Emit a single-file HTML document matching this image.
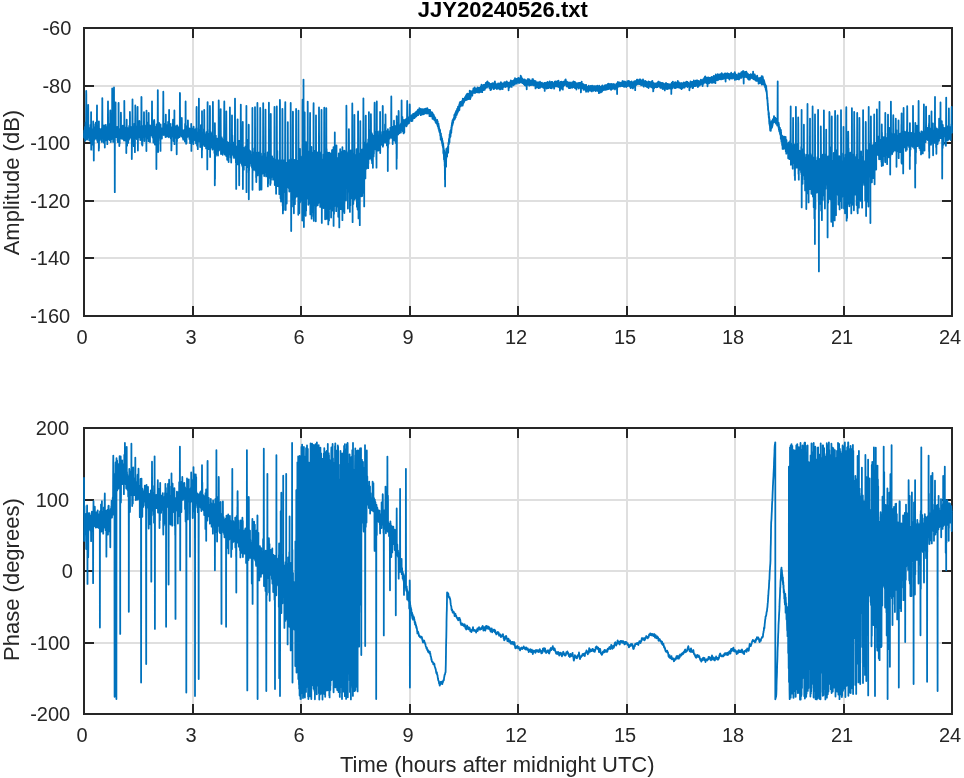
<!DOCTYPE html>
<html lang="en">
<head>
<meta charset="utf-8">
<title>JJY20240526.txt</title>
<style>
html,body{margin:0;padding:0;background:#fff;}
body{width:964px;height:778px;overflow:hidden;font-family:"Liberation Sans",sans-serif;}
svg{display:block;will-change:transform;}
text{-webkit-font-smoothing:antialiased;}
</style>
</head>
<body>
<svg width="964" height="778" viewBox="0 0 964 778">
<rect width="964" height="778" fill="#fff"/>
<g font-family="&quot;Liberation Sans&quot;, sans-serif">
<path d="M84.00 28.0V316.0M193.00 28.0V316.0M301.00 28.0V316.0M410.00 28.0V316.0M518.00 28.0V316.0M627.00 28.0V316.0M735.00 28.0V316.0M844.00 28.0V316.0M952.00 28.0V316.0M84.0 28.00H952.0M84.0 86.00H952.0M84.0 143.00H952.0M84.0 201.00H952.0M84.0 258.00H952.0M84.0 316.00H952.0" stroke="#dfdfdf" stroke-width="2.0" fill="none"/>
<path d="M84.0 28.0H952.0V316.0H84.0ZM193.00 316.0v-10M193.00 28.0v10M301.00 316.0v-10M301.00 28.0v10M410.00 316.0v-10M410.00 28.0v10M518.00 316.0v-10M518.00 28.0v10M627.00 316.0v-10M627.00 28.0v10M735.00 316.0v-10M735.00 28.0v10M844.00 316.0v-10M844.00 28.0v10M84.0 86.00h10M952.0 86.00h-10M84.0 143.00h10M952.0 143.00h-10M84.0 201.00h10M952.0 201.00h-10M84.0 258.00h10M952.0 258.00h-10" stroke="#262626" stroke-width="2.0" fill="none" stroke-linejoin="miter"/>
<clipPath id="c1"><rect x="83.0" y="27.0" width="870.0" height="290.0"/></clipPath>
<path clip-path="url(#c1)" d="M84.0 133.6L84.1 137.5L84.2 130.7L84.3 133.1L84.3 130.3L84.5 134.1L84.5 138.1L84.6 132.8L84.7 137.1L84.8 138.3L85.0 127.0L85.0 127.9L85.2 140.8L85.2 132.4L85.3 130.3L85.4 140.1L85.5 130.9L85.5 135.0L85.6 122.5L85.7 135.2L85.7 132.7L85.8 133.2L85.8 131.3L86.0 136.7L86.0 133.0L86.2 90.9L86.3 94.3L86.4 131.4L86.5 130.8L86.5 137.6L86.7 128.1L86.8 133.7L86.9 137.1L87.0 126.9L87.0 132.7L87.2 139.6L87.3 131.5L87.3 131.1L87.4 137.0L87.5 133.6L87.5 135.5L87.6 128.6L87.7 136.7L87.8 131.4L88.0 137.0L88.0 133.5L88.2 104.8L88.3 116.3L88.4 136.7L88.5 128.9L88.5 137.6L88.7 130.1L88.8 133.9L88.9 134.2L89.0 129.8L89.0 133.2L89.1 127.8L89.2 140.3L89.3 135.5L89.3 132.4L89.5 136.2L89.5 133.6L89.6 129.6L89.7 135.7L89.8 130.0L89.8 137.6L90.0 135.0L90.0 135.7L90.2 129.9L90.3 135.7L90.4 141.2L90.5 124.9L90.5 134.0L90.6 134.2L90.7 129.4L90.7 130.8L90.8 127.4L90.9 138.8L91.0 136.4L91.0 139.8L91.1 112.1L91.2 149.7L91.3 131.1L91.4 135.5L91.4 129.7L91.5 134.4L91.5 135.8L91.6 138.1L91.7 129.7L91.7 131.0L91.8 134.4L91.9 137.8L92.0 132.1L92.0 130.9L92.1 135.5L92.2 132.4L92.3 132.1L92.3 136.5L92.5 129.4L92.5 138.7L92.6 129.9L92.7 144.5L92.7 134.2L92.8 133.3L92.9 128.9L93.0 130.7L93.0 131.8L93.1 136.2L93.2 121.5L93.3 141.3L93.3 129.4L93.5 150.8L93.5 146.4L93.7 128.4L93.7 134.8L93.8 160.5L93.9 129.5L94.0 131.3L94.0 132.7L94.2 128.6L94.2 134.1L94.3 131.4L94.4 139.8L94.4 130.5L94.5 135.6L94.5 131.2L94.6 128.7L94.7 135.9L94.8 136.0L94.9 127.2L95.0 130.3L95.0 131.7L95.1 133.9L95.1 126.7L95.2 129.5L95.3 124.2L95.4 135.3L95.5 134.9L95.5 129.5L95.7 138.5L95.7 132.3L95.8 122.7L95.8 137.6L96.0 131.9L96.0 127.7L96.2 134.4L96.3 128.1L96.4 131.6L96.5 127.0L96.5 129.8L96.6 125.7L96.6 131.8L96.7 129.1L96.8 130.1L97.0 105.4L97.0 115.8L97.2 140.2L97.3 137.4L97.4 129.0L97.5 132.0L97.5 130.0L97.6 142.1L97.7 134.0L97.8 135.0L97.8 132.1L98.0 137.3L98.0 135.3L98.2 129.8L98.2 133.7L98.3 135.2L98.4 127.3L98.4 135.5L98.5 134.6L98.5 135.0L98.6 135.6L98.6 132.4L98.7 133.1L98.8 135.2L98.8 150.5L98.9 121.5L99.0 135.4L99.0 148.3L99.1 134.1L99.2 135.8L99.3 133.7L99.4 139.7L99.5 133.8L99.5 133.2L99.6 129.6L99.7 135.9L99.8 133.6L99.8 139.9L99.9 128.8L100.0 134.5L100.0 129.1L100.2 138.7L100.2 130.0L100.3 131.1L100.4 130.3L100.4 135.7L100.5 131.1L100.5 133.5L100.6 131.3L100.7 136.2L100.7 131.4L100.8 131.4L100.9 137.2L101.0 133.1L101.0 134.8L101.2 132.8L101.3 134.1L101.3 136.8L101.5 131.3L101.5 132.8L101.6 132.7L101.7 141.9L101.8 135.4L101.8 128.3L101.9 136.8L102.0 132.0L102.0 137.4L102.2 119.6L102.3 103.0L102.3 98.1L102.5 136.0L102.5 135.9L102.6 125.8L102.7 133.4L102.8 134.4L102.8 128.3L102.9 136.1L103.0 129.5L103.0 132.0L103.1 129.2L103.2 133.8L103.2 132.5L103.3 133.1L103.5 137.5L103.5 131.5L103.6 142.6L103.7 130.1L103.7 132.7L103.8 135.6L103.8 135.7L104.0 125.3L104.0 129.4L104.1 133.4L104.2 130.2L104.3 134.0L104.4 126.1L104.5 136.0L104.5 131.1L104.6 127.1L104.7 143.5L104.8 134.3L104.8 147.5L104.9 129.9L105.0 134.1L105.0 129.8L105.1 137.7L105.2 134.3L105.3 135.2L105.4 125.2L105.5 140.6L105.5 133.6L105.6 134.0L105.7 130.6L105.7 132.1L105.8 124.8L105.9 136.2L106.0 132.2L106.0 132.3L106.1 135.5L106.2 131.4L106.2 134.3L106.3 133.7L106.4 127.0L106.5 139.8L106.5 131.1L106.6 140.4L106.7 128.5L106.7 134.2L106.8 131.0L107.0 137.3L107.0 131.8L107.1 137.4L107.2 129.2L107.2 132.9L107.3 133.3L107.3 144.2L107.4 131.7L107.5 131.9L107.5 134.3L107.6 127.6L107.7 139.7L107.8 130.1L107.8 139.0L108.0 101.4L108.0 105.0L108.2 135.7L108.3 133.6L108.4 137.1L108.5 133.8L108.5 135.6L108.6 138.7L108.7 124.0L108.7 133.7L108.8 130.9L108.9 137.8L109.0 135.9L109.0 131.8L109.2 134.8L109.2 132.8L109.3 139.2L109.3 132.4L109.5 133.0L109.5 131.4L109.6 140.1L109.7 129.2L109.8 134.8L109.8 130.1L109.9 136.4L110.0 131.2L110.0 134.0L110.1 136.2L110.2 112.5L110.3 110.3L110.5 135.3L110.6 132.0L110.7 134.9L110.8 135.2L110.8 142.1L110.9 132.3L111.0 133.2L111.0 129.7L111.1 129.5L111.2 132.5L111.2 131.3L111.3 134.2L111.4 134.5L111.5 127.5L111.5 131.3L111.6 129.6L111.6 139.0L111.7 133.0L111.8 134.6L111.8 135.1L111.9 125.9L112.0 129.3L112.0 132.7L112.1 133.9L112.2 88.5L112.3 96.6L112.5 137.9L112.5 132.0L112.6 135.8L112.7 128.0L112.8 132.2L112.9 138.0L113.0 131.8L113.0 134.5L113.1 130.6L113.2 141.9L113.2 137.1L113.3 112.8L113.4 138.1L113.5 133.3L113.5 132.0L113.7 122.7L113.7 128.8L113.8 132.1L113.8 133.6L114.0 101.9L114.0 87.3L114.1 131.7L114.2 124.9L114.3 130.1L114.4 139.3L114.5 133.4L114.5 129.4L114.6 137.4L114.7 128.7L114.7 133.1L114.8 192.2L114.9 128.2L115.0 132.4L115.0 131.7L115.2 129.0L115.2 132.3L115.3 131.8L115.3 134.8L115.5 126.1L115.5 105.3L115.6 102.3L115.7 130.3L115.8 131.6L115.8 129.2L116.0 137.1L116.0 130.6L116.1 129.5L116.2 134.9L116.3 131.3L116.5 127.8L116.5 127.6L116.6 134.9L116.7 132.1L116.8 131.1L116.9 134.4L117.0 127.3L117.0 132.6L117.1 126.8L117.2 135.4L117.3 132.2L117.5 137.7L117.5 138.0L117.6 140.6L117.7 130.8L117.8 136.2L117.9 142.2L118.0 132.9L118.0 130.3L118.1 134.3L118.2 129.8L118.2 132.8L118.3 135.5L118.5 126.5L118.5 103.4L118.6 102.8L118.7 134.0L118.8 136.0L118.8 131.5L119.0 132.6L119.0 134.9L119.1 141.8L119.2 133.7L119.2 137.4L119.3 134.6L119.3 146.0L119.5 131.9L119.5 134.8L119.6 129.4L119.7 143.4L119.7 136.2L119.9 135.3L120.0 133.1L120.0 135.0L120.1 136.8L120.2 131.7L120.3 132.7L120.3 137.6L120.4 132.3L120.5 133.7L120.5 135.0L120.6 135.4L120.6 131.4L120.7 131.6L120.8 136.8L120.9 112.6L121.0 116.1L121.0 125.6L121.2 138.4L121.3 133.4L121.4 136.3L121.5 131.9L121.5 133.2L121.6 137.4L121.7 132.5L121.8 138.7L121.9 129.2L121.9 134.6L122.0 131.8L122.2 135.2L122.2 127.4L122.3 138.6L122.3 128.8L122.5 131.6L122.5 134.6L122.6 137.1L122.7 133.4L122.8 125.6L122.9 137.8L123.0 131.4L123.0 132.8L123.1 129.5L123.1 137.5L123.2 130.3L123.3 136.0L123.3 139.3L123.5 129.5L123.5 133.6L123.7 138.0L123.7 133.3L123.9 133.5L124.0 130.7L124.0 140.5L124.1 132.2L124.2 132.8L124.3 116.3L124.3 100.8L124.5 127.9L124.5 127.3L124.7 137.4L124.7 134.8L124.8 135.2L124.9 128.1L125.0 138.4L125.0 134.3L125.1 137.3L125.1 134.2L125.2 134.9L125.3 133.8L125.4 140.6L125.5 132.3L125.5 132.9L125.6 132.5L125.7 136.5L125.8 133.9L125.8 127.4L125.9 139.0L126.0 128.8L126.0 132.1L126.2 138.6L126.2 134.8L126.3 153.1L126.4 137.5L126.5 140.1L126.5 133.6L126.6 137.1L126.7 119.7L126.7 120.8L126.8 135.5L127.0 130.2L127.0 135.4L127.1 145.7L127.2 131.9L127.2 139.8L127.3 132.9L127.3 135.9L127.5 130.8L127.5 133.7L127.6 132.5L127.7 137.9L127.7 135.7L127.8 132.0L127.9 139.2L127.9 128.2L128.0 132.2L128.0 133.8L128.2 131.1L128.2 142.9L128.3 133.5L128.4 129.6L128.5 132.1L128.5 128.5L128.6 135.6L128.7 130.3L128.8 136.7L128.9 139.7L129.0 133.3L129.0 129.5L129.2 138.7L129.2 125.9L129.3 132.4L129.3 135.5L129.5 130.6L129.5 132.1L129.6 136.1L129.7 130.6L129.8 138.1L129.9 111.9L130.0 117.6L130.0 135.3L130.1 131.0L130.2 136.4L130.2 132.9L130.3 136.8L130.3 128.5L130.5 132.2L130.5 136.3L130.7 129.9L130.7 132.6L130.8 133.2L130.9 135.2L130.9 130.1L131.0 134.4L131.0 135.4L131.1 132.2L131.2 135.5L131.3 127.1L131.3 134.7L131.5 131.2L131.5 136.2L131.6 129.6L131.7 139.7L131.8 133.9L131.8 159.1L132.0 130.3L132.0 139.9L132.2 128.8L132.3 130.0L132.3 136.9L132.5 99.4L132.5 101.7L132.7 137.7L132.8 131.2L132.9 128.9L133.0 133.0L133.0 134.3L133.1 139.3L133.2 138.2L133.3 134.4L133.4 133.2L133.4 137.4L133.5 133.9L133.5 142.9L133.6 130.9L133.7 137.6L133.8 146.2L134.0 132.6L134.0 141.3L134.2 132.9L134.3 133.1L134.3 133.8L134.5 123.6L134.5 134.0L134.7 143.5L134.7 134.1L134.8 134.6L134.8 130.2L134.9 152.2L135.0 136.1L135.0 132.5L135.1 132.8L135.2 122.5L135.3 114.2L135.3 105.4L135.5 130.5L135.5 132.2L135.7 137.1L135.8 138.0L135.9 138.0L136.0 130.3L136.0 131.9L136.2 126.5L136.2 136.6L136.3 138.0L136.4 130.5L136.5 131.6L136.5 131.5L136.6 133.6L136.7 129.1L136.7 132.2L136.8 132.6L136.8 131.4L136.9 139.2L137.0 133.8L137.0 129.0L137.2 134.6L137.3 131.8L137.3 136.3L137.5 109.1L137.5 107.8L137.6 106.8L137.7 134.1L137.8 132.2L137.9 150.6L138.0 131.3L138.0 131.5L138.1 137.3L138.2 132.1L138.3 136.2L138.5 129.2L138.5 134.5L138.6 127.0L138.6 137.3L138.7 135.5L138.8 133.5L138.9 124.3L139.0 132.6L139.0 133.1L139.2 137.4L139.2 132.0L139.3 128.3L139.4 120.9L139.5 135.3L139.5 131.4L139.6 126.2L139.6 134.3L139.7 130.0L139.8 133.9L139.9 131.5L140.0 136.4L140.0 134.8L140.1 137.8L140.2 137.6L140.3 131.1L140.3 140.1L140.5 138.6L140.5 138.0L140.6 132.7L140.7 138.0L140.7 135.7L140.8 129.9L140.9 128.5L140.9 133.6L141.0 132.6L141.0 128.9L141.2 138.4L141.3 131.3L141.3 131.9L141.4 96.9L141.5 97.1L141.5 102.1L141.7 138.0L141.8 132.9L141.9 129.4L142.0 144.4L142.0 130.7L142.1 130.0L142.1 138.7L142.2 133.3L142.3 133.0L142.3 129.9L142.4 145.5L142.5 140.1L142.5 130.2L142.6 134.3L142.7 128.8L142.8 132.3L142.9 137.4L143.0 133.1L143.0 136.0L143.2 125.8L143.2 133.4L143.3 132.2L143.4 135.2L143.5 132.6L143.6 135.1L143.7 132.0L143.8 132.8L143.8 136.4L144.0 112.5L144.0 112.2L144.2 134.6L144.2 134.3L144.3 130.5L144.4 130.1L144.4 141.0L144.5 132.8L144.5 132.0L144.6 129.6L144.7 133.6L144.7 129.9L144.8 136.3L144.9 129.7L145.0 132.7L145.0 136.7L145.2 130.2L145.3 131.5L145.4 133.5L145.4 129.8L145.5 130.1L145.5 125.9L145.6 134.2L145.7 129.5L145.8 128.2L145.9 126.9L146.0 136.1L146.0 134.1L146.1 125.1L146.2 128.4L146.3 132.7L146.4 151.0L146.5 110.6L146.5 123.8L146.6 135.2L146.7 130.5L146.8 134.7L146.9 130.4L147.0 133.2L147.0 131.9L147.1 122.5L147.2 127.3L147.3 127.6L147.3 133.9L147.5 127.4L147.7 127.7L147.7 130.4L147.8 128.9L147.9 133.1L148.0 132.6L148.0 130.6L148.1 125.7L148.2 139.1L148.3 134.5L148.4 129.1L148.5 133.4L148.5 141.2L148.7 113.0L148.7 116.9L148.8 126.5L148.8 132.1L149.0 127.3L149.0 135.7L149.1 128.7L149.2 132.3L149.3 129.2L149.3 132.8L149.4 128.1L149.5 130.4L149.5 132.2L149.7 128.9L149.7 134.8L149.8 127.7L150.0 142.1L150.0 125.3L150.2 132.7L150.3 129.2L150.4 126.1L150.5 134.9L150.5 128.4L150.6 129.4L150.6 126.0L150.7 128.5L150.8 127.7L151.0 133.3L151.0 132.2L151.1 127.7L151.1 132.7L151.2 131.9L151.3 131.1L151.3 132.4L151.4 126.8L151.5 131.4L151.5 129.7L151.6 135.5L151.7 130.4L151.8 131.6L151.8 134.9L152.0 107.2L152.0 101.3L152.2 131.2L152.2 129.1L152.3 131.1L152.3 133.6L152.5 125.0L152.5 131.0L152.6 137.6L152.7 129.2L152.7 131.3L152.8 128.4L152.8 127.3L153.0 133.6L153.0 128.3L153.1 134.3L153.1 127.6L153.2 133.7L153.3 132.2L153.3 130.1L153.4 142.6L153.5 135.9L153.5 136.4L153.6 128.0L153.6 137.9L153.7 131.6L153.8 130.1L153.9 132.5L153.9 120.9L154.0 129.9L154.0 135.0L154.2 120.0L154.3 121.6L154.5 132.8L154.6 132.6L154.7 130.3L154.8 126.3L154.9 144.6L155.0 130.2L155.0 137.9L155.1 128.4L155.2 132.8L155.3 131.3L155.4 133.8L155.4 130.4L155.5 133.2L155.6 131.0L155.7 133.2L155.9 130.9L155.9 130.0L156.0 126.8L156.2 131.4L156.2 130.1L156.3 128.9L156.3 127.4L156.4 169.1L156.5 129.8L156.5 130.0L156.6 132.9L156.7 124.3L156.7 127.3L156.8 132.3L156.9 126.7L157.0 135.7L157.0 129.0L157.1 147.7L157.2 130.0L157.3 131.7L157.3 128.9L157.4 137.4L157.5 131.5L157.5 130.6L157.6 132.1L157.7 116.1L157.8 97.9L157.8 90.2L158.0 132.1L158.0 133.4L158.1 152.1L158.2 128.6L158.3 132.1L158.3 136.4L158.5 129.4L158.5 131.3L158.6 126.7L158.7 136.8L158.7 131.6L158.8 134.3L158.9 123.3L159.0 129.8L159.0 132.5L159.1 122.9L159.2 133.3L159.3 132.0L159.3 127.4L159.4 135.4L159.5 129.5L159.5 128.3L159.7 137.7L159.8 132.8L159.8 137.5L159.9 125.8L160.0 129.8L160.0 133.7L160.1 140.6L160.2 130.0L160.3 144.3L160.4 130.4L160.5 150.9L160.5 129.2L160.6 124.5L160.6 134.2L160.7 129.5L160.8 138.6L160.8 130.6L161.0 137.2L161.0 137.4L161.1 130.0L161.2 132.2L161.3 129.8L161.4 131.8L161.5 134.2L161.6 135.0L161.7 129.5L161.7 131.4L161.8 131.6L161.8 128.5L161.9 138.6L162.0 129.1L162.0 130.3L162.2 133.5L162.3 134.1L162.3 134.2L162.5 131.1L162.5 129.8L162.7 134.6L162.7 131.7L162.8 132.4L163.0 130.6L163.0 134.5L163.2 113.6L163.3 96.5L163.3 91.7L163.5 131.5L163.5 129.2L163.6 127.7L163.7 134.4L163.8 135.0L164.0 128.5L164.0 127.4L164.1 127.2L164.1 134.6L164.2 133.1L164.3 131.1L164.4 133.4L164.4 123.8L164.5 129.0L164.5 130.8L164.7 128.8L164.7 133.0L164.8 128.9L164.8 133.5L165.0 124.4L165.0 128.9L165.1 133.7L165.2 124.2L165.2 130.5L165.3 135.2L165.4 128.7L165.5 137.1L165.5 131.4L165.7 131.9L165.7 126.5L165.8 115.0L165.8 114.6L166.0 132.9L166.0 136.9L166.1 126.3L166.2 127.3L166.3 131.8L166.4 128.8L166.5 133.5L166.5 132.0L166.6 132.1L166.7 124.9L166.8 134.6L166.8 135.9L166.9 129.2L167.0 130.8L167.0 129.1L167.2 136.2L167.2 127.3L167.3 130.9L167.4 127.1L167.4 132.3L167.5 130.3L167.5 131.0L167.6 128.1L167.7 132.9L167.8 129.7L167.9 127.7L167.9 136.6L168.0 135.2L168.0 131.7L168.1 122.0L168.2 135.9L168.3 132.3L168.4 127.3L168.5 132.2L168.5 130.2L168.6 129.5L168.7 132.7L168.8 136.9L168.8 131.3L168.9 137.3L169.0 135.3L169.0 127.0L169.1 109.8L169.2 131.6L169.3 134.3L169.4 134.8L169.5 130.9L169.5 129.4L169.6 133.9L169.7 131.5L169.8 133.0L169.8 134.9L169.9 129.3L170.0 129.7L170.0 135.0L170.2 124.0L170.2 132.2L170.3 131.2L170.3 136.1L170.4 130.8L170.5 131.0L170.6 129.2L170.7 131.9L170.8 129.8L170.8 138.6L171.0 127.5L171.0 133.4L171.1 129.7L171.2 133.0L171.3 128.7L171.4 150.4L171.5 138.6L171.5 147.0L171.6 129.2L171.7 131.3L171.8 132.9L171.8 131.9L171.9 137.1L172.0 135.6L172.0 127.2L172.1 133.6L172.2 127.0L172.2 131.3L172.3 131.9L172.4 135.0L172.5 131.5L172.5 123.4L172.6 133.2L172.7 130.3L172.8 128.1L172.8 135.0L173.0 129.1L173.0 119.7L173.1 134.2L173.2 129.2L173.3 128.8L173.4 129.4L173.5 121.3L173.5 141.0L173.7 125.7L173.7 128.2L173.8 128.4L173.9 130.7L174.0 136.8L174.2 130.2L174.3 140.2L174.4 110.4L174.5 144.2L174.5 129.9L174.6 128.9L174.6 134.8L174.7 133.3L174.8 126.8L175.0 129.1L175.0 130.5L175.1 136.1L175.2 134.7L175.3 130.5L175.4 133.3L175.4 129.3L175.5 130.2L175.5 129.4L175.6 135.1L175.7 126.5L175.8 131.2L175.8 128.3L175.9 135.0L176.0 131.4L176.0 132.7L176.1 137.9L176.2 129.6L176.3 131.5L176.4 133.0L176.4 128.1L176.5 128.9L176.5 126.2L176.7 154.3L176.8 133.5L176.9 133.5L176.9 128.6L177.0 132.3L177.0 141.2L177.1 125.4L177.2 135.0L177.3 128.1L177.3 134.9L177.5 133.3L177.5 134.2L177.6 135.5L177.7 130.0L177.8 132.1L177.8 127.7L177.9 134.0L178.0 130.1L178.0 137.0L178.1 131.5L178.2 137.9L178.2 132.0L178.3 134.0L178.3 131.1L178.4 135.8L178.5 132.9L178.5 133.0L178.7 135.9L178.7 128.7L178.8 130.3L178.8 129.9L178.9 135.7L179.0 134.1L179.0 133.6L179.2 126.3L179.3 133.1L179.4 127.4L179.5 127.7L179.5 133.5L179.6 127.5L179.6 137.1L179.7 129.5L179.8 127.4L179.8 132.9L179.9 93.0L180.0 93.4L180.0 106.1L180.2 130.8L180.3 132.8L180.4 128.9L180.5 130.7L180.5 133.0L180.6 125.7L180.7 135.5L180.7 132.3L180.8 129.4L180.9 135.2L181.0 132.8L181.0 131.7L181.1 133.8L181.1 123.8L181.2 128.0L181.3 125.9L181.3 133.8L181.5 130.0L181.5 134.9L181.6 127.9L181.7 136.4L181.7 131.7L181.8 121.2L181.8 118.0L182.0 132.4L182.0 133.4L182.1 134.8L182.2 129.8L182.3 133.8L182.4 136.0L182.5 131.8L182.5 135.2L182.6 134.0L182.7 137.6L182.8 134.5L182.8 132.0L183.0 135.3L183.1 139.1L183.2 132.3L183.3 137.5L183.3 139.7L183.5 132.5L183.5 137.4L183.6 131.3L183.7 135.9L183.8 130.6L183.9 130.1L184.0 138.8L184.0 135.3L184.1 131.0L184.2 136.3L184.3 137.2L184.5 130.5L184.5 132.9L184.7 137.3L184.7 132.7L184.8 130.7L184.9 141.6L185.0 136.7L185.0 133.0L185.1 123.8L185.2 133.9L185.2 128.2L185.3 130.1L185.5 141.0L185.5 133.9L185.6 101.5L185.7 125.2L185.8 132.7L185.9 138.1L186.0 130.0L186.0 131.7L186.1 143.8L186.2 141.1L186.3 131.4L186.3 128.4L186.5 143.2L186.5 135.3L186.6 138.0L186.7 129.2L186.7 130.3L186.8 133.1L186.9 126.4L187.0 135.1L187.0 133.2L187.2 131.7L187.2 136.7L187.3 132.2L187.3 130.6L187.4 134.3L187.5 130.9L187.5 130.5L187.7 136.4L187.7 136.0L187.8 136.8L187.9 120.3L188.0 124.2L188.0 132.4L188.1 130.9L188.2 135.8L188.2 135.0L188.3 130.4L188.3 135.7L188.5 135.3L188.5 135.5L188.7 129.6L188.7 133.0L188.8 130.2L189.0 133.8L189.0 131.1L189.1 135.1L189.2 131.5L189.3 135.3L189.3 128.5L189.4 138.9L189.5 138.3L189.5 139.1L189.6 130.1L189.7 133.4L189.8 136.1L189.9 137.7L190.0 132.4L190.0 132.1L190.1 143.2L190.2 129.2L190.2 138.3L190.3 132.4L190.3 134.2L190.5 130.1L190.5 134.6L190.6 136.1L190.7 132.9L190.8 135.5L190.8 137.2L190.9 132.9L191.0 134.3L191.0 135.9L191.1 143.2L191.2 123.8L191.3 134.5L191.4 130.7L191.4 150.9L191.5 138.9L191.5 129.3L191.7 135.9L191.7 135.0L191.8 143.1L191.8 129.8L192.0 133.9L192.0 133.4L192.1 142.4L192.2 128.9L192.3 135.6L192.5 133.2L192.5 129.4L192.6 137.8L192.7 130.5L192.8 133.9L192.8 130.5L192.9 140.3L193.0 135.1L193.0 133.3L193.2 139.9L193.2 132.1L193.3 130.6L193.4 127.0L193.4 144.0L193.5 139.1L193.5 130.4L193.6 126.7L193.7 131.2L193.7 129.8L193.8 138.5L193.9 138.7L194.0 132.7L194.0 131.2L194.1 138.3L194.2 130.8L194.2 137.5L194.3 135.9L194.3 139.9L194.4 132.9L194.5 134.8L194.5 132.3L194.6 130.8L194.7 136.0L194.8 134.2L194.9 135.8L195.0 132.5L195.0 130.3L195.1 129.5L195.2 135.2L195.3 136.2L195.3 140.4L195.4 132.7L195.5 137.2L195.5 132.1L195.6 139.0L195.7 134.4L195.9 136.8L195.9 134.1L196.0 143.4L196.2 135.5L196.3 135.2L196.3 127.9L196.4 135.4L196.5 129.5L196.5 110.6L196.6 106.9L196.7 135.2L196.8 135.3L196.8 139.5L196.9 132.3L197.0 136.5L197.0 138.6L197.1 145.7L197.2 136.7L197.3 132.4L197.3 140.8L197.5 139.6L197.5 133.7L197.7 144.1L197.8 149.2L198.0 132.6L198.0 133.0L198.2 140.1L198.3 136.0L198.4 140.9L198.5 138.9L198.5 136.9L198.6 128.0L198.7 135.1L198.8 129.7L198.9 98.6L199.0 132.1L199.0 141.6L199.1 134.0L199.2 141.7L199.3 140.6L199.5 134.3L199.5 140.2L199.7 141.2L199.7 129.7L199.8 136.2L199.9 131.2L200.0 140.6L200.0 138.1L200.1 134.2L200.2 147.1L200.3 131.1L200.4 142.4L200.5 135.8L200.5 141.0L200.7 137.2L200.7 140.8L200.8 138.1L200.9 125.1L200.9 139.1L201.0 137.7L201.0 138.4L201.1 138.3L201.2 144.4L201.3 138.1L201.3 140.0L201.4 126.8L201.5 134.7L201.5 130.5L201.7 142.5L201.8 138.9L201.9 157.4L202.0 121.8L202.0 111.2L202.1 150.1L202.2 134.4L202.3 140.6L202.4 140.8L202.5 136.1L202.5 137.4L202.6 137.3L202.7 143.9L202.7 137.5L202.8 142.1L202.9 132.7L203.0 137.5L203.0 139.2L203.1 141.8L203.2 137.4L203.3 136.3L203.4 141.4L203.5 136.5L203.5 143.9L203.6 135.6L203.7 141.1L203.8 133.1L203.8 139.7L203.9 129.1L204.0 137.0L204.0 144.2L204.1 145.6L204.2 109.9L204.2 112.2L204.3 119.1L204.4 146.0L204.5 143.9L204.5 134.8L204.6 143.8L204.7 141.6L204.8 140.3L204.9 142.4L204.9 134.2L205.0 136.6L205.0 139.6L205.1 136.4L205.2 141.7L205.2 138.6L205.3 139.4L205.4 145.8L205.5 134.8L205.5 136.6L205.6 136.6L205.7 145.6L205.8 145.5L205.9 137.4L206.0 145.2L206.0 137.5L206.1 148.4L206.2 136.7L206.3 136.9L206.3 141.5L206.4 132.2L206.5 140.6L206.5 136.6L206.6 146.1L206.7 136.5L206.8 141.4L206.9 142.9L207.0 135.6L207.0 138.1L207.1 136.1L207.2 143.0L207.2 142.7L207.3 169.4L207.5 120.7L207.5 112.9L207.6 102.1L207.7 143.3L207.8 138.5L207.9 137.1L208.0 142.4L208.0 137.3L208.2 143.7L208.2 137.6L208.3 141.7L208.4 133.7L208.5 149.2L208.6 140.4L208.7 138.2L208.8 144.2L208.9 140.2L209.0 142.2L209.0 142.9L209.1 133.6L209.2 143.4L209.2 138.6L209.3 140.6L209.3 138.8L209.4 142.0L209.5 139.6L209.5 143.2L209.7 129.5L209.8 139.1L209.9 106.0L210.0 109.3L210.0 127.4L210.1 157.1L210.2 136.2L210.3 138.5L210.4 135.0L210.5 139.2L210.5 131.8L210.6 144.5L210.7 140.3L210.8 140.8L210.8 137.4L210.9 144.5L211.0 142.6L211.0 140.6L211.1 138.3L211.2 143.1L211.2 142.3L211.3 140.4L211.3 145.4L211.5 136.7L211.5 143.3L211.6 139.2L211.7 147.6L211.7 143.4L211.8 137.9L211.8 140.7L212.0 136.8L212.0 144.1L212.1 138.8L212.2 139.5L212.3 138.6L212.3 133.0L212.5 149.5L212.5 147.7L212.7 137.2L212.8 117.9L212.9 101.8L213.0 122.6L213.0 147.4L213.2 139.4L213.2 143.6L213.3 140.5L213.4 144.5L213.5 144.4L213.5 142.5L213.6 148.7L213.7 140.1L213.8 144.2L213.9 136.5L214.0 147.6L214.0 145.3L214.2 138.3L214.3 145.2L214.4 140.4L214.4 153.0L214.5 144.2L214.5 144.7L214.6 139.0L214.7 139.7L214.8 144.2L214.8 185.3L214.9 123.1L215.0 130.4L215.0 179.1L215.2 136.5L215.3 142.3L215.3 147.5L215.4 140.0L215.5 144.5L215.5 150.1L215.6 140.3L215.7 156.0L215.7 145.3L215.8 144.8L215.8 135.6L216.0 143.7L216.0 141.6L216.1 155.0L216.2 138.5L216.2 140.0L216.3 149.1L216.5 140.1L216.5 146.6L216.6 145.5L216.7 150.6L216.8 143.1L216.8 139.6L217.0 141.1L217.0 143.6L217.1 139.8L217.1 150.2L217.2 145.2L217.3 147.3L217.4 138.7L217.5 141.2L217.5 138.9L217.6 145.5L217.7 138.9L217.8 140.4L218.0 155.5L218.0 141.3L218.1 145.0L218.2 142.8L218.3 142.4L218.4 138.8L218.5 146.5L218.5 146.3L218.6 148.4L218.7 100.4L218.8 106.2L218.9 150.5L219.0 142.9L219.0 142.7L219.1 140.8L219.2 150.1L219.3 142.6L219.5 148.6L219.5 142.9L219.7 146.3L219.7 140.3L219.8 148.8L219.9 139.5L220.0 140.0L220.0 141.7L220.2 147.2L220.3 149.4L220.4 140.4L220.5 145.2L220.5 143.9L220.7 109.1L220.7 116.5L220.8 130.4L221.0 154.0L221.0 146.3L221.2 146.7L221.2 140.7L221.3 149.0L221.3 152.6L221.5 141.7L221.5 145.0L221.6 137.1L221.7 148.4L221.8 145.1L222.0 150.6L222.0 145.3L222.1 138.4L222.2 148.3L222.3 143.7L222.4 140.3L222.5 147.0L222.5 148.4L222.6 142.6L222.7 154.8L222.8 142.0L222.9 151.3L223.0 146.2L223.0 143.6L223.1 148.6L223.2 147.3L223.3 146.8L223.3 151.1L223.5 141.6L223.5 143.3L223.6 149.2L223.7 139.7L223.8 147.8L223.8 152.3L223.9 143.8L224.0 147.0L224.0 148.0L224.2 111.5L224.3 101.4L224.5 151.2L224.5 147.1L224.6 153.8L224.7 146.9L224.7 147.1L224.8 148.4L224.8 154.6L224.9 141.0L225.0 146.9L225.0 152.8L225.2 140.2L225.2 147.9L225.3 148.5L225.3 145.2L225.4 150.8L225.5 148.5L225.5 145.0L225.7 154.2L225.7 148.7L225.8 150.7L225.8 155.1L226.0 144.3L226.0 146.6L226.2 156.1L226.2 137.2L226.3 116.5L226.3 111.3L226.5 147.4L226.5 150.2L226.7 145.0L226.7 150.2L226.8 153.2L226.9 153.9L226.9 147.5L227.0 152.2L227.0 146.4L227.2 159.8L227.2 143.0L227.3 145.5L227.3 158.3L227.5 146.4L227.5 143.0L227.6 142.1L227.7 151.1L227.7 149.8L227.8 157.8L228.0 146.0L228.0 143.9L228.1 149.1L228.2 143.9L228.3 150.1L228.4 154.3L228.4 145.3L228.5 152.1L228.5 149.0L228.6 162.1L228.7 143.9L228.7 145.2L228.8 146.0L228.9 143.0L229.0 149.7L229.0 147.0L229.2 154.4L229.2 151.3L229.3 144.2L229.5 152.1L229.5 150.0L229.6 153.2L229.7 142.7L229.7 150.8L229.8 150.0L229.9 107.5L230.0 138.3L230.0 141.3L230.2 152.2L230.2 152.0L230.3 149.3L230.3 143.5L230.4 145.8L230.5 149.2L230.6 157.6L230.7 149.5L230.8 150.1L230.9 153.0L231.0 147.3L231.0 148.6L231.2 162.5L231.2 145.1L231.3 146.8L231.4 143.7L231.4 157.9L231.5 147.5L231.5 149.9L231.6 145.5L231.7 150.8L231.8 152.9L231.8 154.4L232.0 115.4L232.0 130.5L232.1 154.3L232.2 153.5L232.3 154.5L232.3 135.3L232.5 148.1L232.5 146.7L232.7 154.1L232.7 149.8L232.8 153.5L232.8 144.4L233.0 148.3L233.0 145.9L233.2 154.5L233.3 151.1L233.3 144.9L233.5 150.6L233.5 146.4L233.6 155.9L233.7 150.3L233.8 150.4L233.9 142.6L233.9 152.3L234.0 145.7L234.0 157.9L234.1 143.0L234.2 153.0L234.3 154.1L234.3 156.0L234.4 147.9L234.5 149.4L234.5 150.7L234.7 155.8L234.7 145.6L234.8 146.3L234.8 151.6L235.0 98.6L235.0 98.8L235.2 154.5L235.3 149.8L235.3 145.5L235.4 152.6L235.5 149.4L235.5 157.4L235.6 148.3L235.7 151.3L235.8 157.8L235.9 162.8L235.9 149.5L236.0 153.3L236.0 152.9L236.1 148.8L236.2 188.9L236.2 150.6L236.3 152.3L236.3 158.1L236.5 148.2L236.5 150.3L236.6 157.7L236.7 146.3L236.8 149.5L236.9 162.5L236.9 148.2L237.0 156.6L237.0 152.7L237.1 156.3L237.2 151.6L237.3 148.3L237.5 164.4L237.5 130.5L237.6 119.3L237.7 155.3L237.7 152.2L237.8 148.8L237.8 144.3L237.9 149.9L238.0 148.7L238.0 145.2L238.1 153.4L238.2 149.3L238.3 161.7L238.3 150.6L238.5 151.9L238.5 156.2L238.6 141.4L238.7 142.5L238.8 150.9L238.9 148.9L238.9 158.4L239.0 154.3L239.0 147.7L239.2 185.3L239.3 150.2L239.3 150.9L239.4 140.8L239.5 147.5L239.5 150.0L239.6 149.7L239.7 153.4L239.8 152.1L239.8 153.0L239.9 148.1L240.0 150.8L240.0 149.0L240.2 159.3L240.3 147.6L240.5 153.2L240.5 144.5L240.6 154.9L240.7 122.0L240.8 107.0L240.8 104.6L241.0 152.5L241.0 162.2L241.2 146.7L241.2 163.2L241.3 156.3L241.4 147.8L241.5 153.8L241.5 158.1L241.6 148.6L241.7 152.6L241.8 160.6L241.8 155.9L241.9 164.5L242.0 157.6L242.0 164.9L242.2 150.9L242.2 152.6L242.3 151.7L242.4 151.5L242.5 166.4L242.5 153.5L242.7 166.5L242.7 129.9L242.8 122.0L242.9 189.1L243.0 152.9L243.0 161.9L243.2 149.5L243.2 152.4L243.3 155.4L243.3 153.9L243.4 162.4L243.5 154.2L243.5 154.3L243.6 147.7L243.6 160.7L243.7 152.3L243.8 160.6L243.8 169.7L243.9 154.1L244.0 155.9L244.0 157.5L244.2 151.8L244.3 161.1L244.4 151.2L244.4 162.4L244.5 153.9L244.5 158.8L244.6 148.1L244.6 159.4L244.7 150.0L244.8 151.9L244.9 165.1L244.9 151.4L245.0 152.9L245.0 154.5L245.1 152.1L245.1 161.0L245.2 153.0L245.3 159.2L245.4 146.5L245.5 160.8L245.5 156.1L245.7 153.1L245.7 158.9L245.8 154.8L245.9 148.9L246.0 163.7L246.0 158.8L246.1 146.5L246.2 159.4L246.2 155.5L246.3 136.0L246.4 105.8L246.5 192.2L246.5 153.6L246.6 149.8L246.7 162.4L246.7 155.5L246.8 161.0L246.9 148.6L247.0 158.6L247.0 155.8L247.1 147.3L247.2 160.3L247.3 157.9L247.4 167.2L247.5 150.8L247.5 159.5L247.6 163.5L247.6 151.5L247.7 157.8L247.8 158.6L247.8 139.7L248.0 161.0L248.0 154.2L248.1 162.2L248.2 153.9L248.2 157.9L248.3 162.8L248.4 149.9L248.5 162.4L248.5 150.5L248.6 172.5L248.7 124.7L248.8 125.8L248.8 199.3L249.0 158.6L249.0 149.3L249.1 170.5L249.2 151.7L249.3 153.1L249.5 160.1L249.5 155.1L249.6 152.3L249.7 162.2L249.7 154.4L249.8 158.3L249.9 160.7L250.0 156.0L250.0 151.0L250.1 162.5L250.2 161.7L250.3 160.8L250.4 151.4L250.5 157.4L250.5 160.1L250.6 154.7L250.6 162.9L250.7 160.4L250.8 154.7L250.8 163.4L251.0 161.2L251.0 161.5L251.1 158.5L251.2 165.9L251.3 165.4L251.4 158.2L251.5 161.8L251.5 161.2L251.6 157.4L251.6 166.0L251.7 158.3L251.8 158.5L251.8 156.5L252.0 167.7L252.0 155.0L252.2 163.3L252.3 160.0L252.4 108.0L252.5 189.8L252.5 160.8L252.6 173.1L252.7 151.9L252.7 155.0L252.8 159.7L252.9 156.3L253.0 166.2L253.0 160.4L253.1 167.6L253.2 156.9L253.2 157.7L253.3 161.5L253.3 157.3L253.4 169.8L253.5 161.6L253.5 160.1L253.7 165.9L253.7 158.4L253.8 162.0L253.8 158.9L254.0 169.6L254.0 159.2L254.1 164.3L254.2 159.0L254.3 161.5L254.4 168.0L254.5 148.3L254.5 158.1L254.6 162.6L254.7 154.4L254.7 158.5L254.8 161.1L254.9 165.4L255.0 116.9L255.0 107.1L255.2 160.8L255.2 155.9L255.3 170.6L255.5 154.5L255.5 156.7L255.6 166.0L255.7 155.0L255.8 158.9L255.8 153.2L255.9 169.1L256.0 154.0L256.0 152.9L256.1 177.5L256.2 165.6L256.3 182.1L256.4 153.6L256.5 158.5L256.5 155.2L256.6 173.4L256.7 157.3L256.8 160.4L256.8 170.1L256.9 152.5L257.0 159.0L257.0 155.2L257.1 167.3L257.2 161.5L257.3 157.4L257.4 103.0L257.5 116.5L257.5 155.2L257.6 151.6L257.7 175.4L257.8 164.1L257.8 155.8L257.9 167.8L258.0 160.2L258.0 172.7L258.2 163.1L258.3 153.5L258.4 171.5L258.5 163.8L258.5 156.7L258.6 167.3L258.7 161.6L258.8 167.8L258.9 168.2L259.0 152.6L259.0 162.4L259.1 165.3L259.2 154.4L259.2 154.9L259.3 160.6L259.4 156.5L259.5 163.7L259.5 158.2L259.6 189.9L259.7 162.9L259.8 165.4L259.8 168.2L259.9 158.9L260.0 160.8L260.0 154.8L260.1 162.3L260.2 107.9L260.3 111.9L260.5 166.8L260.5 154.9L260.6 173.9L260.7 160.1L260.8 162.7L260.9 171.3L261.0 153.5L261.0 164.1L261.1 189.3L261.2 161.2L261.3 161.0L261.4 157.5L261.5 162.1L261.5 189.5L261.7 162.9L261.8 157.7L261.9 161.2L262.0 161.0L262.0 166.0L262.2 169.3L262.2 161.9L262.3 166.9L262.3 157.5L262.4 173.7L262.5 157.9L262.5 159.0L262.6 167.9L262.7 156.2L262.7 160.8L262.8 168.0L262.8 162.1L263.0 166.0L263.1 126.6L263.2 103.2L263.2 109.0L263.3 126.5L263.4 167.9L263.5 162.5L263.5 166.8L263.6 160.8L263.7 167.7L263.7 161.7L263.8 155.8L263.8 165.7L264.0 164.0L264.0 163.5L264.1 157.7L264.2 176.1L264.3 153.9L264.4 167.1L264.5 159.4L264.5 162.4L264.6 166.6L264.6 161.5L264.7 162.5L264.8 166.3L264.8 162.9L264.9 171.2L265.0 165.5L265.0 172.2L265.1 158.4L265.2 162.0L265.3 165.4L265.5 119.3L265.5 109.6L265.7 166.3L265.7 159.9L265.8 165.6L265.9 159.9L265.9 171.5L266.0 165.3L266.0 166.5L266.1 176.4L266.1 164.6L266.2 169.1L266.3 161.4L266.3 168.8L266.4 161.2L266.5 165.5L266.5 165.7L266.6 173.3L266.6 159.0L266.7 165.4L266.8 173.7L266.9 159.3L267.0 160.2L267.0 168.9L267.1 172.3L267.2 157.4L267.3 161.9L267.5 167.7L267.5 159.1L267.7 152.4L267.7 173.4L267.8 160.3L267.9 186.4L268.0 164.2L268.0 160.6L268.1 183.6L268.2 167.2L268.3 166.6L268.3 171.9L268.4 157.9L268.5 165.5L268.5 159.2L268.6 159.1L268.7 174.6L268.7 173.2L268.8 161.0L268.9 102.7L269.0 152.4L269.0 177.8L269.1 155.5L269.2 165.2L269.3 172.3L269.4 175.8L269.5 162.8L269.5 167.6L269.7 163.1L269.8 167.1L269.9 172.1L270.0 162.7L270.0 162.2L270.2 159.2L270.2 168.9L270.3 184.9L270.4 153.6L270.5 169.3L270.5 166.2L270.6 183.3L270.6 159.9L270.7 164.5L270.8 119.6L270.8 114.0L271.0 180.1L271.0 160.5L271.1 170.1L271.2 161.0L271.3 163.5L271.3 163.1L271.4 173.9L271.5 165.6L271.5 164.3L271.6 163.8L271.7 176.9L271.7 172.5L271.8 165.4L271.9 165.1L272.0 176.2L272.0 165.1L272.1 156.3L272.2 171.0L272.2 165.9L272.3 157.4L272.5 174.8L272.5 170.0L272.6 174.4L272.7 164.9L272.7 168.8L272.8 162.9L272.8 158.8L272.9 169.4L273.0 165.4L273.0 168.1L273.1 179.7L273.2 164.2L273.3 170.0L273.3 172.8L273.4 169.4L273.5 169.9L273.5 177.3L273.6 178.2L273.7 171.2L273.7 172.6L273.8 158.6L274.0 177.2L274.0 172.5L274.1 178.5L274.2 164.1L274.3 164.9L274.3 168.1L274.5 106.8L274.5 111.1L274.6 171.3L274.7 168.4L274.8 185.1L274.9 164.6L275.0 168.8L275.0 162.7L275.1 169.9L275.2 165.3L275.3 167.7L275.3 179.2L275.4 160.0L275.5 169.8L275.5 181.0L275.6 160.5L275.7 170.3L275.8 177.7L275.9 175.0L276.0 188.5L276.0 165.2L276.1 193.8L276.2 160.3L276.3 183.9L276.5 158.9L276.5 160.9L276.7 177.2L276.7 130.9L276.8 109.1L276.8 106.4L277.0 177.2L277.0 179.3L277.1 164.3L277.2 184.1L277.3 150.8L277.4 186.2L277.5 161.1L277.5 174.0L277.6 179.1L277.7 173.1L277.8 168.6L277.9 161.3L277.9 174.2L278.0 166.8L278.0 174.3L278.1 174.8L278.2 168.9L278.3 169.0L278.3 186.1L278.4 162.6L278.5 163.3L278.5 165.6L278.6 160.5L278.7 180.5L278.8 173.2L278.9 167.5L279.0 175.3L279.0 167.6L279.1 166.1L279.2 187.7L279.2 176.3L279.3 194.2L279.3 168.0L279.5 171.1L279.5 178.8L279.7 163.2L279.7 179.6L279.8 171.0L279.9 99.9L280.0 103.1L280.0 153.7L280.1 193.4L280.2 179.9L280.3 189.4L280.5 165.1L280.5 198.2L280.7 165.4L280.8 163.7L280.9 162.5L281.0 201.5L281.0 174.4L281.1 164.3L281.2 193.4L281.3 167.0L281.3 180.3L281.4 160.8L281.5 172.7L281.5 163.9L281.6 174.4L281.7 160.1L281.7 173.7L281.8 161.8L281.9 182.1L282.0 172.7L282.0 190.3L282.1 167.9L282.2 186.3L282.3 176.9L282.4 108.8L282.5 120.4L282.5 130.3L282.7 205.7L282.7 181.7L282.8 172.3L282.9 213.4L282.9 163.8L283.0 170.3L283.0 162.0L283.1 160.1L283.2 202.5L283.3 176.9L283.5 167.6L283.5 172.2L283.6 169.8L283.7 210.1L283.7 173.3L283.8 189.0L283.9 169.3L284.0 172.2L284.0 183.6L284.1 189.1L284.2 167.7L284.2 175.9L284.3 178.9L284.5 164.4L284.5 171.3L284.6 175.3L284.6 160.1L284.7 171.9L284.8 170.2L284.9 167.4L284.9 192.1L285.0 177.0L285.0 180.7L285.2 107.7L285.3 102.1L285.4 173.0L285.5 167.3L285.5 185.8L285.6 165.9L285.7 210.1L285.7 172.0L285.8 174.2L285.8 196.2L285.9 165.0L286.0 176.3L286.0 177.8L286.1 168.8L286.2 178.8L286.2 172.3L286.3 173.2L286.4 186.3L286.4 165.8L286.5 183.9L286.5 173.3L286.6 169.7L286.7 203.6L286.8 171.6L286.9 185.3L287.0 162.6L287.0 175.4L287.2 183.2L287.2 166.4L287.3 174.5L287.4 185.6L287.5 163.6L287.5 169.1L287.6 178.6L287.7 161.1L287.8 136.0L287.8 122.1L288.0 177.1L288.0 171.3L288.1 169.1L288.2 187.0L288.3 168.1L288.5 177.8L288.5 172.5L288.7 169.6L288.7 188.0L288.8 174.1L288.9 166.6L288.9 175.8L289.0 169.2L289.0 165.7L289.1 183.6L289.2 167.8L289.3 191.6L289.3 168.2L289.5 179.7L289.5 160.1L289.7 175.7L289.8 169.2L289.9 165.9L289.9 174.3L290.0 171.9L290.0 175.5L290.2 189.0L290.2 181.0L290.3 161.2L290.3 182.0L290.5 176.5L290.5 174.5L290.7 103.0L290.7 110.6L290.8 127.8L290.9 183.3L291.0 174.2L291.0 175.2L291.2 231.0L291.3 178.9L291.4 159.1L291.5 174.8L291.5 170.8L291.6 186.4L291.7 182.3L291.8 163.6L292.0 206.6L292.0 176.0L292.1 200.2L292.2 170.8L292.2 173.6L292.3 184.2L292.4 160.1L292.5 181.3L292.5 179.4L292.6 167.3L292.6 182.8L292.7 177.5L292.8 196.6L292.9 111.7L293.0 112.4L293.0 119.0L293.1 192.2L293.2 178.8L293.3 175.8L293.5 183.5L293.5 167.0L293.6 163.0L293.7 185.3L293.8 169.9L293.9 213.3L294.0 169.6L294.0 189.9L294.2 165.3L294.2 174.6L294.3 164.2L294.5 187.7L294.5 184.3L294.6 160.0L294.7 171.7L294.8 167.9L294.9 204.2L294.9 166.6L295.0 180.1L295.0 165.4L295.1 164.5L295.2 197.9L295.2 167.1L295.3 170.2L295.4 167.5L295.5 187.7L295.5 183.2L295.6 163.9L295.7 169.7L295.8 187.5L295.9 195.4L295.9 159.8L296.0 166.0L296.0 148.1L296.1 109.0L296.2 131.9L296.3 183.6L296.4 164.9L296.5 196.7L296.5 165.9L296.6 176.4L296.7 175.7L296.8 173.4L296.9 188.8L297.0 164.8L297.0 164.0L297.1 190.1L297.2 172.8L297.3 181.6L297.4 167.7L297.5 191.8L297.5 161.2L297.6 179.7L297.7 173.3L297.8 163.8L297.9 162.1L298.0 196.0L298.0 174.7L298.1 165.7L298.2 189.1L298.2 170.7L298.3 171.7L298.3 214.8L298.5 110.6L298.5 115.8L298.7 177.6L298.7 169.3L298.8 175.0L298.9 171.9L298.9 189.3L299.0 174.3L299.0 160.9L299.2 179.2L299.2 165.2L299.3 213.2L299.4 162.9L299.5 163.4L299.5 182.2L299.7 197.2L299.7 184.8L299.8 173.4L299.9 202.5L299.9 172.3L300.0 174.4L300.0 148.8L300.2 171.4L300.2 161.0L300.3 187.2L300.3 201.8L300.5 163.7L300.5 176.1L300.6 180.8L300.7 170.3L300.8 166.5L300.8 183.7L301.0 159.7L301.0 180.6L301.2 157.1L301.3 164.4L301.3 183.1L301.5 163.2L301.5 178.1L301.6 163.1L301.7 185.4L301.8 176.2L301.9 160.5L302.0 200.2L302.0 187.3L302.1 156.2L302.2 220.5L302.3 197.5L302.4 217.6L302.5 128.8L302.5 108.4L302.6 99.7L302.7 177.0L302.8 177.8L302.9 161.1L302.9 179.9L303.0 172.0L303.0 172.6L303.1 171.3L303.2 180.9L303.3 183.5L303.4 202.0L303.5 97.5L303.5 79.6L303.7 168.4L303.8 162.5L303.8 156.3L303.9 227.0L304.0 164.8L304.0 181.2L304.1 146.3L304.2 183.6L304.3 197.2L304.4 150.0L304.5 167.5L304.5 175.7L304.7 112.5L304.7 120.7L304.8 160.3L304.9 147.3L304.9 194.5L305.0 192.3L305.0 160.8L305.2 175.2L305.3 163.1L305.4 159.9L305.4 203.9L305.5 173.5L305.5 185.3L305.6 152.0L305.7 215.8L305.7 182.8L305.8 173.4L305.8 176.1L306.0 156.8L306.0 142.2L306.1 210.8L306.2 148.7L306.3 152.2L306.3 185.9L306.5 168.0L306.5 174.1L306.6 183.7L306.7 165.8L306.7 176.8L306.8 177.4L306.8 158.4L306.9 181.6L307.0 167.5L307.0 161.1L307.1 195.5L307.2 169.5L307.3 172.5L307.3 198.5L307.4 157.8L307.5 187.3L307.5 180.9L307.6 191.1L307.7 101.6L307.8 113.7L307.9 197.4L308.0 180.5L308.0 159.1L308.2 178.0L308.3 166.0L308.3 204.8L308.5 198.1L308.5 173.3L308.6 156.2L308.7 187.4L308.7 174.7L308.8 201.0L308.8 158.6L308.9 203.3L309.0 171.7L309.0 172.5L309.1 151.3L309.2 197.5L309.3 170.2L309.3 173.7L309.4 155.9L309.5 159.2L309.5 190.9L309.6 202.5L309.7 157.8L309.7 189.1L309.8 166.7L309.8 192.8L310.0 132.8L310.0 128.7L310.1 112.9L310.2 168.0L310.3 195.1L310.3 214.4L310.4 167.6L310.5 200.6L310.5 154.3L310.6 176.8L310.7 173.5L310.8 202.6L310.9 150.4L311.0 190.9L311.0 166.1L311.1 174.0L311.1 157.7L311.2 159.8L311.3 182.5L311.4 146.8L311.5 190.0L311.5 170.0L311.6 218.7L311.7 160.0L311.8 164.2L311.9 216.2L312.0 173.2L312.0 174.0L312.1 209.0L312.2 180.3L312.3 170.2L312.4 167.2L312.5 179.8L312.5 200.1L312.6 174.7L312.6 211.8L312.7 199.3L312.8 181.2L312.8 209.2L312.9 153.6L313.0 163.9L313.0 154.2L313.1 152.3L313.1 171.0L313.2 160.7L313.3 158.3L313.4 188.5L313.5 148.5L313.5 110.7L313.6 103.2L313.7 169.3L313.8 167.2L313.8 220.9L314.0 163.0L314.0 187.8L314.2 155.6L314.3 180.4L314.4 164.0L314.5 195.6L314.5 184.2L314.6 170.2L314.6 189.4L314.7 181.6L314.8 187.2L314.8 193.3L314.9 163.5L315.0 172.1L315.0 180.0L315.1 150.6L315.2 181.5L315.2 172.6L315.3 155.6L315.4 155.0L315.5 205.3L315.5 173.1L315.7 168.9L315.7 206.0L315.8 221.3L316.0 115.3L316.0 124.0L316.2 178.4L316.2 167.4L316.3 200.8L316.3 206.0L316.4 160.7L316.5 201.5L316.5 153.3L316.7 199.3L316.8 172.4L316.9 159.9L317.0 201.9L317.0 183.0L317.1 193.2L317.2 157.7L317.2 175.8L317.3 181.2L317.4 152.3L317.5 162.3L317.5 179.4L317.7 161.6L317.7 180.4L317.8 163.1L317.8 205.3L318.0 154.7L318.0 155.4L318.1 152.5L318.1 171.2L318.2 166.7L318.3 187.0L318.3 168.2L318.4 203.0L318.5 182.2L318.5 168.2L318.6 162.0L318.7 173.2L318.7 169.1L318.8 172.7L318.8 179.3L319.0 109.5L319.0 107.4L319.2 180.7L319.2 177.6L319.3 164.7L319.4 185.0L319.5 166.1L319.5 189.8L319.7 160.5L319.7 184.6L319.8 171.2L319.9 153.1L320.0 201.5L320.0 185.7L320.1 162.4L320.2 206.9L320.3 171.9L320.4 193.5L320.4 159.4L320.5 172.6L320.5 183.2L320.7 173.0L320.7 191.2L320.8 163.3L320.9 201.8L321.0 152.1L321.0 161.1L321.2 160.6L321.2 190.1L321.3 165.4L321.3 176.4L321.5 109.8L321.5 118.3L321.7 187.6L321.8 167.5L321.8 222.9L322.0 176.6L322.0 171.5L322.1 183.6L322.2 165.5L322.2 168.5L322.3 170.3L322.4 181.2L322.5 168.4L322.5 159.3L322.7 181.5L322.8 188.7L322.8 165.4L323.0 172.9L323.0 164.5L323.2 191.9L323.3 178.9L323.3 194.8L323.4 169.8L323.5 181.4L323.5 208.1L323.6 154.5L323.7 187.0L323.8 181.6L323.8 157.7L323.9 189.0L324.0 164.4L324.0 174.9L324.1 176.8L324.2 113.1L324.3 107.6L324.4 179.9L324.5 169.2L324.5 200.2L324.7 166.7L324.8 178.8L324.9 204.7L324.9 161.5L325.0 175.7L325.0 178.5L325.1 219.3L325.1 157.8L325.2 186.2L325.3 163.7L325.4 183.7L325.5 152.2L325.5 163.9L325.6 176.9L325.7 164.0L325.8 189.4L325.8 164.0L326.0 164.8L326.0 161.8L326.1 177.8L326.2 150.4L326.3 114.1L326.3 108.2L326.5 208.8L326.5 196.8L326.6 218.9L326.6 148.9L326.7 170.1L326.8 155.4L326.9 176.9L327.0 162.6L327.0 167.2L327.2 183.7L327.3 171.0L327.3 183.5L327.4 161.1L327.5 161.3L327.5 167.4L327.6 202.2L327.6 157.5L327.7 168.4L327.8 152.6L327.9 188.4L328.0 167.2L328.0 194.6L328.2 168.5L328.3 203.0L328.3 224.4L328.4 172.1L328.5 184.9L328.5 178.2L328.6 170.9L328.7 180.9L328.8 155.6L328.8 198.8L329.0 158.9L329.0 220.6L329.2 152.6L329.3 160.2L329.3 209.3L329.5 171.3L329.5 164.5L329.6 189.9L329.7 175.6L329.8 184.2L329.8 189.6L329.9 163.5L330.0 179.9L330.0 161.3L330.1 159.5L330.2 205.1L330.3 175.0L330.4 153.3L330.4 178.4L330.5 170.7L330.5 177.5L330.7 160.3L330.7 166.5L330.8 163.0L330.8 158.0L330.9 189.6L331.0 168.3L331.0 179.1L331.1 217.5L331.2 170.1L331.2 185.8L331.3 164.8L331.4 154.9L331.4 195.0L331.5 180.4L331.5 177.2L331.6 156.7L331.7 184.9L331.8 175.8L331.9 209.6L332.0 150.1L332.0 171.3L332.1 164.9L332.2 198.3L332.3 210.6L332.3 160.8L332.5 169.5L332.5 174.0L332.7 161.9L332.7 198.7L332.8 196.9L333.0 149.7L333.0 173.7L333.1 156.7L333.2 177.4L333.2 158.0L333.3 164.1L333.3 161.6L333.4 186.1L333.5 176.0L333.5 147.2L333.6 225.9L333.7 161.4L333.8 172.5L333.9 206.9L334.0 161.4L334.0 214.0L334.2 157.5L334.3 178.8L334.4 201.4L334.5 155.6L334.5 170.0L334.6 189.3L334.7 161.5L334.7 173.5L334.8 132.4L334.9 199.0L335.0 164.9L335.0 159.6L335.2 194.2L335.2 178.2L335.3 205.8L335.3 155.8L335.5 176.1L335.5 160.9L335.6 198.8L335.7 171.1L335.8 155.5L335.9 205.3L336.0 177.4L336.0 177.9L336.2 166.2L336.2 211.2L336.3 176.5L336.3 189.4L336.4 170.0L336.5 183.8L336.5 145.4L336.6 206.7L336.7 157.5L336.8 183.2L336.9 166.4L336.9 196.6L337.0 188.9L337.0 160.8L337.1 181.6L337.2 158.0L337.3 182.1L337.4 160.5L337.5 182.1L337.5 179.1L337.6 196.0L337.7 171.1L337.7 173.9L337.8 183.3L337.9 164.1L338.0 171.4L338.0 168.1L338.1 163.7L338.1 180.5L338.2 164.1L338.3 216.8L338.4 158.2L338.5 159.8L338.5 184.3L338.6 158.5L338.7 181.5L338.8 153.3L338.9 200.8L338.9 168.7L339.0 172.6L339.1 157.0L339.2 183.9L339.3 227.4L339.3 157.0L339.5 165.1L339.5 178.1L339.6 165.0L339.7 193.3L339.8 189.3L339.9 156.5L340.0 171.6L340.0 204.8L340.2 149.2L340.3 185.5L340.4 161.6L340.5 167.7L340.5 161.2L340.7 190.0L340.8 209.0L341.0 159.5L341.0 164.1L341.2 185.4L341.3 152.1L341.3 188.9L341.5 188.8L341.5 171.7L341.6 163.8L341.7 184.2L341.7 168.4L341.8 170.0L341.9 159.8L342.0 178.1L342.0 159.7L342.2 210.0L342.2 173.2L342.3 168.5L342.4 220.2L342.4 147.2L342.5 155.3L342.5 156.0L342.6 153.3L342.7 173.0L342.8 176.1L342.9 182.9L343.0 162.7L343.0 196.1L343.2 156.5L343.2 161.1L343.3 179.5L343.3 157.1L343.5 211.0L343.5 174.4L343.6 164.0L343.7 180.9L343.7 179.0L343.8 179.7L343.8 182.9L343.9 165.5L344.0 168.6L344.0 181.8L344.1 200.1L344.2 150.7L344.3 168.3L344.4 213.0L344.5 169.7L344.5 203.4L344.6 150.8L344.7 171.2L344.8 186.3L345.0 168.0L345.0 163.1L345.1 187.3L345.2 154.2L345.2 166.8L345.3 167.7L345.4 163.7L345.5 188.2L345.5 162.7L345.6 195.8L345.7 167.1L345.8 158.1L345.9 186.6L346.0 162.2L346.0 200.3L346.1 161.4L346.2 164.9L346.3 171.0L346.3 184.6L346.4 105.7L346.5 119.5L346.5 136.3L346.6 175.2L346.7 168.2L346.8 181.8L346.9 157.7L347.0 171.9L347.0 164.7L347.1 154.7L347.2 176.0L347.2 154.9L347.3 178.3L347.3 153.0L347.5 161.9L347.5 178.9L347.7 160.3L347.7 179.1L347.8 172.1L347.9 208.5L348.0 167.2L348.0 179.0L348.2 160.2L348.3 185.4L348.3 156.2L348.4 188.1L348.5 179.3L348.5 184.9L348.6 151.3L348.7 159.5L348.8 149.7L348.8 184.1L348.9 129.1L349.0 142.5L349.0 177.5L349.1 163.7L349.2 185.8L349.2 168.0L349.3 191.6L349.5 160.7L349.5 165.7L349.7 153.6L349.7 182.5L349.8 188.4L349.9 211.9L349.9 165.6L350.0 176.0L350.0 191.6L350.1 166.3L350.1 195.0L350.2 188.1L350.3 205.5L350.4 170.3L350.5 189.9L350.5 155.7L350.7 186.4L350.7 150.4L350.8 168.7L350.8 166.9L350.9 190.1L351.0 169.1L351.0 171.3L351.1 198.3L351.2 170.2L351.2 173.7L351.3 167.9L351.3 180.1L351.4 152.7L351.5 168.0L351.5 158.1L351.6 171.0L351.7 170.0L351.8 179.8L351.9 185.7L352.0 162.9L352.0 160.5L352.1 177.8L352.2 127.0L352.3 105.2L352.3 103.4L352.5 178.6L352.5 171.9L352.6 222.2L352.6 160.9L352.7 182.2L352.8 169.1L352.8 171.1L352.9 153.9L353.0 163.1L353.0 159.7L353.1 166.5L353.2 158.0L353.2 158.9L353.3 203.9L353.5 157.9L353.5 158.4L353.7 186.5L353.7 170.1L353.8 173.1L353.9 155.3L354.0 157.5L354.0 160.5L354.1 198.5L354.2 167.7L354.3 150.6L354.4 114.8L354.5 149.9L354.5 197.6L354.6 174.5L354.7 199.7L354.8 165.5L354.8 186.0L355.0 170.0L355.0 161.1L355.1 198.5L355.2 179.2L355.3 174.8L355.3 161.5L355.4 189.4L355.5 174.3L355.5 194.1L355.7 154.9L355.7 173.0L355.8 162.6L355.9 188.6L356.0 171.8L356.0 177.3L356.2 158.7L356.2 174.5L356.3 171.2L356.3 157.0L356.5 171.9L356.5 162.1L356.6 149.1L356.7 178.2L356.7 171.4L356.8 164.8L356.9 163.1L356.9 206.8L357.0 200.9L357.0 151.1L357.1 196.5L357.2 162.5L357.3 164.3L357.4 170.5L357.5 151.9L357.5 171.4L357.6 209.5L357.7 164.7L357.8 182.6L357.9 207.0L358.0 135.3L358.0 116.1L358.1 111.5L358.2 195.7L358.3 174.8L358.4 158.3L358.5 178.3L358.5 218.4L358.6 158.8L358.7 174.7L358.8 153.5L359.0 167.0L359.0 183.4L359.1 190.8L359.2 170.9L359.2 172.2L359.3 165.7L359.4 185.0L359.4 156.5L359.5 167.1L359.5 159.2L359.7 186.6L359.8 225.2L359.9 157.3L360.0 191.2L360.0 178.5L360.2 140.6L360.3 129.3L360.3 121.1L360.5 180.2L360.5 161.8L360.6 150.9L360.7 169.0L360.8 173.7L360.9 160.5L361.0 185.6L361.0 183.1L361.1 149.3L361.2 178.8L361.3 181.8L361.4 152.5L361.5 196.3L361.5 171.8L361.6 152.8L361.7 188.5L361.7 176.1L361.8 186.4L361.9 163.2L362.0 182.0L362.0 170.6L362.2 165.3L362.2 196.0L362.3 149.7L362.4 193.6L362.5 159.5L362.5 169.2L362.6 174.1L362.6 166.0L362.7 168.5L362.8 167.1L362.8 149.1L362.9 180.9L363.0 150.9L363.0 174.2L363.2 159.3L363.2 165.2L363.3 128.7L363.4 98.3L363.5 128.0L363.5 159.2L363.6 168.1L363.6 155.4L363.7 158.5L363.8 159.0L363.8 154.5L363.9 176.4L364.0 156.0L364.0 159.6L364.2 146.8L364.2 206.4L364.3 158.9L364.4 167.6L364.4 150.7L364.5 166.6L364.5 158.4L364.6 172.6L364.7 152.9L364.7 158.3L364.8 154.1L364.8 171.8L364.9 142.5L365.0 156.8L365.0 169.6L365.1 154.7L365.2 172.4L365.2 161.8L365.3 150.8L365.4 178.4L365.5 159.9L365.5 163.8L365.7 116.2L365.8 115.6L365.9 161.2L366.0 147.2L366.0 167.8L366.1 155.6L366.2 164.7L366.3 166.3L366.3 146.6L366.4 168.7L366.5 157.2L366.5 167.2L366.6 149.7L366.7 157.2L366.8 153.9L367.0 159.8L367.0 157.1L367.2 148.3L367.2 151.3L367.3 153.3L367.4 157.4L367.5 148.3L367.5 149.4L367.7 143.2L367.7 153.3L367.8 166.9L367.8 145.4L368.0 160.7L368.0 153.1L368.2 150.8L368.2 168.2L368.3 139.3L368.4 163.6L368.5 151.5L368.5 159.4L368.6 143.0L368.7 149.8L368.8 150.5L368.9 112.1L369.0 153.1L369.0 144.8L369.1 158.6L369.2 153.3L369.3 149.9L369.3 151.7L369.4 144.5L369.5 150.5L369.6 149.2L369.7 146.8L369.8 158.8L369.9 144.1L370.0 150.9L370.0 144.3L370.1 129.9L370.2 153.8L370.2 147.1L370.3 151.3L370.4 158.4L370.5 138.2L370.5 154.1L370.6 140.1L370.7 147.4L370.8 152.9L370.9 114.1L371.0 123.0L371.0 142.3L371.1 139.9L371.2 148.0L371.2 142.3L371.3 135.6L371.4 155.8L371.4 132.4L371.5 151.4L371.6 146.9L371.7 143.0L371.7 160.4L371.8 152.2L371.8 139.3L372.0 160.8L372.0 151.7L372.1 133.9L372.1 163.3L372.2 145.6L372.3 142.3L372.5 144.9L372.5 147.7L372.6 135.5L372.7 153.9L372.7 146.2L372.8 142.9L372.9 167.8L373.0 141.9L373.0 142.4L373.1 144.9L373.2 140.4L373.3 146.8L373.4 136.0L373.5 141.5L373.5 143.2L373.6 156.4L373.7 150.1L373.8 140.6L373.9 153.4L374.0 137.1L374.0 144.9L374.2 141.2L374.2 145.4L374.3 146.9L374.4 149.5L374.5 124.6L374.5 110.0L374.6 102.7L374.7 143.1L374.8 137.6L374.9 145.4L375.0 136.1L375.0 145.7L375.2 136.4L375.2 146.7L375.3 148.6L375.5 139.9L375.5 136.1L375.6 132.7L375.7 147.6L375.7 142.9L375.8 144.5L375.9 138.3L376.0 138.7L376.0 144.4L376.1 140.6L376.2 151.2L376.3 146.6L376.4 159.7L376.5 136.8L376.5 167.7L376.7 104.3L376.8 101.5L376.9 146.0L377.0 142.1L377.0 141.2L377.1 147.1L377.2 135.4L377.3 131.6L377.4 147.0L377.5 138.5L377.5 144.4L377.7 136.3L377.7 138.0L377.8 143.4L377.9 148.6L378.0 140.4L378.0 142.8L378.1 136.1L378.1 150.6L378.2 147.0L378.3 141.8L378.4 137.1L378.5 147.5L378.5 142.4L378.7 138.2L378.8 146.6L378.8 136.7L379.0 150.1L379.0 143.2L379.2 131.2L379.2 142.9L379.3 143.0L379.4 146.0L379.5 141.4L379.5 134.1L379.7 144.3L379.7 142.6L379.8 132.3L379.9 145.0L380.0 142.1L380.0 147.9L380.1 111.9L380.2 153.0L380.3 143.6L380.4 134.8L380.5 138.7L380.5 135.2L380.7 142.4L380.8 142.7L380.8 145.2L380.9 136.2L381.0 138.1L381.0 142.1L381.1 135.4L381.2 139.2L381.3 143.2L381.4 144.0L381.5 135.5L381.5 144.3L381.7 137.3L381.7 140.6L381.8 137.0L382.0 144.1L382.0 144.1L382.1 132.0L382.2 144.0L382.3 139.6L382.5 135.6L382.5 138.5L382.6 140.1L382.7 105.9L382.8 106.2L382.9 146.7L383.0 136.6L383.0 133.4L383.2 145.2L383.4 136.0L383.5 138.3L383.5 139.6L383.6 133.1L383.7 133.4L383.8 133.4L383.8 142.0L383.9 132.3L384.0 135.1L384.0 133.8L384.1 133.6L384.2 142.4L384.2 135.5L384.3 137.6L384.4 135.9L384.5 142.3L384.5 140.3L384.6 131.4L384.7 136.2L384.8 132.2L385.0 139.5L385.0 124.5L385.1 142.7L385.2 133.0L385.3 137.6L385.4 138.4L385.5 118.1L385.5 114.5L385.7 141.6L385.7 132.3L385.8 130.4L385.9 140.5L386.0 138.4L386.0 135.9L386.1 135.1L386.2 142.6L386.2 140.1L386.3 136.7L386.3 140.3L386.5 131.0L386.5 139.4L386.6 134.2L386.7 135.4L386.8 132.1L386.9 145.4L387.0 140.2L387.0 135.5L387.1 131.4L387.2 140.7L387.3 143.9L387.4 134.2L387.5 140.5L387.5 139.4L387.7 136.2L387.7 137.1L387.8 137.1L387.8 171.0L387.9 129.2L388.0 146.5L388.0 147.9L388.1 133.7L388.2 138.5L388.3 136.0L388.3 132.1L388.5 136.6L388.5 136.2L388.6 134.8L388.7 143.7L388.7 138.6L388.8 135.6L389.0 131.8L389.0 135.4L389.2 137.3L389.2 133.4L389.3 133.9L389.3 136.2L389.4 131.4L389.5 135.6L389.5 134.4L389.6 133.9L389.7 138.6L389.7 138.3L389.9 132.8L390.0 135.4L390.0 134.5L390.2 131.1L390.3 134.4L390.3 127.6L390.5 134.5L390.5 135.1L390.6 137.2L390.7 132.5L390.7 135.0L390.8 128.2L391.0 135.4L391.0 133.7L391.2 136.1L391.2 113.9L391.3 100.5L391.3 96.5L391.5 132.0L391.5 137.8L391.7 129.3L391.8 128.4L392.0 132.5L392.0 135.4L392.1 131.8L392.2 131.8L392.3 132.5L392.4 137.3L392.5 131.7L392.5 132.5L392.6 128.8L392.7 144.0L392.8 128.4L393.0 134.1L393.0 131.7L393.1 126.7L393.2 138.9L393.3 129.8L393.3 128.8L393.5 134.7L393.5 133.8L393.6 134.8L393.6 128.2L393.7 132.7L393.8 131.5L393.9 136.9L394.0 121.2L394.0 120.7L394.1 136.3L394.2 133.5L394.3 134.4L394.3 139.0L394.5 125.6L394.5 140.6L394.6 132.5L394.7 133.0L394.8 132.9L394.8 133.4L395.0 130.0L395.0 132.5L395.1 130.8L395.2 135.8L395.2 133.6L395.3 134.6L395.5 126.5L395.5 132.1L395.6 129.9L395.7 142.9L395.7 132.2L395.9 130.8L396.0 133.5L396.0 134.4L396.1 129.0L396.2 131.3L396.3 131.2L396.3 133.5L396.5 128.1L396.5 131.2L396.6 168.8L396.7 116.1L396.7 144.8L396.8 158.5L397.0 128.0L397.0 130.4L397.1 122.9L397.2 131.4L397.4 130.8L397.5 128.4L397.5 132.5L397.6 130.0L397.7 134.5L397.8 132.3L397.9 128.5L397.9 133.6L398.0 131.2L398.0 131.0L398.1 131.0L398.2 127.3L398.2 129.1L398.3 134.4L398.5 127.4L398.5 133.2L398.6 111.0L398.7 112.4L398.8 122.8L399.0 128.4L399.0 129.3L399.2 131.6L399.2 127.3L399.3 130.6L399.3 133.2L399.4 127.0L399.5 127.2L399.5 129.2L399.6 128.0L399.7 132.8L399.9 129.3L399.9 131.5L400.0 131.0L400.1 126.2L400.2 128.1L400.3 131.0L400.4 125.9L400.5 130.0L400.5 127.4L400.6 125.0L400.7 130.7L400.8 130.4L400.9 132.6L401.0 128.4L401.0 123.3L401.2 130.4L401.3 130.6L401.4 124.5L401.5 126.8L401.5 124.4L401.6 100.4L401.7 118.6L401.8 123.3L401.9 129.9L402.0 127.0L402.0 127.3L402.1 128.3L402.1 124.3L402.2 127.2L402.3 126.7L402.3 129.5L402.4 117.0L402.5 123.5L402.6 124.9L402.7 127.6L402.8 128.4L402.8 125.6L402.9 131.5L403.0 126.9L403.0 127.0L403.1 131.8L403.2 124.9L403.2 126.7L403.3 124.8L403.4 130.2L403.5 123.4L403.5 126.1L403.6 133.4L403.6 123.2L403.7 127.8L403.8 125.2L403.9 130.5L404.0 119.8L404.0 129.3L404.1 131.9L404.2 120.4L404.2 124.6L404.3 132.4L404.3 121.9L404.5 125.4L404.5 127.1L404.6 125.0L404.8 126.0L404.9 120.2L405.0 123.7L405.0 125.7L405.2 123.7L405.3 122.4L405.3 119.8L405.5 124.4L405.6 124.5L405.7 121.9L405.8 125.0L405.9 125.5L406.0 119.1L406.0 120.9L406.1 125.5L406.2 123.0L406.4 121.5L406.5 123.8L406.5 126.3L406.7 121.2L406.8 121.4L406.9 119.4L407.0 125.0L407.0 121.6L407.2 101.0L407.3 117.9L407.4 121.8L407.5 120.4L407.6 121.0L407.7 119.1L407.8 119.6L407.8 122.4L407.9 118.9L408.0 119.7L408.0 120.2L408.2 123.7L408.2 117.6L408.4 121.1L408.5 118.6L408.6 122.2L408.7 119.3L408.8 122.3L408.9 117.5L409.0 119.9L409.0 119.4L409.1 123.0L409.2 118.6L409.2 120.7L409.3 119.5L409.3 120.9L409.4 117.8L409.5 119.3L409.5 121.5L409.7 104.4L409.8 106.1L409.9 120.7L410.0 119.3L410.1 119.5L410.2 117.3L410.3 118.5L410.4 119.4L410.5 116.3L410.6 120.0L410.7 117.2L410.9 120.5L411.0 117.6L411.1 119.6L411.2 117.7L411.3 118.8L411.3 115.7L411.4 119.6L411.5 117.0L411.5 117.9L411.6 121.1L411.7 116.1L411.7 118.9L411.8 117.6L411.8 115.1L411.9 119.8L412.0 117.1L412.0 119.1L412.2 115.6L412.3 117.2L412.4 120.9L412.5 115.7L412.5 118.9L412.6 116.4L412.8 115.8L412.9 117.1L413.0 118.7L413.1 113.8L413.2 117.3L413.3 117.9L413.5 115.7L413.5 116.3L413.6 118.2L413.7 115.0L413.7 116.4L413.9 118.0L414.0 116.1L414.2 117.4L414.2 115.5L414.3 117.1L414.4 113.3L414.5 118.1L414.5 116.4L414.6 114.2L414.7 117.4L414.8 115.2L414.8 113.7L415.0 117.2L415.1 113.3L415.2 115.5L415.4 113.5L415.5 116.0L415.5 115.0L415.6 112.4L415.7 115.4L415.7 114.0L415.8 113.4L415.8 116.7L415.9 113.1L416.0 114.8L416.0 114.2L416.1 112.6L416.2 116.1L416.2 113.6L416.3 112.2L416.4 116.2L416.5 114.5L416.5 111.7L416.6 114.0L416.8 113.7L416.9 115.5L417.0 111.5L417.1 114.0L417.2 111.2L417.3 113.2L417.4 110.7L417.4 113.8L417.5 113.5L417.5 112.9L417.6 114.3L417.6 111.0L417.7 111.9L417.9 112.5L418.0 109.6L418.2 110.7L418.2 113.1L418.3 115.1L418.3 115.1L418.4 111.3L418.5 111.3L418.5 113.9L418.6 110.3L418.7 113.4L418.8 111.2L418.9 113.9L419.1 112.3L419.1 109.6L419.3 110.6L419.4 111.7L419.4 108.1L419.5 110.2L419.6 112.5L419.7 110.3L419.8 111.3L419.9 109.6L419.9 113.4L420.0 111.5L420.2 112.2L420.2 110.2L420.3 114.0L420.4 111.2L420.5 111.1L420.6 110.5L420.7 113.5L420.8 111.8L420.8 115.2L420.9 109.0L421.0 111.2L421.2 110.8L421.2 112.8L421.3 113.3L421.4 109.8L421.5 111.7L421.6 110.8L421.6 113.2L421.8 112.6L421.8 114.4L421.9 110.9L422.0 111.2L422.0 112.7L422.1 110.8L422.3 109.1L422.4 114.2L422.5 110.7L422.5 111.1L422.6 113.5L422.8 111.6L422.9 114.1L422.9 109.4L423.0 112.0L423.0 111.1L423.1 111.0L423.2 114.3L423.2 113.2L423.3 109.9L423.3 112.1L423.5 112.5L423.6 109.8L423.8 109.3L423.9 111.5L424.1 109.5L424.2 112.2L424.3 110.0L424.4 113.8L424.5 109.4L424.6 110.8L424.7 112.5L424.8 111.0L424.8 108.8L424.9 113.2L425.0 111.6L425.0 108.8L425.2 111.0L425.3 108.6L425.4 112.6L425.5 110.1L425.5 109.9L425.6 109.2L425.7 112.3L425.7 112.2L425.8 111.8L425.9 112.8L426.0 109.4L426.0 111.5L426.1 113.2L426.2 108.7L426.3 111.0L426.3 113.4L426.5 109.0L426.5 110.2L426.7 108.5L426.7 111.7L426.8 110.0L426.9 111.8L427.0 112.6L427.1 113.7L427.2 110.7L427.3 111.7L427.3 108.1L427.5 113.4L427.5 112.1L427.6 112.6L427.7 109.3L427.7 109.8L427.9 111.5L427.9 109.4L428.1 111.1L428.2 109.9L428.3 109.6L428.4 113.0L428.5 110.9L428.5 111.4L428.7 113.5L428.7 109.8L428.9 110.2L429.0 112.2L429.0 109.9L429.2 112.0L429.3 109.9L429.4 112.3L429.5 116.2L429.6 112.7L429.7 112.8L429.8 112.7L429.9 110.9L430.0 111.8L430.1 110.0L430.2 113.9L430.2 113.1L430.3 114.4L430.4 111.6L430.5 115.9L430.6 114.9L430.7 112.8L430.8 116.3L430.8 112.3L431.0 113.4L431.1 112.1L431.2 114.6L431.3 115.8L431.4 112.7L431.5 113.4L431.6 112.6L431.7 115.2L431.8 114.4L431.8 112.2L432.0 116.4L432.0 112.4L432.1 115.2L432.3 112.6L432.5 117.2L432.5 118.8L432.6 113.4L432.7 115.5L432.8 115.1L433.0 116.3L433.0 115.7L433.1 114.2L433.2 117.7L433.3 115.7L433.5 117.3L433.5 115.2L433.6 114.9L433.7 119.0L433.7 118.8L433.8 116.2L433.8 114.9L433.9 119.5L434.0 117.9L434.0 119.5L434.1 117.1L434.3 118.0L434.4 116.5L434.4 120.1L434.5 119.7L434.7 118.1L434.7 119.4L434.8 117.5L434.9 120.3L435.1 118.3L435.2 120.9L435.3 117.8L435.5 122.0L435.5 119.0L435.6 121.4L435.8 119.8L435.9 121.4L436.1 120.4L436.2 123.1L436.3 122.8L436.3 120.8L436.6 120.8L436.7 121.6L436.9 122.8L437.0 120.7L437.0 121.3L437.2 120.0L437.2 124.7L437.4 123.9L437.5 122.0L437.6 123.1L437.7 121.5L437.8 126.5L437.9 124.3L438.0 124.1L438.2 125.7L438.3 125.6L438.4 127.1L438.5 123.7L438.5 128.8L438.6 125.0L438.7 128.7L438.8 128.2L438.8 125.8L438.9 129.2L439.0 127.2L439.0 126.8L439.1 131.0L439.2 130.5L439.4 128.9L439.5 131.1L439.6 132.5L439.7 130.4L439.9 132.7L440.0 130.7L440.0 132.7L440.1 129.9L440.2 135.4L440.3 132.8L440.4 135.7L440.5 133.5L440.7 139.6L440.8 136.4L440.9 133.3L441.0 135.9L441.0 135.0L441.2 138.7L441.2 136.0L441.4 139.2L441.4 136.5L441.5 137.4L441.7 139.4L441.8 142.0L441.9 138.4L442.0 138.5L442.0 142.9L442.1 138.7L442.2 144.1L442.2 139.8L442.3 143.3L442.3 144.9L442.5 140.8L442.5 140.7L442.6 145.0L442.7 142.0L442.8 146.5L442.9 144.3L443.0 147.6L443.2 143.5L443.2 144.7L443.3 145.1L443.3 153.4L443.5 148.1L443.5 146.4L443.6 152.3L443.7 148.6L443.8 149.8L444.0 159.6L444.0 150.8L444.1 154.9L444.2 150.5L444.3 155.2L444.5 156.9L444.5 161.8L444.6 153.8L444.7 165.9L444.8 154.5L444.8 154.1L444.9 179.6L445.0 160.7L445.0 159.1L445.1 152.1L445.1 186.4L445.2 157.9L445.3 162.3L445.4 153.6L445.5 157.6L445.5 155.6L445.6 161.3L445.7 155.7L445.8 160.9L445.8 162.7L445.9 155.4L446.0 155.7L446.0 153.4L446.1 152.1L446.1 166.7L446.2 155.1L446.3 158.6L446.3 149.0L446.5 153.0L446.5 155.0L446.6 155.1L446.7 149.3L446.8 154.5L446.9 151.4L447.0 152.9L447.0 156.2L447.1 156.7L447.2 148.7L447.3 150.2L447.3 151.4L447.4 147.7L447.5 151.9L447.6 153.3L447.7 147.9L447.8 147.3L447.9 146.7L448.0 149.9L448.0 150.7L448.1 147.7L448.2 152.4L448.2 150.8L448.3 147.2L448.4 142.8L448.5 143.3L448.6 144.8L448.7 142.7L448.8 144.3L448.9 139.7L449.0 142.4L449.0 139.9L449.1 141.8L449.1 138.6L449.2 139.0L449.3 142.7L449.5 136.9L449.5 142.2L449.6 134.5L449.7 138.5L449.8 137.7L450.0 136.7L450.0 134.5L450.2 132.1L450.2 136.9L450.3 132.8L450.3 130.8L450.4 135.9L450.5 131.4L450.5 136.4L450.7 130.9L450.7 133.7L450.8 130.1L450.8 132.2L451.1 129.3L451.2 131.6L451.3 132.8L451.3 127.4L451.5 130.3L451.7 125.2L451.7 128.2L451.8 126.2L451.8 126.8L452.0 123.1L452.0 126.3L452.1 122.6L452.2 123.2L452.3 125.2L452.4 121.2L452.5 124.9L452.5 120.5L452.6 121.6L452.8 121.1L452.8 123.7L452.9 120.6L453.0 120.8L453.0 119.4L453.2 122.4L453.2 121.0L453.4 120.5L453.5 118.7L453.6 120.5L453.7 118.6L453.8 120.0L453.9 117.7L454.2 117.3L454.2 119.4L454.3 118.0L454.3 114.9L454.5 119.5L454.6 116.1L454.6 118.3L454.8 114.2L454.9 118.9L455.0 118.7L455.0 117.8L455.1 115.1L455.3 114.8L455.3 116.2L455.4 112.8L455.5 116.1L455.5 115.4L455.7 117.2L455.7 114.0L455.8 115.7L456.0 111.3L456.0 114.2L456.1 115.4L456.2 110.8L456.2 113.5L456.3 110.8L456.4 114.4L456.5 113.2L456.7 112.7L456.7 110.6L456.8 114.8L456.8 110.6L457.0 111.3L457.0 111.1L457.1 108.8L457.2 112.5L457.2 112.1L457.3 113.3L457.5 109.3L457.5 109.3L457.6 108.3L457.7 112.6L457.8 108.3L458.0 109.3L458.0 106.7L458.2 109.2L458.4 111.2L458.5 108.6L458.5 108.7L458.7 107.3L458.7 110.3L458.9 109.3L459.0 106.8L459.1 107.8L459.2 105.1L459.3 104.5L459.4 110.0L459.5 106.4L459.5 107.7L459.7 102.9L459.7 106.5L459.8 105.3L459.8 106.7L460.0 103.5L460.1 106.0L460.2 102.0L460.2 104.8L460.3 102.8L460.3 106.4L460.5 106.4L460.5 102.1L460.7 104.8L460.8 104.7L460.9 101.8L461.1 101.9L461.2 104.7L461.3 105.2L461.3 102.2L461.4 105.7L461.5 102.4L461.5 105.1L461.7 101.8L461.8 104.8L461.9 101.7L462.0 102.2L462.2 100.7L462.2 103.1L462.3 100.9L462.4 103.8L462.5 101.0L462.7 105.5L462.7 101.0L462.8 98.7L463.0 103.3L463.2 100.6L463.2 103.6L463.4 99.6L463.4 101.7L463.5 102.8L463.7 98.9L463.7 101.6L463.8 100.9L463.8 102.5L463.9 99.1L464.0 100.4L464.0 99.5L464.1 98.6L464.2 101.7L464.2 100.7L464.4 101.3L464.5 98.4L464.6 100.6L464.6 98.8L464.8 100.5L464.8 99.1L465.0 97.1L465.1 100.4L465.2 98.6L465.4 100.0L465.5 97.4L465.5 97.8L465.6 97.0L465.7 100.2L465.8 97.9L465.9 99.8L466.0 96.1L466.0 95.4L466.2 99.9L466.2 98.5L466.3 98.2L466.3 99.5L466.4 95.9L466.5 98.9L466.6 97.2L466.7 94.2L466.8 95.7L466.8 94.9L467.0 99.7L467.0 96.7L467.2 97.6L467.2 93.9L467.3 97.9L467.3 97.9L467.4 94.8L467.5 96.5L467.5 94.6L467.7 93.6L467.7 98.1L467.9 95.0L467.9 96.0L468.0 96.6L468.1 98.2L468.2 94.1L468.3 95.8L468.3 95.6L468.5 99.1L468.5 94.8L468.7 94.0L468.7 97.2L468.8 94.9L468.9 97.4L469.0 94.7L469.1 97.4L469.3 95.4L469.4 94.4L469.5 95.2L469.7 96.8L469.7 90.7L469.8 94.3L469.8 96.1L470.0 91.8L470.0 94.5L470.1 99.2L470.2 94.5L470.2 95.1L470.4 95.3L470.5 94.0L470.5 94.7L470.6 92.3L470.7 97.7L470.7 93.1L470.8 94.7L470.9 91.1L471.0 95.6L471.0 91.9L471.2 95.4L471.2 94.7L471.3 93.8L471.4 91.6L471.6 95.1L471.6 93.2L471.8 95.7L471.8 91.9L472.0 93.8L472.0 93.5L472.1 91.6L472.3 95.6L472.4 93.3L472.6 90.8L472.7 93.6L472.8 93.5L472.9 91.1L473.0 92.9L473.1 93.0L473.2 89.6L473.2 91.5L473.3 89.3L473.4 92.5L473.4 88.4L473.5 89.9L473.6 91.3L473.7 92.4L473.9 89.7L474.0 92.1L474.0 92.6L474.1 90.1L474.3 89.9L474.4 91.6L474.5 90.0L474.6 91.4L474.7 87.4L474.7 90.9L474.8 89.9L474.9 93.0L475.0 89.4L475.0 90.1L475.2 92.5L475.3 89.2L475.4 88.3L475.5 92.7L475.5 88.7L475.7 92.2L475.7 91.5L475.8 89.6L476.0 91.5L476.0 88.6L476.1 92.2L476.2 91.2L476.4 89.1L476.4 91.7L476.6 89.0L476.7 90.4L476.8 88.5L476.9 92.1L477.0 91.6L477.0 89.1L477.2 92.2L477.2 90.9L477.4 91.1L477.5 91.9L477.5 90.3L477.6 87.3L477.6 91.9L477.7 89.1L477.9 89.9L477.9 92.4L478.1 92.3L478.2 89.7L478.4 92.4L478.5 90.6L478.6 92.3L478.6 89.3L478.8 90.7L478.9 87.9L479.0 92.6L479.0 91.1L479.1 89.1L479.2 92.5L479.2 92.1L479.3 89.1L479.4 91.7L479.5 90.8L479.7 88.0L479.7 92.2L479.8 89.3L480.0 91.3L480.1 88.5L480.1 91.7L480.2 88.3L480.2 88.8L480.4 89.2L480.4 88.8L480.5 91.8L480.7 86.4L480.7 87.2L480.9 88.3L481.0 90.3L481.1 90.7L481.1 88.1L481.3 88.7L481.4 91.9L481.5 84.7L481.6 89.7L481.7 87.2L481.8 87.8L481.8 90.4L481.9 86.8L482.0 87.6L482.0 87.1L482.1 86.6L482.2 92.2L482.2 87.2L482.3 87.2L482.4 89.9L482.4 85.7L482.5 88.0L482.5 89.5L482.7 87.2L482.8 86.5L482.9 89.8L483.0 87.7L483.0 87.2L483.2 90.0L483.4 90.1L483.5 88.1L483.5 85.0L483.6 87.5L483.8 85.5L483.9 88.3L484.0 86.8L484.1 89.5L484.2 86.3L484.3 86.2L484.5 89.4L484.5 88.2L484.6 84.6L484.6 89.9L484.7 85.4L484.8 86.4L484.9 85.1L485.0 88.4L485.0 87.1L485.2 88.8L485.2 84.5L485.4 84.5L485.4 87.2L485.6 87.2L485.7 84.4L485.8 86.5L485.8 82.8L485.9 87.6L486.0 83.6L486.0 85.2L486.1 86.7L486.1 83.1L486.2 84.4L486.3 83.8L486.4 86.6L486.5 85.0L486.6 86.2L486.7 83.2L486.7 85.9L486.8 86.0L486.8 87.7L486.9 83.8L487.0 86.4L487.0 84.3L487.1 81.7L487.2 85.7L487.3 84.8L487.4 83.6L487.5 86.8L487.5 81.3L487.7 85.1L487.8 83.8L487.8 86.3L487.9 82.3L488.0 83.8L488.0 82.9L488.2 85.1L488.3 83.1L488.3 86.4L488.5 84.8L488.7 83.9L488.7 86.7L488.9 85.6L489.0 83.0L489.0 86.5L489.2 83.1L489.2 85.4L489.4 86.6L489.5 84.1L489.5 88.2L489.7 83.7L489.7 84.7L489.8 86.1L489.9 84.1L490.0 87.7L490.0 87.3L490.1 83.8L490.2 87.0L490.3 86.9L490.3 84.3L490.4 90.0L490.5 89.6L490.5 90.0L490.7 84.3L490.8 86.0L491.0 87.8L491.1 84.5L491.1 87.0L491.3 89.5L491.4 83.6L491.5 86.5L491.5 86.6L491.6 83.9L491.8 86.5L491.9 84.9L492.1 86.0L492.2 87.3L492.3 86.8L492.5 85.8L492.5 85.5L492.6 86.3L492.7 83.1L492.8 87.4L492.9 85.6L493.1 85.5L493.2 87.6L493.3 85.1L493.3 88.4L493.5 88.2L493.5 88.6L493.6 84.9L493.7 85.7L493.8 84.5L493.8 89.2L494.0 85.5L494.0 85.0L494.1 87.4L494.2 84.3L494.3 86.6L494.3 88.4L494.5 83.8L494.5 82.4L494.7 87.6L494.8 87.3L494.9 81.4L495.0 83.4L495.0 84.2L495.2 83.3L495.2 87.9L495.3 85.0L495.3 84.9L495.5 87.9L495.5 87.7L495.6 83.4L495.7 85.2L495.8 85.4L495.9 87.5L496.1 88.3L496.2 85.7L496.3 85.9L496.4 88.2L496.5 84.6L496.6 87.8L496.7 84.8L496.8 86.8L496.9 89.0L496.9 84.9L497.0 85.6L497.0 84.6L497.1 87.7L497.2 86.9L497.3 87.6L497.4 84.6L497.5 87.4L497.5 84.1L497.7 88.0L497.7 86.8L497.8 84.0L497.9 87.0L498.0 87.0L498.1 83.3L498.2 84.6L498.3 86.4L498.4 84.2L498.5 88.6L498.6 87.0L498.7 84.2L498.8 85.6L498.8 84.1L498.9 88.6L499.0 85.9L499.0 86.3L499.2 83.5L499.3 88.0L499.3 84.3L499.5 86.1L499.5 85.0L499.7 87.1L499.8 86.9L499.9 88.1L500.0 85.1L500.0 89.4L500.1 86.2L500.2 89.0L500.3 85.1L500.5 88.1L500.5 86.6L500.6 85.3L500.7 88.3L500.7 86.0L500.8 89.1L500.9 82.2L501.0 85.6L501.0 84.7L501.1 84.7L501.2 88.9L501.2 84.7L501.3 88.7L501.3 84.5L501.5 85.3L501.6 83.0L501.7 86.0L501.8 84.0L501.9 87.5L502.0 85.9L502.1 84.3L502.2 86.5L502.3 87.6L502.4 85.8L502.5 84.5L502.6 89.1L502.7 86.7L502.8 87.9L503.0 84.5L503.0 85.6L503.1 87.2L503.2 83.6L503.3 86.2L503.3 83.4L503.6 86.6L503.7 84.2L503.9 86.4L504.0 84.0L504.1 84.1L504.2 84.7L504.3 83.7L504.4 82.1L504.4 86.2L504.5 85.1L504.5 86.5L504.6 82.7L504.7 83.1L504.9 82.4L504.9 84.6L505.1 83.8L505.2 86.0L505.3 84.5L505.3 87.1L505.4 83.4L505.5 85.3L505.6 82.9L505.7 84.6L505.8 85.0L505.9 82.8L505.9 86.7L506.0 82.8L506.0 83.9L506.2 84.8L506.2 81.8L506.3 82.8L506.3 82.6L506.5 85.8L506.5 82.4L506.6 85.8L506.7 81.3L506.7 82.7L506.9 85.1L506.9 82.8L507.2 83.5L507.2 86.2L507.3 82.1L507.4 86.4L507.5 86.3L507.5 85.5L507.6 83.1L507.8 82.7L507.8 84.4L508.0 83.2L508.2 85.4L508.4 87.2L508.4 84.4L508.5 86.2L508.6 90.3L508.7 83.5L508.7 83.7L508.8 84.9L508.8 82.7L508.9 88.2L509.0 82.9L509.2 85.0L509.2 83.2L509.3 86.2L509.3 83.5L509.5 84.4L509.6 87.2L509.7 83.1L509.8 84.2L509.9 86.7L510.1 85.8L510.2 83.9L510.3 81.9L510.3 84.9L510.5 85.6L510.6 82.3L510.7 82.6L510.8 84.2L510.8 80.5L510.9 84.8L511.0 83.2L511.0 84.3L511.2 85.7L511.2 82.5L511.3 84.3L511.3 81.4L511.4 85.8L511.5 84.7L511.5 84.0L511.7 86.9L511.7 82.5L511.8 85.0L512.0 82.6L512.1 81.0L512.2 83.6L512.3 83.8L512.3 81.2L512.4 84.6L512.5 81.6L512.5 84.1L512.7 82.5L512.9 81.3L512.9 82.6L513.1 81.9L513.2 84.4L513.3 81.7L513.4 84.7L513.5 85.4L513.6 80.5L513.7 83.3L513.9 82.3L514.0 80.9L514.0 82.5L514.2 80.7L514.3 82.3L514.3 84.1L514.5 80.5L514.5 79.5L514.7 84.4L514.7 82.5L514.8 83.0L515.0 81.0L515.0 78.2L515.2 81.7L515.2 80.5L515.3 81.2L515.4 80.0L515.5 82.4L515.7 79.1L515.8 79.4L515.9 83.3L516.0 80.0L516.0 80.4L516.1 82.9L516.2 79.5L516.2 81.7L516.3 82.1L516.3 83.6L516.5 79.0L516.5 80.7L516.6 79.8L516.7 83.7L516.7 82.0L516.9 79.9L517.0 81.8L517.1 81.4L517.2 80.3L517.3 82.8L517.5 79.2L517.5 80.6L517.6 82.2L517.7 78.5L517.7 79.2L517.8 82.0L517.9 79.1L518.1 80.7L518.2 82.1L518.3 78.9L518.3 82.6L518.5 81.0L518.5 78.7L518.7 81.9L518.7 77.8L518.9 78.3L519.0 81.1L519.0 79.5L519.1 83.0L519.1 79.4L519.2 80.9L519.3 79.2L519.4 82.1L519.6 81.4L519.7 79.5L519.8 80.8L519.8 78.6L519.9 82.4L520.0 80.6L520.1 81.5L520.2 78.8L520.3 80.8L520.4 79.1L520.5 79.9L520.6 81.4L520.7 75.6L520.9 81.1L521.0 79.9L521.2 80.7L521.2 82.5L521.3 80.6L521.4 76.9L521.5 82.6L521.5 79.5L521.6 82.5L521.6 79.1L521.7 79.5L521.9 80.0L521.9 82.2L522.1 81.4L522.2 78.5L522.3 82.0L522.4 79.4L522.5 79.0L522.7 82.4L522.8 81.2L522.8 83.2L522.9 79.4L523.0 81.2L523.0 79.9L523.1 79.3L523.2 82.4L523.2 81.3L523.3 81.3L523.5 82.1L523.5 80.2L523.6 79.7L523.7 84.0L523.8 82.3L523.9 80.7L524.0 81.9L524.1 83.0L524.3 79.9L524.4 84.4L524.5 80.6L524.5 81.4L524.6 79.4L524.7 82.8L524.7 81.4L524.8 80.8L524.8 85.2L525.0 83.1L525.1 80.7L525.2 82.3L525.3 85.5L525.3 83.9L525.6 81.5L525.6 83.3L525.8 82.7L525.9 81.3L526.0 84.4L526.0 80.2L526.1 85.1L526.2 82.2L526.3 81.8L526.4 83.8L526.5 84.1L526.6 83.2L526.7 89.3L526.7 87.7L526.9 81.5L527.0 83.9L527.1 80.3L527.2 82.8L527.3 83.7L527.4 81.3L527.5 82.9L527.6 84.9L527.7 81.2L527.7 82.3L527.8 84.4L527.8 80.0L528.0 82.3L528.0 78.8L528.2 82.9L528.2 82.2L528.3 83.7L528.5 80.7L528.6 84.0L528.7 81.2L528.8 81.5L528.9 80.6L529.0 83.6L529.0 83.3L529.1 84.9L529.2 81.7L529.2 83.3L529.3 85.7L529.5 79.3L529.6 80.5L529.7 81.4L529.8 82.3L529.8 80.7L529.9 84.2L530.0 83.8L530.0 82.1L530.1 85.2L530.2 82.4L530.3 81.0L530.4 84.0L530.5 83.0L530.6 83.9L530.7 81.0L530.8 81.4L530.9 83.2L531.1 84.3L531.2 81.3L531.3 82.2L531.3 85.1L531.4 81.1L531.5 83.4L531.5 80.7L531.6 83.7L531.7 80.6L531.7 83.7L531.8 83.7L532.0 81.2L532.0 83.8L532.2 81.2L532.3 79.2L532.5 83.0L532.5 81.7L532.6 80.1L532.7 84.0L532.8 85.0L533.0 79.1L533.0 85.2L533.1 80.8L533.2 82.6L533.3 83.3L533.3 82.0L533.5 81.3L533.7 80.4L533.7 85.1L533.8 85.4L534.0 82.1L534.1 80.6L534.1 82.9L534.4 82.7L534.4 85.0L534.5 81.5L534.6 85.4L534.7 80.9L534.7 81.5L534.8 82.7L534.9 85.1L535.0 81.6L535.1 83.5L535.2 84.5L535.3 84.7L535.3 82.8L535.5 88.4L535.5 81.8L535.6 81.1L535.7 86.7L535.9 86.2L536.0 84.0L536.1 85.6L536.1 82.8L536.3 84.9L536.4 83.2L536.5 86.5L536.6 83.7L536.8 84.3L536.8 82.3L536.9 87.3L537.0 87.0L537.0 85.1L537.2 86.5L537.2 83.3L537.4 87.1L537.5 84.7L537.5 86.6L537.6 85.6L537.8 83.5L537.9 86.6L538.0 85.9L538.0 86.8L538.1 82.1L538.2 86.6L538.3 86.6L538.3 84.1L538.5 88.2L538.7 83.9L538.7 87.5L538.9 84.8L539.0 86.5L539.1 86.8L539.1 83.9L539.3 84.8L539.3 82.9L539.5 86.8L539.5 86.2L539.6 87.4L539.7 83.5L539.8 84.8L539.9 84.3L540.0 87.8L540.0 81.7L540.1 86.1L540.2 84.7L540.3 85.8L540.4 83.8L540.6 86.9L540.7 84.9L540.9 85.2L540.9 86.5L541.0 84.0L541.2 86.8L541.3 82.8L541.5 86.9L541.5 86.8L541.6 83.0L541.7 86.3L541.8 85.5L541.9 86.6L542.0 82.7L542.0 85.5L542.2 83.9L542.4 83.8L542.4 86.7L542.5 86.3L542.7 84.2L542.9 85.1L543.0 83.9L543.0 87.2L543.1 85.2L543.3 87.1L543.3 87.8L543.4 83.8L543.5 85.7L543.7 86.4L543.7 84.5L543.8 86.6L543.9 84.9L544.0 85.7L544.1 86.9L544.2 82.9L544.3 84.9L544.3 86.9L544.4 83.5L544.5 84.9L544.5 85.1L544.6 82.9L544.7 90.9L544.8 88.7L545.0 83.4L545.0 86.1L545.1 87.9L545.2 84.3L545.2 85.1L545.3 84.1L545.3 87.3L545.4 83.8L545.5 86.8L545.6 85.4L545.7 87.0L545.8 86.7L545.8 83.7L546.0 84.1L546.0 85.3L546.1 82.6L546.4 84.1L546.4 86.3L546.5 83.3L546.7 88.5L546.7 83.7L546.8 85.4L546.9 82.9L546.9 87.4L547.0 83.6L547.0 84.1L547.1 84.0L547.2 88.1L547.3 86.2L547.3 82.6L547.4 86.4L547.5 83.7L547.5 83.8L547.6 81.8L547.6 87.9L547.7 84.1L547.8 84.8L547.9 87.0L548.0 83.4L548.0 84.3L548.1 82.5L548.2 87.1L548.3 84.7L548.3 83.2L548.5 88.1L548.6 86.8L548.6 84.3L548.8 84.3L548.9 85.3L549.0 86.3L549.1 87.3L549.2 84.2L549.2 84.6L549.3 83.9L549.5 87.4L549.5 84.6L549.6 87.0L549.7 81.5L549.9 85.6L550.0 86.5L550.0 86.9L550.1 82.6L550.2 83.5L550.3 83.7L550.3 87.1L550.5 84.9L550.5 84.0L550.6 88.2L550.6 83.2L550.7 85.9L550.8 85.5L550.9 84.0L551.1 85.6L551.2 83.1L551.3 85.1L551.4 85.4L551.5 81.8L551.5 83.0L551.6 86.6L551.7 84.6L551.8 88.3L551.9 82.9L552.0 85.4L552.1 83.9L552.2 85.5L552.3 81.9L552.5 85.0L552.5 85.8L552.6 84.5L552.9 84.5L553.0 86.9L553.1 86.0L553.2 83.8L553.3 85.8L553.4 83.2L553.6 84.2L553.7 86.6L553.8 83.4L554.0 85.7L554.0 85.0L554.1 88.7L554.2 83.1L554.2 88.4L554.3 83.6L554.4 86.0L554.5 86.0L554.7 81.7L554.7 81.9L554.8 83.8L554.9 86.5L555.0 83.1L555.0 85.3L555.2 82.1L555.3 81.5L555.4 85.9L555.5 83.0L555.5 82.1L555.6 85.7L555.7 85.1L555.8 84.8L555.9 82.1L556.1 85.8L556.2 83.6L556.3 84.6L556.4 86.4L556.5 81.7L556.5 84.5L556.6 81.9L556.8 84.2L556.8 82.0L557.0 82.4L557.1 85.8L557.2 81.2L557.3 85.7L557.3 82.1L557.5 83.9L557.5 82.1L557.7 85.1L557.8 84.8L557.9 86.6L558.0 83.6L558.2 86.2L558.2 83.1L558.3 81.9L558.5 85.4L558.5 80.6L558.7 86.4L558.7 84.3L558.8 87.0L558.9 83.7L559.0 85.6L559.0 84.3L559.2 85.7L559.4 86.4L559.4 84.1L559.5 85.1L559.6 82.8L559.6 87.0L559.7 84.1L559.8 84.5L559.9 90.5L560.0 84.9L560.0 84.9L560.1 83.7L560.2 87.4L560.3 84.8L560.5 86.5L560.5 81.9L560.6 85.7L560.7 85.6L560.9 84.8L561.0 87.1L561.0 84.1L561.1 88.8L561.2 83.8L561.2 84.7L561.3 85.3L561.3 87.5L561.4 81.6L561.5 85.0L561.5 85.1L561.6 83.2L561.7 86.8L561.8 87.5L561.9 82.8L562.0 84.9L562.0 86.9L562.2 82.9L562.4 83.4L562.5 86.0L562.5 82.5L562.6 85.7L562.7 83.5L562.8 89.1L562.8 89.6L563.0 83.2L563.0 87.1L563.1 87.1L563.2 83.1L563.2 84.1L563.3 84.3L563.4 81.7L563.5 83.0L563.6 82.3L563.7 85.3L563.7 84.3L563.8 81.9L564.0 83.0L564.0 83.4L564.2 81.8L564.3 84.2L564.5 82.0L564.5 81.4L564.7 85.3L564.8 83.1L564.8 84.4L565.0 81.2L565.0 83.0L565.1 83.3L565.2 79.8L565.3 83.9L565.5 81.8L565.5 81.8L565.7 79.5L565.7 83.5L565.8 81.8L566.0 84.6L566.2 84.3L566.2 82.7L566.4 81.2L566.4 83.3L566.5 81.7L566.7 86.4L566.9 84.0L566.9 86.1L567.0 82.0L567.1 85.3L567.2 83.9L567.4 82.9L567.5 85.3L567.5 84.7L567.6 85.3L567.7 82.2L567.9 83.1L567.9 85.3L568.0 85.8L568.1 86.8L568.2 83.6L568.3 86.5L568.4 83.4L568.5 86.5L568.5 84.5L568.7 87.8L568.8 82.6L568.8 86.2L569.0 85.6L569.0 86.5L569.1 88.2L569.2 82.6L569.3 85.3L569.4 87.6L569.5 82.7L569.5 86.8L569.6 83.6L569.7 88.2L569.7 87.1L569.8 87.0L569.8 84.4L570.1 86.1L570.1 85.2L570.3 86.5L570.4 83.0L570.5 85.9L570.5 86.0L570.6 84.1L570.7 87.3L570.8 87.9L570.8 84.1L571.0 87.4L571.0 82.3L571.1 86.7L571.2 84.4L571.3 83.6L571.5 84.5L571.6 85.0L571.7 84.3L571.8 85.1L571.8 86.5L571.9 83.4L572.0 85.6L572.1 84.9L572.2 86.5L572.3 87.8L572.4 84.6L572.5 84.9L572.5 84.6L572.7 85.7L572.8 85.7L572.9 87.0L573.0 81.8L573.1 86.9L573.1 84.3L573.3 85.3L573.4 85.8L573.5 81.5L573.6 86.2L573.7 84.4L573.8 83.6L573.9 87.0L574.0 85.2L574.0 86.2L574.1 83.2L574.1 87.3L574.2 85.9L574.3 82.5L574.5 86.5L574.5 85.1L574.6 82.0L574.7 87.9L574.7 85.4L574.9 86.2L575.0 83.6L575.1 87.0L575.2 84.1L575.3 88.0L575.4 82.3L575.5 83.5L575.6 86.4L575.7 83.4L575.9 86.1L576.0 83.8L576.1 83.2L576.1 85.7L576.3 83.4L576.4 89.5L576.5 86.2L576.6 84.1L576.7 86.3L576.8 83.3L576.9 85.1L577.0 85.0L577.1 83.7L577.3 86.9L577.4 87.6L577.4 84.2L577.5 86.5L577.5 86.1L577.6 85.0L577.8 84.7L577.8 87.1L578.0 84.7L578.1 87.2L578.2 82.8L578.4 85.5L578.5 87.4L578.5 85.4L578.6 87.5L578.8 88.6L578.8 84.9L579.0 86.3L579.0 87.5L579.1 85.5L579.3 86.3L579.5 84.3L579.5 83.0L579.6 87.6L579.7 86.0L579.8 82.8L580.0 85.9L580.0 83.8L580.2 86.5L580.3 84.7L580.3 82.8L580.5 87.2L580.5 87.3L580.6 87.4L580.7 83.3L580.8 86.0L580.8 85.1L580.9 92.4L581.0 91.0L581.0 85.7L581.2 83.4L581.2 86.6L581.3 83.6L581.4 85.7L581.5 83.5L581.6 88.2L581.7 81.6L581.7 83.0L581.8 84.2L581.8 83.4L581.9 86.7L582.0 84.0L582.2 85.4L582.2 84.0L582.3 85.1L582.4 83.6L582.4 87.6L582.5 85.9L582.5 84.8L582.7 88.3L582.7 84.0L582.9 83.9L583.0 85.5L583.0 87.0L583.1 84.5L583.3 85.8L583.4 86.6L583.5 89.8L583.6 84.6L583.7 86.7L583.8 89.4L583.9 85.6L584.0 87.0L584.0 84.6L584.2 89.7L584.2 85.7L584.3 86.2L584.5 88.4L584.5 88.4L584.6 85.4L584.8 88.1L584.9 85.8L585.0 87.1L585.1 85.3L585.1 89.8L585.2 87.4L585.3 88.4L585.3 85.1L585.4 89.7L585.5 87.4L585.5 87.2L585.7 89.2L585.8 86.1L585.8 85.0L586.0 89.5L586.0 90.9L586.1 91.8L586.2 84.9L586.3 89.0L586.5 87.0L586.6 89.2L586.7 88.1L586.9 86.6L587.0 88.4L587.2 90.5L587.2 87.6L587.3 87.4L587.4 89.5L587.6 89.6L587.7 86.9L587.8 90.7L588.0 87.8L588.0 89.0L588.1 91.8L588.2 88.2L588.2 89.2L588.3 89.5L588.3 87.6L588.6 88.3L588.6 86.3L588.8 87.2L588.8 85.7L588.9 90.0L589.0 87.2L589.0 86.7L589.1 89.4L589.3 89.0L589.4 88.0L589.6 88.1L589.7 88.9L589.8 86.9L589.9 89.6L590.0 90.9L590.2 88.6L590.3 88.1L590.4 89.4L590.5 88.3L590.6 90.6L590.7 86.0L590.8 90.2L590.9 87.6L591.2 89.7L591.2 88.4L591.3 87.2L591.3 89.7L591.5 89.1L591.6 86.8L591.7 89.9L591.7 88.0L591.8 91.4L592.0 86.6L592.0 86.5L592.1 85.6L592.2 90.2L592.2 88.0L592.3 86.4L592.4 90.6L592.5 89.2L592.6 89.7L592.7 87.4L592.9 86.7L593.0 89.7L593.2 89.3L593.2 87.5L593.3 89.3L593.3 87.4L593.5 90.8L593.5 89.2L593.6 86.2L593.7 89.6L593.9 89.7L593.9 87.6L594.0 88.5L594.2 90.2L594.2 86.3L594.3 89.1L594.4 87.7L594.5 86.2L594.7 88.3L594.8 86.9L595.0 89.8L595.1 89.8L595.1 87.6L595.3 89.7L595.5 86.9L595.6 91.0L595.7 88.6L595.8 88.8L595.9 86.2L596.0 90.0L596.0 89.2L596.2 87.7L596.4 90.2L596.4 87.6L596.6 87.3L596.7 90.0L596.8 88.2L596.9 90.7L596.9 87.2L597.0 88.2L597.1 89.6L597.2 86.8L597.3 90.6L597.3 85.7L597.5 89.6L597.5 88.1L597.7 90.9L597.8 88.9L597.8 86.3L598.0 89.8L598.1 87.9L598.2 90.4L598.3 90.2L598.4 88.5L598.5 90.1L598.6 90.2L598.7 87.1L598.8 90.8L598.8 87.1L598.9 93.2L599.0 92.7L599.0 91.9L599.2 85.6L599.2 89.7L599.3 88.2L599.3 90.3L599.7 90.2L599.7 87.3L599.8 92.5L599.8 88.7L600.0 89.0L600.0 87.9L600.2 91.7L600.2 90.0L600.3 87.0L600.4 92.4L600.5 90.1L600.5 90.0L600.6 90.6L600.7 86.9L600.8 90.4L600.9 87.6L601.0 92.3L601.0 90.6L601.1 87.9L601.3 87.8L601.4 90.7L601.7 91.3L601.7 89.3L601.8 88.1L602.0 91.0L602.0 85.8L602.1 91.5L602.2 89.4L602.3 91.1L602.4 85.5L602.5 89.0L602.5 89.4L602.6 89.6L602.7 86.3L602.7 89.2L602.8 87.9L602.9 89.2L603.0 88.9L603.1 86.5L603.2 89.6L603.4 87.9L603.4 90.2L603.7 87.2L603.7 89.6L603.8 89.4L603.9 86.9L604.1 87.8L604.2 89.7L604.3 87.1L604.3 89.6L604.5 87.8L604.6 85.4L604.7 89.9L604.8 87.6L604.9 89.4L605.1 86.4L605.1 88.7L605.4 89.9L605.5 86.9L605.5 88.3L605.6 85.9L605.8 88.8L606.0 85.0L606.1 88.7L606.1 85.8L606.3 85.1L606.4 88.0L606.5 87.5L606.7 89.2L606.8 89.6L607.0 86.9L607.0 88.0L607.1 85.0L607.2 89.0L607.2 88.0L607.3 89.1L607.3 84.9L607.5 86.6L607.5 88.4L607.6 85.9L607.8 86.5L607.9 84.0L608.0 88.3L608.0 86.1L608.1 89.2L608.2 85.0L608.2 88.4L608.3 85.8L608.3 83.7L608.4 89.0L608.5 85.2L608.5 84.5L608.6 84.2L608.7 87.4L608.7 84.6L608.8 87.6L608.8 85.8L609.0 85.6L609.1 85.1L609.2 88.2L609.2 86.3L609.4 88.6L609.5 86.7L609.7 87.4L609.7 85.2L609.8 86.7L609.9 84.0L610.0 88.5L610.1 85.5L610.2 86.4L610.3 85.8L610.3 87.9L610.5 85.7L610.6 89.6L610.7 86.4L610.8 86.6L610.9 84.3L611.0 88.9L611.0 89.0L611.2 89.8L611.2 85.9L611.3 84.0L611.4 86.9L611.5 84.8L611.6 89.1L611.7 88.2L611.8 86.7L611.9 88.6L612.0 84.6L612.1 88.2L612.2 85.5L612.3 85.8L612.4 84.2L612.4 88.3L612.5 86.0L612.6 87.9L612.7 85.1L612.8 88.8L612.9 86.2L613.0 84.9L613.2 88.2L613.2 87.3L613.3 86.9L613.4 84.7L613.5 88.7L613.5 87.8L613.7 86.4L613.8 86.5L613.8 87.8L613.9 84.0L614.0 86.1L614.0 84.5L614.1 87.7L614.2 87.6L614.3 85.5L614.4 87.1L614.6 86.9L614.7 85.5L614.8 87.8L614.9 85.1L615.0 89.4L615.0 86.5L615.2 87.7L615.3 88.2L615.4 85.3L615.6 88.5L615.7 86.9L615.8 84.8L615.9 86.7L616.0 85.0L616.1 86.9L616.3 86.5L616.4 83.7L616.5 86.7L616.5 85.9L616.7 83.9L616.7 87.4L616.9 85.9L616.9 83.7L617.0 86.9L617.1 94.1L617.2 84.5L617.4 86.7L617.4 84.4L617.5 86.3L617.6 87.0L617.7 83.1L617.7 84.6L617.8 83.1L617.8 85.3L617.9 82.0L618.0 85.1L618.1 84.2L618.2 86.8L618.3 85.8L618.4 83.7L618.5 85.8L618.7 83.9L618.8 84.0L618.9 85.8L619.0 83.6L619.2 85.2L619.3 82.4L619.3 85.6L619.5 85.3L619.5 85.3L619.6 82.7L619.7 86.3L619.8 85.5L619.9 84.3L620.1 83.1L620.1 85.9L620.3 86.4L620.4 83.4L620.7 82.8L620.7 85.7L620.8 83.8L620.8 84.9L621.2 85.6L621.2 84.2L621.3 85.9L621.5 83.8L621.6 82.7L621.6 84.6L621.8 86.0L621.9 83.1L622.0 82.5L622.2 86.2L622.2 82.8L622.3 82.6L622.3 85.7L622.4 81.2L622.5 84.7L622.5 84.4L622.6 85.0L622.7 81.1L622.8 83.1L622.8 81.3L622.9 85.3L623.0 84.2L623.1 83.4L623.2 86.1L623.3 84.5L623.5 86.1L623.5 86.0L623.7 83.6L623.8 86.7L623.9 82.9L624.0 84.9L624.0 81.4L624.2 84.6L624.3 86.8L624.4 82.7L624.5 84.2L624.6 86.0L624.7 83.6L624.8 82.1L624.9 86.1L625.0 82.0L625.0 84.9L625.1 81.6L625.2 85.1L625.3 82.3L625.5 84.9L625.5 83.4L625.6 83.0L625.7 86.1L625.7 86.1L625.8 83.3L626.0 85.7L626.0 85.9L626.2 87.2L626.2 82.6L626.3 85.4L626.5 82.3L626.5 86.5L626.7 84.0L626.9 83.0L626.9 85.1L627.0 85.3L627.2 81.2L627.2 85.6L627.3 85.4L627.5 81.6L627.6 84.6L627.7 86.0L627.8 82.7L627.9 84.7L628.1 81.8L628.2 84.8L628.3 84.0L628.3 84.4L628.5 81.0L628.5 84.1L628.6 85.6L628.9 82.3L629.0 84.7L629.0 84.0L629.1 84.6L629.2 81.2L629.2 83.3L629.3 84.3L629.3 83.0L629.5 86.4L629.6 83.1L629.6 84.9L629.8 84.4L629.9 85.6L630.0 82.0L630.0 83.2L630.1 81.9L630.2 85.5L630.2 84.7L630.3 83.2L630.4 86.9L630.5 84.6L630.5 85.7L630.6 88.0L630.7 83.8L630.9 83.0L630.9 85.6L631.0 85.8L631.1 83.3L631.4 84.1L631.5 86.4L631.5 84.9L631.6 81.3L631.7 87.5L631.8 84.6L631.9 85.8L632.1 86.2L632.2 83.4L632.3 86.6L632.4 84.3L632.5 86.9L632.6 84.8L632.8 85.5L632.9 88.4L632.9 84.4L633.0 86.5L633.2 83.5L633.2 86.1L633.3 82.2L633.3 87.4L633.5 82.1L633.5 83.4L633.7 84.5L633.9 85.0L634.0 82.7L634.1 81.4L634.2 84.3L634.3 82.6L634.3 81.5L634.5 85.3L634.6 82.9L634.7 85.8L634.8 81.2L634.9 84.6L635.0 83.9L635.0 83.0L635.2 90.2L635.2 88.9L635.3 83.3L635.4 81.1L635.4 84.1L635.5 81.6L635.6 84.6L635.7 82.3L635.9 82.1L635.9 84.8L636.0 82.8L636.1 84.0L636.2 80.9L636.2 82.5L636.3 82.7L636.4 81.8L636.4 84.9L636.5 82.4L636.5 83.8L636.6 81.2L636.8 82.2L636.9 79.6L637.0 83.2L637.1 81.0L637.2 83.7L637.3 79.8L637.4 79.7L637.5 83.2L637.5 83.8L637.7 81.3L637.9 80.2L637.9 83.1L638.1 81.5L638.2 84.2L638.3 83.0L638.4 81.3L638.6 81.4L638.6 83.5L638.8 82.7L638.9 80.2L639.0 83.8L639.0 81.2L639.2 83.5L639.3 81.4L639.4 83.7L639.5 80.0L639.5 79.3L639.7 84.2L639.8 80.9L640.0 83.3L640.0 81.1L640.1 83.3L640.3 83.5L640.3 79.4L640.5 81.5L640.7 81.4L640.7 84.1L640.8 80.6L640.9 83.1L641.1 82.6L641.2 85.4L641.4 84.4L641.5 82.0L641.5 81.8L641.6 80.3L641.7 84.2L641.8 84.9L641.9 82.5L642.0 83.0L642.2 84.0L642.2 80.6L642.4 83.6L642.4 81.6L642.5 80.6L642.7 84.8L642.7 84.6L642.8 82.7L642.9 84.3L643.0 79.3L643.0 83.2L643.1 84.4L643.2 80.8L643.2 83.3L643.3 83.5L643.3 86.1L643.5 80.4L643.5 85.6L643.7 82.4L643.8 86.7L643.8 82.2L644.0 83.8L644.0 85.4L644.2 81.4L644.4 84.3L644.4 81.8L644.6 84.7L644.7 82.1L644.8 82.2L644.9 85.2L645.0 83.6L645.0 84.7L645.1 83.1L645.3 82.5L645.3 80.9L645.4 84.2L645.5 83.4L645.5 81.6L645.7 86.3L645.8 84.9L645.9 82.4L646.0 82.8L646.2 86.0L646.4 84.6L646.5 81.7L646.6 81.9L646.6 84.8L646.8 83.8L646.9 82.5L647.0 82.9L647.1 87.2L647.2 83.3L647.3 82.7L647.3 82.2L647.5 85.2L647.6 85.9L647.7 82.9L647.9 86.3L648.0 83.5L648.0 85.0L648.2 82.5L648.3 85.7L648.4 83.5L648.5 88.1L648.5 81.4L648.6 84.7L648.7 84.4L648.8 82.3L649.0 85.4L649.0 84.8L649.1 83.2L649.3 82.9L649.5 85.8L649.5 83.1L649.6 82.0L649.7 86.4L649.8 82.4L649.9 86.0L650.0 83.0L650.0 85.3L650.1 82.1L650.2 86.7L650.3 84.9L650.4 82.5L650.7 84.5L650.7 82.1L650.8 84.0L650.9 86.7L651.0 82.8L651.2 84.3L651.2 87.1L651.3 83.4L651.4 81.6L651.4 85.2L651.5 82.7L651.5 84.3L651.7 86.3L651.7 83.1L651.8 85.3L651.8 81.8L652.0 84.4L652.0 85.8L652.2 81.4L652.2 83.9L652.3 84.2L652.4 81.0L652.5 87.9L652.5 84.8L652.7 83.3L652.8 82.4L652.9 84.3L653.0 84.4L653.1 83.3L653.2 91.4L653.3 91.2L653.4 83.8L653.5 85.1L653.5 83.7L653.6 87.7L653.7 84.5L653.8 85.8L653.8 86.5L653.9 83.1L654.0 85.2L654.1 88.3L654.2 86.5L654.3 83.5L654.4 85.9L654.7 83.6L654.7 86.6L654.8 84.0L654.8 85.2L655.2 84.3L655.2 85.5L655.4 84.3L655.5 87.2L655.6 86.5L655.7 85.0L655.8 83.4L656.0 85.9L656.1 84.1L656.2 86.3L656.3 83.4L656.4 87.3L656.5 85.0L656.5 86.6L656.7 84.0L656.8 84.7L656.9 86.2L657.1 83.1L657.2 86.1L657.3 84.1L657.3 83.5L657.4 87.2L657.5 85.4L657.5 86.8L657.7 83.8L657.7 84.5L657.8 84.9L657.9 86.3L657.9 83.3L658.0 85.7L658.0 85.0L658.1 85.4L658.2 81.7L658.2 83.4L658.4 86.3L658.5 85.1L658.5 86.1L658.6 82.1L658.7 83.8L658.8 84.8L658.8 81.6L659.0 86.0L659.0 83.0L659.2 85.7L659.3 86.0L659.4 83.7L659.5 86.5L659.6 83.3L659.7 83.5L659.9 87.0L659.9 84.4L660.0 83.0L660.1 85.5L660.2 82.4L660.2 83.9L660.3 84.6L660.5 86.3L660.5 87.9L660.6 83.3L660.7 83.5L660.8 85.1L660.8 82.8L660.9 86.1L661.0 85.4L661.0 85.8L661.1 83.7L661.3 86.0L661.4 82.8L661.5 84.9L661.5 86.1L661.6 83.3L661.7 87.0L661.7 86.2L661.8 85.2L661.8 86.7L662.0 86.5L662.1 84.4L662.2 88.0L662.3 86.9L662.3 88.4L662.5 83.8L662.5 85.2L662.7 83.0L662.7 87.3L662.8 89.0L662.8 84.0L663.0 84.6L663.0 85.5L663.2 83.9L663.2 88.2L663.3 84.6L663.3 84.3L663.4 88.8L663.5 86.4L663.5 84.6L663.6 86.2L663.8 84.3L664.0 86.6L664.0 83.6L664.1 86.0L664.3 84.5L664.4 87.4L664.6 86.9L664.7 84.4L664.8 87.2L664.8 90.4L664.9 86.5L665.0 87.9L665.0 87.1L665.1 84.5L665.3 84.6L665.5 86.6L665.6 85.0L665.7 87.7L665.8 86.5L665.9 83.4L665.9 86.7L666.0 84.5L666.0 82.9L666.2 88.5L666.3 84.5L666.5 86.5L666.5 86.4L666.7 89.0L666.8 85.7L666.9 87.8L667.0 85.6L667.1 88.8L667.2 87.1L667.3 84.1L667.4 89.0L667.5 83.8L667.7 86.8L667.7 84.1L667.8 87.6L667.9 83.9L668.0 87.7L668.1 87.3L668.2 85.0L668.3 87.2L668.3 88.1L668.4 84.8L668.5 87.2L668.7 88.7L668.7 86.3L668.8 85.8L668.8 84.5L669.1 84.3L669.2 86.6L669.3 87.0L669.5 85.9L669.6 85.2L669.6 88.0L669.9 88.1L669.9 86.1L670.0 87.0L670.1 84.7L670.1 88.5L670.2 87.2L670.3 87.8L670.4 85.6L670.5 88.7L670.5 84.1L670.7 87.8L670.8 87.2L671.0 84.6L671.0 87.3L671.2 84.9L671.2 88.9L671.3 88.3L671.3 93.9L671.4 85.1L671.5 85.1L671.6 87.6L671.7 85.9L671.8 86.5L671.8 82.6L672.0 87.0L672.0 86.7L672.1 88.5L672.2 84.9L672.2 87.3L672.3 86.6L672.4 83.7L672.6 85.3L672.6 86.6L672.8 85.7L672.9 81.6L673.0 84.2L673.0 84.8L673.1 86.1L673.3 84.3L673.5 86.3L673.5 86.9L673.7 83.7L673.8 86.7L673.8 84.6L674.0 84.2L674.1 83.7L674.2 87.1L674.3 88.1L674.4 84.3L674.5 84.7L674.5 86.0L674.7 83.9L674.8 84.7L674.9 86.8L674.9 82.5L675.0 85.8L675.0 84.8L675.2 85.5L675.2 82.3L675.3 86.6L675.4 88.0L675.5 82.5L675.6 86.0L675.7 83.3L675.8 86.5L675.9 86.8L675.9 83.6L676.0 86.4L676.1 83.0L676.2 85.8L676.3 86.5L676.5 83.8L676.5 85.3L676.6 84.2L676.6 87.6L676.7 86.8L676.8 84.5L676.9 86.7L676.9 82.8L677.0 84.5L677.1 84.5L677.2 85.8L677.3 86.2L677.3 82.1L677.4 86.9L677.5 86.0L677.5 84.5L677.7 85.9L677.8 86.6L677.8 80.8L678.0 84.4L678.0 83.4L678.2 85.6L678.3 87.5L678.5 83.9L678.5 83.1L678.6 86.4L678.7 85.5L678.8 86.1L678.9 86.6L679.0 82.4L679.0 83.2L679.1 87.1L679.2 85.9L679.3 83.5L679.3 87.3L679.5 83.9L679.6 84.5L679.6 86.2L679.8 84.3L679.9 84.3L680.0 87.9L680.0 84.2L680.1 83.3L680.2 87.6L680.3 88.2L680.4 83.2L680.5 86.8L680.5 86.8L680.6 85.1L680.8 87.2L680.9 84.5L681.2 86.7L681.2 84.4L681.3 86.2L681.4 83.5L681.4 89.1L681.5 87.3L681.5 88.4L681.6 85.5L681.8 85.4L681.8 88.8L681.9 82.9L682.0 86.7L682.0 85.8L682.2 88.3L682.3 88.1L682.4 85.6L682.5 85.9L682.6 87.8L682.7 84.2L682.8 83.9L683.0 86.8L683.1 87.7L683.1 85.4L683.4 84.3L683.5 87.1L683.5 86.1L683.7 84.4L683.8 85.4L683.8 82.5L684.0 87.7L684.1 85.7L684.1 84.1L684.3 86.1L684.4 83.2L684.5 87.7L684.5 84.0L684.6 83.1L684.7 86.9L684.8 83.8L684.9 83.2L684.9 87.3L685.0 86.1L685.1 82.6L685.2 85.2L685.4 85.3L685.5 82.6L685.5 85.6L685.6 83.1L685.8 83.7L685.8 83.0L686.0 82.5L686.1 86.0L686.2 81.9L686.3 84.2L686.4 84.9L686.5 81.7L686.5 85.5L686.7 82.7L686.7 86.0L686.9 85.2L687.0 82.6L687.0 84.4L687.1 82.1L687.2 85.9L687.3 85.6L687.4 87.0L687.5 82.0L687.5 85.5L687.6 83.4L687.8 86.2L687.9 84.3L688.1 84.8L688.1 82.8L688.4 85.6L688.5 83.6L688.5 82.8L688.7 84.9L688.9 83.3L689.0 85.8L689.1 83.6L689.2 86.1L689.3 84.4L689.4 90.3L689.5 87.5L689.5 85.0L689.7 83.1L689.8 83.5L689.9 87.6L690.0 84.1L690.1 83.9L690.2 86.7L690.3 87.1L690.5 81.4L690.5 84.9L690.6 82.6L690.7 86.4L690.7 84.7L690.8 84.5L690.8 85.7L690.9 82.6L691.0 85.3L691.1 83.8L691.2 85.9L691.3 86.7L691.5 84.4L691.5 84.5L691.6 83.2L691.7 86.5L691.7 86.4L691.8 85.7L692.0 81.8L692.0 84.8L692.1 82.4L692.2 85.7L692.3 85.5L692.3 81.9L692.4 86.6L692.5 86.1L692.5 86.0L692.6 88.1L692.7 83.4L692.7 84.1L692.9 84.8L693.0 83.6L693.0 85.4L693.1 82.3L693.1 87.9L693.2 84.1L693.4 85.1L693.5 83.2L693.5 83.0L693.7 82.8L693.7 86.0L693.8 83.5L693.8 80.5L693.9 86.0L694.0 83.4L694.0 86.0L694.1 82.2L694.2 85.9L694.4 85.4L694.4 83.4L694.6 82.4L694.7 84.3L694.8 82.3L695.0 86.2L695.0 83.0L695.1 81.9L695.3 83.5L695.4 81.0L695.5 84.6L695.5 81.8L695.6 81.0L695.6 85.6L695.7 82.2L695.8 83.5L695.8 80.7L696.0 84.8L696.0 83.2L696.2 80.3L696.2 85.8L696.3 81.6L696.5 83.0L696.5 81.9L696.6 84.1L696.7 80.8L696.8 84.7L696.8 82.1L697.1 84.1L697.1 82.8L697.4 83.5L697.4 80.5L697.5 81.4L697.7 84.5L697.7 82.3L697.8 85.8L697.9 87.1L698.0 83.9L698.0 83.4L698.1 83.3L698.2 86.5L698.3 82.2L698.4 84.7L698.5 83.5L698.6 85.0L698.7 80.9L698.7 82.3L698.8 83.7L698.9 85.4L699.0 81.9L699.0 83.1L699.2 81.4L699.2 85.0L699.3 84.6L699.3 81.1L699.4 85.5L699.5 84.8L699.5 81.9L699.6 85.4L699.7 82.3L699.8 84.5L699.9 81.8L700.1 82.1L700.1 84.1L700.4 83.9L700.5 82.0L700.6 84.7L700.6 83.2L700.8 79.8L700.8 83.3L700.9 79.7L701.0 83.2L701.0 83.4L701.1 80.6L701.3 83.5L701.4 80.6L701.5 83.7L701.5 80.3L701.7 83.8L701.7 82.5L701.8 83.6L701.8 81.5L702.2 81.8L702.2 83.7L702.3 83.7L702.4 81.7L702.5 79.8L702.6 86.0L702.7 81.9L702.8 83.3L702.9 80.5L703.0 82.4L703.1 83.3L703.1 79.9L703.2 82.0L703.3 83.5L703.3 79.1L703.5 80.7L703.5 83.7L703.7 80.4L703.8 79.5L703.9 82.6L704.0 81.8L704.1 82.2L704.2 80.7L704.3 80.6L704.4 77.6L704.5 82.7L704.5 81.0L704.7 79.3L704.8 81.3L704.8 76.9L704.9 81.8L705.0 80.5L705.0 81.1L705.1 77.8L705.2 81.4L705.3 81.2L705.3 76.3L705.4 81.6L705.5 81.0L705.5 79.9L705.7 80.9L705.9 80.6L706.0 82.0L706.0 81.6L706.2 77.7L706.2 80.2L706.3 80.9L706.3 83.1L706.4 80.0L706.5 80.6L706.5 82.7L706.6 78.8L706.7 79.7L706.9 78.3L706.9 80.9L707.0 80.6L707.2 77.7L707.3 78.5L707.5 86.0L707.5 86.3L707.7 80.6L707.7 81.0L707.8 81.9L707.8 79.8L707.9 82.8L708.0 80.2L708.0 82.0L708.1 83.3L708.2 78.5L708.3 80.8L708.3 77.5L708.5 79.8L708.5 81.3L708.6 78.3L708.8 80.3L708.8 81.9L709.0 78.6L709.1 83.3L709.2 80.4L709.3 81.7L709.3 77.9L709.5 82.0L709.6 79.5L709.7 82.4L709.9 81.2L710.0 80.0L710.0 79.6L710.1 80.8L710.1 77.7L710.2 80.3L710.3 79.3L710.5 82.1L710.5 79.9L710.6 82.4L710.9 80.2L711.0 82.5L711.0 81.8L711.2 79.3L711.3 79.1L711.4 81.6L711.5 79.3L711.6 81.4L711.7 76.8L711.7 80.6L711.8 79.1L711.9 80.7L712.0 82.6L712.1 82.9L712.1 78.9L712.2 79.6L712.3 81.4L712.3 82.5L712.4 78.6L712.5 80.1L712.5 79.6L712.7 81.7L712.8 79.8L712.8 82.7L713.0 79.7L713.1 80.0L713.2 76.8L713.2 79.8L713.4 81.3L713.5 78.4L713.5 79.8L713.6 81.8L713.7 75.9L713.8 82.3L713.8 82.4L713.9 76.1L714.0 77.6L714.0 76.9L714.1 80.6L714.2 78.1L714.3 78.2L714.4 77.1L714.4 81.5L714.5 79.2L714.5 80.2L714.6 77.8L714.8 77.9L715.0 80.3L715.2 78.2L715.2 79.5L715.3 77.9L715.4 83.2L715.4 75.6L715.5 79.8L715.5 76.2L715.6 77.9L715.8 74.5L716.0 77.8L716.0 79.2L716.1 76.5L716.3 79.0L716.3 75.9L716.5 78.8L716.6 78.3L716.7 77.2L716.8 77.3L716.9 79.6L717.0 76.4L717.1 80.3L717.2 76.2L717.3 75.4L717.4 78.1L717.5 78.6L717.7 74.2L717.7 77.4L717.8 75.9L718.0 77.6L718.1 75.9L718.2 77.6L718.3 77.8L718.3 75.2L718.5 79.8L718.5 75.1L718.6 77.3L718.8 75.1L719.0 78.5L719.0 79.3L719.1 74.6L719.2 77.9L719.3 74.4L719.5 79.2L719.5 78.3L719.6 78.8L719.7 75.2L719.8 78.1L719.9 77.0L720.0 78.2L720.1 79.0L720.2 74.9L720.3 76.2L720.5 78.7L720.5 74.9L720.7 79.2L720.7 77.3L720.8 77.0L720.8 78.3L720.9 73.8L721.0 76.1L721.0 77.1L721.1 75.4L721.1 79.4L721.2 76.5L721.3 75.8L721.4 75.2L721.5 78.7L721.5 78.6L721.7 73.1L721.8 75.4L721.9 78.3L722.0 75.7L722.1 78.1L722.1 74.5L722.2 75.9L722.3 77.6L722.3 78.6L722.4 75.4L722.5 76.0L722.5 76.2L722.6 79.0L722.8 74.4L723.0 78.7L723.0 75.4L723.2 78.3L723.3 74.5L723.4 78.8L723.5 77.8L723.5 75.8L723.6 78.6L723.8 74.8L723.9 76.9L724.1 78.2L724.2 75.2L724.3 74.2L724.4 78.0L724.5 75.5L724.5 76.3L724.6 78.4L724.8 73.6L724.9 77.2L725.0 73.4L725.0 73.6L725.2 76.7L725.2 75.5L725.3 76.6L725.4 75.2L725.5 79.5L725.6 81.5L725.7 74.5L725.7 76.5L725.8 73.7L725.9 77.6L726.0 75.4L726.0 73.8L726.2 76.9L726.2 76.7L726.3 76.7L726.3 74.7L726.4 78.1L726.5 77.2L726.6 76.8L726.7 74.9L726.8 76.4L726.9 77.9L727.0 73.8L727.1 73.4L727.2 77.7L727.2 76.5L727.4 78.0L727.4 75.2L727.5 74.7L727.6 77.8L727.7 73.4L727.8 77.9L728.0 75.1L728.1 77.0L728.2 74.1L728.3 77.4L728.4 74.6L728.5 74.4L728.6 77.8L728.7 76.5L728.8 78.4L728.9 74.0L729.0 74.7L729.1 78.0L729.2 75.6L729.3 78.2L729.4 75.5L729.5 79.6L729.5 75.9L729.6 74.7L729.7 77.9L729.8 77.9L729.9 74.9L730.1 76.4L730.2 78.3L730.3 74.0L730.5 78.1L730.6 77.3L730.7 74.3L730.9 75.6L730.9 76.9L731.0 74.0L731.1 76.5L731.2 72.7L731.3 75.2L731.4 78.2L731.4 75.0L731.5 76.6L731.6 77.3L731.7 75.9L731.9 75.9L732.0 78.7L732.0 77.6L732.1 75.8L732.3 76.9L732.3 74.0L732.4 77.2L732.5 76.4L732.6 76.4L732.7 75.5L732.8 74.7L732.8 76.3L733.1 77.0L733.2 74.2L733.4 77.9L733.4 75.8L733.6 78.1L733.6 75.2L733.8 75.3L734.0 73.3L734.0 76.5L734.1 75.2L734.3 78.0L734.3 73.8L734.4 78.5L734.5 76.5L734.5 72.9L734.7 79.8L734.7 74.3L734.8 72.2L735.0 77.1L735.0 73.9L735.1 73.3L735.2 78.7L735.3 75.0L735.5 77.5L735.6 77.5L735.7 74.9L735.8 75.0L735.9 79.6L736.0 76.7L736.0 77.4L736.1 75.6L736.2 78.9L736.2 76.6L736.4 77.2L736.5 74.7L736.5 75.5L736.6 75.3L736.7 79.2L736.7 78.4L736.8 77.0L736.8 75.8L737.1 76.1L737.2 78.1L737.3 75.4L737.4 78.5L737.5 76.5L737.6 79.0L737.6 76.2L737.8 77.6L738.0 75.4L738.0 77.5L738.2 75.4L738.3 75.6L738.4 78.3L738.5 73.3L738.5 75.3L738.6 74.2L738.7 78.2L738.7 75.5L738.8 77.2L738.9 75.3L739.0 79.5L739.2 76.4L739.3 74.6L739.3 79.1L739.5 76.5L739.6 77.1L739.7 74.4L739.8 77.0L739.8 73.6L740.0 75.2L740.0 73.7L740.1 77.9L740.2 76.1L740.3 74.8L740.5 73.4L740.5 74.9L740.6 74.0L740.6 77.0L740.7 74.5L740.8 76.3L740.8 77.3L740.9 73.2L741.0 74.8L741.1 74.9L741.2 76.8L741.3 75.9L741.4 72.2L741.5 76.3L741.5 77.8L741.6 72.8L741.7 74.4L741.8 73.7L742.0 76.0L742.0 75.3L742.1 76.6L742.2 72.0L742.3 73.3L742.4 76.3L742.5 74.0L742.7 73.2L742.7 75.0L742.8 72.3L742.9 71.2L743.0 76.0L743.0 74.7L743.1 71.6L743.2 74.9L743.3 74.3L743.4 74.5L743.5 71.2L743.5 72.9L743.7 83.5L743.7 78.9L743.8 71.6L743.9 73.7L744.0 74.3L744.1 76.2L744.2 72.0L744.3 72.4L744.4 75.2L744.5 73.4L744.7 76.6L744.7 75.5L744.8 73.9L744.9 72.3L744.9 77.0L745.0 74.2L745.1 74.0L745.2 74.8L745.3 72.2L745.4 74.9L745.5 72.1L745.7 76.0L745.7 75.8L745.8 73.8L745.8 73.0L745.9 76.3L746.0 75.4L746.1 76.8L746.2 73.9L746.3 71.6L746.4 75.7L746.5 75.6L746.6 74.8L746.7 76.1L746.8 75.6L746.9 77.4L746.9 74.0L747.0 74.1L747.0 75.9L747.1 76.7L747.2 73.1L747.2 76.1L747.3 76.9L747.3 77.5L747.4 74.3L747.5 76.1L747.5 77.8L747.6 75.7L747.9 75.7L747.9 77.9L748.0 78.9L748.2 74.2L748.2 75.5L748.4 79.2L748.5 76.2L748.5 77.5L748.7 79.7L748.8 76.8L748.9 78.6L749.0 75.6L749.0 78.9L749.1 74.9L749.2 77.0L749.3 76.0L749.4 77.6L749.6 75.9L749.6 78.5L749.8 75.4L749.9 79.5L750.0 75.9L750.0 76.1L750.1 74.7L750.4 77.1L750.5 76.1L750.5 77.2L750.6 74.2L750.9 75.7L750.9 77.1L751.0 75.9L751.1 78.0L751.3 75.4L751.4 77.4L751.6 77.1L751.7 76.0L751.8 76.0L751.9 77.4L752.2 76.6L752.2 74.7L752.4 78.2L752.4 76.3L752.5 74.0L752.7 76.9L752.8 75.7L753.0 78.5L753.0 78.7L753.1 71.6L753.2 75.2L753.3 73.3L753.3 78.5L753.5 77.4L753.5 77.1L753.7 79.1L753.9 79.2L753.9 77.3L754.0 76.5L754.1 78.5L754.4 77.7L754.5 79.7L754.6 79.4L754.7 77.0L754.8 74.5L754.9 77.7L755.0 76.3L755.1 79.0L755.2 77.1L755.3 78.8L755.3 79.1L755.4 75.8L755.5 76.4L755.6 78.9L755.7 76.3L755.9 80.6L756.0 78.4L756.0 76.3L756.1 80.7L756.2 77.6L756.4 77.7L756.5 79.9L756.6 78.6L756.7 80.9L756.8 77.8L756.8 77.2L757.0 80.3L757.0 79.9L757.2 75.7L757.2 79.8L757.3 77.4L757.4 80.8L757.5 78.8L757.6 80.5L757.7 77.5L757.8 80.9L758.0 78.1L758.1 80.8L758.2 79.8L758.3 79.1L758.5 81.9L758.5 80.7L758.6 83.7L758.7 79.9L758.8 81.8L758.9 79.3L759.1 79.8L759.2 81.4L759.3 81.4L759.3 78.2L759.5 82.9L759.6 81.0L759.7 78.2L759.8 80.5L759.8 78.5L759.9 83.2L760.0 80.9L760.0 79.6L760.2 78.3L760.2 81.8L760.3 80.6L760.4 77.9L760.4 81.1L760.5 80.0L760.5 81.0L760.6 78.8L760.8 79.6L760.9 82.6L760.9 78.5L761.0 80.6L761.1 81.8L761.1 78.9L761.3 79.4L761.4 81.4L761.5 78.1L761.5 78.6L761.6 76.2L761.7 84.6L761.8 83.2L762.0 78.4L762.0 77.6L762.2 80.8L762.3 81.3L762.5 79.5L762.5 79.6L762.6 76.5L762.7 81.8L762.8 81.1L762.9 77.4L763.0 82.0L763.0 84.3L763.2 79.4L763.3 80.7L763.4 83.3L763.4 79.4L763.5 80.1L763.6 80.7L763.7 83.0L763.8 79.9L763.8 83.0L764.0 81.7L764.1 82.9L764.2 80.8L764.3 83.2L764.4 85.1L764.5 82.2L764.6 85.8L764.7 84.0L764.9 86.1L764.9 83.8L765.0 84.2L765.1 87.1L765.3 84.3L765.5 87.2L765.5 85.8L765.7 89.2L765.8 88.3L766.0 87.0L766.0 89.6L766.1 91.0L766.2 85.8L766.2 88.2L766.3 88.1L766.4 90.7L766.5 89.7L766.7 93.2L766.7 90.7L766.8 92.5L767.0 95.9L767.0 95.5L767.1 99.0L767.2 97.5L767.3 99.3L767.3 97.4L767.5 101.1L767.5 100.1L767.7 104.7L767.8 106.0L767.8 103.2L767.9 106.4L768.0 105.9L768.0 109.5L768.1 107.5L768.2 110.6L768.4 110.7L768.5 112.8L768.5 115.0L768.6 111.9L768.7 115.6L768.7 114.2L768.8 117.4L768.9 112.9L769.0 118.1L769.0 118.4L769.1 116.5L769.2 121.9L769.2 116.9L769.3 119.7L769.3 123.4L769.4 119.1L769.5 120.5L769.5 121.3L769.6 119.6L769.6 124.9L769.7 123.7L769.8 122.0L769.9 124.9L770.0 127.7L770.2 130.4L770.2 123.8L770.3 127.1L770.4 129.5L770.5 125.4L770.5 130.7L770.6 127.4L770.7 129.2L770.8 130.8L770.8 126.2L771.0 126.3L771.1 128.7L771.2 126.0L771.3 127.8L771.4 123.0L771.5 126.1L771.5 121.2L771.6 128.1L771.7 127.6L771.8 125.3L771.9 122.8L772.0 127.3L772.0 127.5L772.1 121.2L772.2 126.7L772.3 121.1L772.5 124.7L772.5 122.2L772.6 125.4L772.7 121.7L772.8 119.4L772.9 121.0L773.1 122.1L773.2 119.7L773.3 120.6L773.4 118.7L773.4 122.6L773.5 119.4L773.5 118.7L773.7 119.5L773.8 120.0L774.0 116.1L774.0 119.4L774.1 117.1L774.2 120.3L774.2 118.5L774.3 120.5L774.4 117.9L774.5 120.7L774.6 117.3L774.7 120.4L774.9 120.6L775.0 118.7L775.0 120.3L775.1 122.3L775.2 117.7L775.2 122.2L775.4 121.2L775.5 120.1L775.5 121.6L775.6 122.8L775.7 118.3L775.8 122.1L775.8 120.0L776.0 123.6L776.2 119.6L776.3 123.1L776.4 120.6L776.5 119.2L776.6 122.0L776.8 120.2L776.9 119.4L777.0 124.2L777.0 119.4L777.2 125.5L777.3 123.7L777.4 119.4L777.5 120.5L777.5 123.3L777.7 81.4L777.7 90.4L777.8 124.2L777.9 121.9L778.1 125.4L778.2 123.3L778.3 123.9L778.4 126.2L778.5 125.6L778.6 128.0L778.6 122.7L778.7 127.1L778.8 125.3L778.9 124.1L778.9 129.7L779.0 127.9L779.0 126.1L779.2 129.9L779.2 126.8L779.3 131.6L779.4 128.9L779.7 127.8L779.7 130.7L779.8 129.0L779.8 131.4L779.9 127.7L780.0 129.0L780.0 134.0L780.1 129.2L780.2 130.4L780.3 131.6L780.3 134.0L780.4 129.4L780.5 131.9L780.5 133.2L780.6 135.8L780.6 130.8L780.7 130.8L780.8 138.8L780.9 130.0L781.0 137.5L781.0 138.8L781.1 132.2L781.2 138.4L781.3 137.4L781.4 136.4L781.4 141.6L781.5 139.7L781.5 137.9L781.6 135.8L781.7 139.0L781.7 135.8L781.8 138.2L781.9 135.5L782.0 141.4L782.1 135.7L782.1 144.9L782.2 140.4L782.3 138.1L782.4 146.0L782.5 143.2L782.5 142.0L782.6 148.9L782.7 136.9L782.7 143.4L782.8 141.5L782.9 136.5L783.0 146.7L783.0 138.1L783.1 137.1L783.1 142.7L783.2 140.4L783.3 137.3L783.4 142.5L783.5 137.2L783.5 144.5L783.6 145.1L783.6 141.1L783.7 142.2L783.9 140.5L784.0 143.3L784.0 148.8L784.2 139.6L784.3 141.1L784.3 136.7L784.4 143.4L784.5 140.1L784.6 143.9L784.6 141.1L784.8 139.4L784.8 144.8L785.0 141.2L785.0 138.0L785.2 145.8L785.3 142.0L785.4 140.9L785.4 146.5L785.5 144.7L785.5 142.4L785.6 136.8L785.7 146.6L785.8 146.5L785.8 151.5L785.9 145.3L786.0 145.6L786.0 139.4L786.1 150.1L786.2 141.9L786.3 144.5L786.3 153.7L786.5 140.2L786.5 142.2L786.6 144.6L786.8 149.4L786.9 142.8L787.0 146.2L787.0 149.3L787.1 149.6L787.2 144.4L787.3 148.3L787.4 150.8L787.5 143.5L787.5 150.4L787.6 145.8L787.6 152.0L787.7 149.8L787.8 145.5L787.9 152.0L788.0 146.8L788.0 144.4L788.2 158.3L788.3 146.2L788.3 145.0L788.4 149.2L788.5 145.1L788.5 143.3L788.6 152.6L788.7 152.5L788.8 142.5L789.0 156.0L789.0 150.6L789.1 158.8L789.2 145.9L789.3 150.4L789.3 147.8L789.5 157.6L789.5 159.0L789.6 142.8L789.7 147.9L789.8 151.8L789.9 149.5L790.0 155.4L790.1 140.9L790.2 157.1L790.2 148.8L790.3 152.4L790.3 143.9L790.4 156.4L790.5 150.2L790.5 156.2L790.7 106.4L790.7 118.9L790.8 143.5L790.9 164.8L791.0 150.2L791.0 150.8L791.1 143.3L791.2 157.3L791.3 145.0L791.4 160.9L791.5 152.9L791.5 158.8L791.6 145.9L791.7 149.5L791.8 152.6L791.8 151.2L791.9 154.7L792.0 153.7L792.0 154.8L792.1 164.2L792.2 150.8L792.2 154.4L792.3 151.1L792.3 149.7L792.4 160.8L792.5 156.2L792.5 151.9L792.6 151.6L792.7 168.7L792.7 161.5L792.8 152.1L792.9 162.0L793.0 157.8L793.0 137.9L793.1 117.8L793.2 156.9L793.3 159.8L793.4 150.8L793.5 163.0L793.5 159.2L793.7 151.8L793.8 146.9L793.9 159.0L794.0 145.6L794.0 144.1L794.1 162.7L794.2 157.1L794.3 150.7L794.5 162.9L794.5 152.8L794.6 146.9L794.7 176.1L794.8 167.9L794.8 163.3L795.0 179.9L795.0 162.6L795.1 148.6L795.2 156.1L795.3 156.8L795.5 148.0L795.5 151.5L795.6 150.6L795.7 163.4L795.7 154.7L795.8 160.0L795.9 106.8L796.0 122.7L796.0 137.0L796.1 167.5L796.2 161.4L796.3 160.5L796.3 152.5L796.4 163.2L796.5 156.5L796.5 157.3L796.6 163.1L796.7 152.9L796.8 158.6L796.9 164.1L796.9 151.4L797.0 154.2L797.0 157.5L797.1 167.6L797.2 147.9L797.3 154.3L797.4 164.3L797.5 162.9L797.5 159.3L797.6 166.8L797.7 148.5L797.8 143.6L797.9 165.0L798.0 152.9L798.0 155.4L798.1 156.0L798.2 117.4L798.2 120.6L798.3 123.9L798.5 174.0L798.5 164.8L798.6 168.3L798.7 150.2L798.7 150.3L798.8 179.7L798.8 150.7L799.0 170.5L799.0 155.9L799.1 170.0L799.2 153.5L799.3 155.4L799.3 164.8L799.5 158.7L799.5 167.8L799.6 151.2L799.7 166.0L799.8 157.2L799.8 165.7L799.9 155.5L800.0 162.3L800.0 153.6L800.2 165.9L800.3 159.3L800.3 150.9L800.4 163.9L800.5 163.7L800.5 163.4L800.6 168.6L800.7 159.2L800.8 153.4L800.9 170.2L801.0 155.2L801.0 172.3L801.2 147.0L801.3 167.6L801.4 174.3L801.4 152.2L801.5 157.9L801.5 143.2L801.6 109.9L801.7 207.4L801.8 153.9L801.9 162.6L802.0 162.4L802.0 167.4L802.2 158.0L802.2 165.3L802.3 171.2L802.3 149.2L802.5 159.6L802.5 165.4L802.6 183.8L802.7 153.0L802.8 167.3L802.9 155.9L802.9 174.7L803.0 171.8L803.0 170.5L803.1 159.2L803.2 175.4L803.2 167.5L803.3 165.0L803.4 154.0L803.5 162.8L803.5 162.2L803.6 159.1L803.6 168.3L803.7 165.1L803.8 165.4L803.9 124.7L804.0 165.7L804.0 168.9L804.1 155.8L804.2 167.6L804.3 170.6L804.4 154.0L804.4 172.7L804.5 160.2L804.5 161.9L804.6 158.6L804.7 179.5L804.7 169.5L804.8 154.6L804.9 169.5L805.0 159.0L805.0 172.7L805.1 190.4L805.1 160.8L805.2 181.9L805.3 163.1L805.3 182.8L805.4 161.7L805.5 168.2L805.6 157.5L805.7 167.5L805.7 167.2L805.8 161.9L805.9 171.8L806.0 161.4L806.0 169.1L806.2 161.6L806.3 209.1L806.5 163.8L806.5 158.2L806.7 178.3L806.7 167.1L806.8 154.7L806.9 173.3L807.0 157.1L807.0 176.5L807.1 189.4L807.2 156.3L807.2 172.5L807.3 157.2L807.5 103.9L807.5 107.9L807.7 180.4L807.8 178.5L807.9 193.4L808.0 165.8L808.0 180.2L808.2 159.7L808.2 163.4L808.3 157.4L808.4 155.6L808.5 170.0L808.5 158.9L808.6 202.4L808.7 156.7L808.8 166.0L808.9 160.0L809.0 182.6L809.0 158.0L809.1 169.0L809.2 166.0L809.3 155.5L809.3 186.7L809.5 157.1L809.5 154.7L809.6 181.6L809.7 171.8L809.8 159.3L809.8 172.6L810.0 118.6L810.0 131.3L810.1 178.5L810.2 155.3L810.3 189.2L810.5 154.2L810.5 157.0L810.6 156.2L810.7 169.3L810.8 169.9L810.8 163.2L810.9 171.5L811.0 167.1L811.0 175.9L811.1 156.5L811.1 180.5L811.2 169.6L811.3 168.8L811.4 193.8L811.5 177.7L811.5 165.9L811.6 172.8L811.7 163.2L811.7 170.5L811.8 159.0L811.8 156.0L811.9 162.7L812.0 161.1L812.0 178.1L812.2 170.0L812.3 157.6L812.4 156.9L812.5 173.7L812.5 136.9L812.6 106.5L812.7 139.8L812.8 174.9L812.8 156.7L812.9 196.5L813.0 171.9L813.0 161.3L813.2 169.1L813.2 165.2L813.3 170.0L813.4 181.2L813.5 160.2L813.5 162.7L813.7 159.8L813.7 207.3L813.8 176.1L813.8 186.9L813.9 166.8L814.0 170.1L814.0 169.2L814.1 158.7L814.2 183.7L814.2 176.9L814.3 173.0L814.4 218.6L814.5 157.3L814.5 179.3L814.6 204.7L814.7 163.4L814.8 164.6L814.9 244.0L815.0 120.7L815.0 114.3L815.2 168.8L815.2 166.4L815.3 184.8L815.3 163.2L815.4 208.9L815.5 168.3L815.5 160.9L815.7 193.5L815.8 182.0L815.8 170.8L815.9 185.4L816.0 174.6L816.0 172.7L816.1 160.8L816.2 176.7L816.2 166.0L816.3 180.4L816.3 190.4L816.5 167.3L816.5 167.3L816.6 190.7L816.7 175.2L816.8 163.5L816.9 162.5L817.0 192.4L817.0 169.7L817.1 176.3L817.2 163.2L817.2 164.1L817.3 162.4L817.4 157.8L817.4 189.0L817.5 175.7L817.5 157.1L817.6 179.7L817.7 165.9L817.8 184.5L817.8 190.1L817.9 170.1L818.0 176.7L818.0 135.1L818.1 109.8L818.2 153.4L818.3 175.7L818.4 160.4L818.5 163.7L818.5 167.2L818.7 200.1L818.8 174.6L818.9 271.4L819.0 159.6L819.0 159.2L819.2 186.0L819.2 179.1L819.3 185.4L819.3 160.3L819.5 197.9L819.5 159.7L819.7 195.7L819.8 203.8L819.9 159.0L820.0 171.0L820.0 162.1L820.2 191.7L820.3 181.9L820.4 167.0L820.5 192.8L820.5 190.6L820.6 167.1L820.7 167.3L820.8 170.4L820.8 126.4L821.0 151.5L821.0 169.6L821.2 210.6L821.2 170.2L821.3 172.4L821.4 164.5L821.5 199.7L821.5 183.4L821.6 158.5L821.6 188.4L821.7 169.6L821.8 161.0L821.9 220.2L822.0 186.8L822.0 170.0L822.1 177.4L822.1 161.3L822.2 163.6L822.3 167.2L822.4 197.7L822.5 192.7L822.5 173.7L822.7 182.4L822.7 164.7L822.8 199.9L822.8 154.7L823.0 180.9L823.0 195.9L823.1 165.6L823.2 166.1L823.3 163.0L823.4 179.8L823.5 165.5L823.5 180.4L823.6 182.5L823.7 166.4L823.7 170.3L823.8 157.8L823.9 110.4L824.0 137.2L824.0 169.4L824.2 162.8L824.2 194.5L824.3 174.3L824.4 164.6L824.4 179.9L824.5 164.8L824.5 163.0L824.6 160.3L824.7 195.8L824.7 181.4L824.8 176.4L824.8 167.4L824.9 208.6L825.0 171.8L825.0 174.5L825.1 162.5L825.1 182.9L825.2 168.4L825.3 163.8L825.3 180.9L825.5 158.5L825.5 179.0L825.6 188.8L825.6 154.5L825.7 170.7L825.8 175.3L826.0 164.5L826.0 176.0L826.2 129.6L826.2 140.9L826.3 168.1L826.3 155.2L826.4 181.4L826.5 164.9L826.5 183.9L826.6 164.5L826.7 184.7L826.7 165.6L826.8 169.0L826.8 180.4L827.0 160.7L827.0 170.2L827.1 160.2L827.1 172.5L827.2 167.6L827.3 164.0L827.5 177.4L827.5 179.4L827.6 237.4L827.7 165.2L827.7 177.1L827.8 157.1L827.9 192.9L828.0 168.8L828.0 176.1L828.1 202.7L828.1 156.5L828.2 174.3L828.3 178.8L828.5 163.0L828.5 158.8L828.6 175.5L828.7 160.9L828.8 164.6L828.8 161.9L828.9 172.8L829.0 162.1L829.0 171.3L829.1 162.0L829.2 189.3L829.3 167.2L829.4 112.0L829.5 113.1L829.5 126.0L829.6 186.3L829.7 164.7L829.8 169.8L829.8 199.0L830.0 147.2L830.0 158.9L830.2 185.9L830.3 166.9L830.3 186.4L830.5 152.6L830.5 163.6L830.6 198.6L830.7 181.4L830.8 171.4L830.9 191.7L831.0 168.9L831.0 160.6L831.1 200.5L831.2 162.9L831.3 221.8L831.4 167.2L831.5 173.6L831.5 180.0L831.6 194.3L831.7 119.3L831.8 116.4L831.9 187.0L832.0 167.9L832.0 175.7L832.1 188.1L832.2 163.9L832.2 172.2L832.3 178.8L832.4 164.9L832.5 166.2L832.5 164.1L832.6 182.6L832.7 160.6L832.7 165.9L832.8 168.1L832.9 226.3L833.0 169.2L833.0 168.5L833.1 177.7L833.2 176.7L833.3 172.7L833.3 168.2L833.4 192.8L833.5 169.4L833.5 168.3L833.6 182.4L833.7 167.3L833.7 169.8L833.8 181.3L833.8 153.0L834.0 161.9L834.0 174.0L834.1 168.3L834.1 196.4L834.2 170.7L834.3 163.8L834.4 195.7L834.4 160.3L834.5 172.3L834.5 186.6L834.6 161.4L834.7 220.4L834.8 171.9L834.8 174.2L835.0 147.7L835.0 124.0L835.1 110.8L835.2 157.0L835.3 161.8L835.3 179.6L835.5 171.2L835.5 183.2L835.6 203.2L835.6 162.5L835.7 166.1L835.8 166.7L835.8 164.2L836.0 172.8L836.0 215.2L836.1 164.3L836.2 179.6L836.3 162.0L836.3 150.4L836.4 176.6L836.5 165.6L836.5 173.1L836.6 157.1L836.7 192.8L836.7 159.8L836.8 185.6L836.9 166.3L837.0 173.6L837.0 169.5L837.1 163.6L837.1 174.3L837.2 165.8L837.3 170.5L837.4 181.9L837.5 142.3L837.5 117.3L837.6 115.5L837.7 174.1L837.8 194.7L837.9 161.8L838.0 174.9L838.0 168.1L838.2 195.7L838.3 180.8L838.4 204.5L838.5 172.2L838.5 165.0L838.6 171.5L838.7 170.1L838.8 181.9L838.8 162.0L839.0 194.5L839.0 167.7L839.2 189.2L839.2 156.1L839.3 184.9L839.4 202.4L839.5 165.8L839.5 167.8L839.6 209.4L839.7 186.0L839.8 172.0L839.8 163.8L839.9 181.1L840.0 167.0L840.0 166.9L840.1 191.8L840.2 159.5L840.2 190.0L840.3 175.6L840.4 176.4L840.5 168.8L840.5 201.0L840.7 168.4L840.8 170.5L840.8 185.8L840.9 162.1L841.0 177.1L841.0 110.1L841.2 180.1L841.3 168.2L841.4 177.3L841.5 161.1L841.5 171.0L841.6 179.3L841.7 161.9L841.8 208.1L841.9 166.2L842.0 184.6L842.0 197.6L842.1 162.9L842.2 182.5L842.3 167.5L842.4 192.1L842.5 191.4L842.5 181.8L842.7 163.0L842.7 178.9L842.8 169.1L842.8 166.9L843.0 192.5L843.0 153.5L843.1 175.0L843.2 164.7L843.3 172.4L843.3 195.9L843.5 126.8L843.5 133.3L843.6 180.4L843.7 154.5L843.8 195.3L843.9 157.8L844.0 173.2L844.0 208.5L844.2 159.0L844.2 177.5L844.3 165.4L844.3 176.3L844.5 172.4L844.5 196.9L844.6 165.7L844.7 167.9L844.8 171.0L844.9 182.1L845.0 163.2L845.0 213.3L845.1 160.2L845.2 196.5L845.3 175.3L845.3 157.9L845.5 161.0L845.5 165.0L845.6 179.3L845.7 154.5L845.8 166.2L845.9 155.9L846.0 179.8L846.0 171.3L846.1 180.2L846.2 112.2L846.3 107.2L846.4 163.7L846.5 155.9L846.5 183.0L846.6 220.7L846.7 159.8L846.7 172.0L846.8 157.2L847.0 166.7L847.0 195.2L847.1 218.1L847.2 162.8L847.3 162.7L847.5 179.3L847.5 191.8L847.6 164.7L847.7 178.9L847.8 198.0L847.9 203.7L847.9 173.0L848.0 184.2L848.0 172.8L848.2 131.7L848.3 137.3L848.4 174.1L848.5 171.1L848.5 164.5L848.6 148.4L848.7 193.9L848.8 203.9L849.0 161.4L849.0 164.7L849.2 203.8L849.3 206.3L849.4 158.4L849.5 197.2L849.5 186.6L849.7 163.2L849.7 172.5L849.8 168.2L849.8 190.9L850.0 187.5L850.0 183.5L850.2 165.3L850.2 192.0L850.3 160.0L850.4 152.6L850.5 202.8L850.5 183.8L850.6 168.7L850.7 196.8L850.8 178.8L850.9 157.9L851.0 194.6L851.0 180.0L851.1 163.1L851.2 196.5L851.2 173.7L851.3 213.4L851.4 166.3L851.5 168.5L851.5 164.1L851.6 161.7L851.7 180.5L851.8 168.1L851.9 108.2L852.0 122.9L852.0 180.2L852.1 185.0L852.2 155.2L852.2 180.9L852.3 204.8L852.4 156.1L852.5 180.8L852.5 160.9L852.6 161.5L852.7 157.2L852.8 155.7L852.9 189.8L853.0 186.2L853.0 188.6L853.1 196.6L853.2 154.4L853.2 173.5L853.3 180.3L853.3 203.8L853.4 159.7L853.5 178.0L853.5 161.6L853.6 178.0L853.7 175.5L853.8 162.9L853.9 210.3L854.0 171.3L854.0 189.6L854.2 111.8L854.2 122.9L854.3 131.2L854.5 186.5L854.5 164.2L854.6 159.8L854.7 192.7L854.7 171.9L854.8 168.7L854.8 182.6L855.0 159.5L855.0 157.2L855.2 194.6L855.3 161.0L855.4 181.3L855.5 163.4L855.5 169.2L855.6 179.0L855.7 168.0L855.7 174.0L855.8 157.2L855.8 172.8L856.0 172.0L856.0 178.3L856.1 161.4L856.1 186.4L856.2 167.1L856.3 190.2L856.4 165.3L856.5 166.0L856.5 166.0L856.6 205.1L856.7 154.7L856.7 175.4L856.8 164.1L856.9 178.5L857.0 176.9L857.0 173.8L857.2 113.0L857.2 120.3L857.3 146.0L857.5 211.4L857.5 166.4L857.7 162.1L857.7 213.3L857.8 165.9L857.8 174.6L857.9 161.7L858.0 170.9L858.0 165.1L858.1 175.0L858.2 165.3L858.3 166.9L858.4 188.8L858.5 178.4L858.5 179.3L858.6 162.4L858.7 166.2L858.8 168.9L858.9 207.7L859.0 159.7L859.0 161.8L859.2 176.3L859.2 166.8L859.3 168.6L859.4 117.8L859.5 126.0L859.5 167.9L859.6 163.4L859.7 185.3L859.8 172.3L859.9 158.2L860.0 187.4L860.0 159.2L860.2 198.4L860.3 175.3L860.3 182.8L860.5 162.1L860.5 177.5L860.6 200.8L860.6 161.8L860.7 174.7L860.8 180.4L860.8 163.1L861.0 170.0L861.0 165.4L861.1 151.5L861.2 171.6L861.3 186.4L861.3 158.8L861.5 178.8L861.5 181.8L861.6 156.8L861.7 168.6L861.8 170.5L861.8 164.3L861.9 175.2L862.0 168.9L862.0 183.5L862.1 207.7L862.2 160.2L862.3 160.7L862.4 180.9L862.5 168.9L862.5 184.2L862.6 170.6L862.7 185.2L862.7 185.0L862.8 168.4L862.9 179.0L863.0 168.0L863.0 134.8L863.1 110.1L863.2 159.0L863.3 164.8L863.3 161.0L863.4 176.1L863.5 170.8L863.5 177.3L863.6 164.9L863.7 181.6L863.8 170.6L863.8 178.2L863.9 163.2L864.0 166.0L864.0 161.4L864.2 172.4L864.3 168.0L864.4 182.7L864.5 163.9L864.5 164.4L864.6 184.4L864.7 169.6L864.8 180.5L865.0 162.2L865.0 186.0L865.1 161.0L865.2 200.5L865.2 173.1L865.3 176.4L865.3 191.0L865.5 161.7L865.5 180.4L865.7 121.9L865.8 123.0L866.0 179.3L866.0 164.9L866.1 216.0L866.2 158.8L866.2 178.3L866.3 168.1L866.5 201.4L866.5 170.2L866.6 163.0L866.7 178.7L866.8 178.2L866.9 150.1L867.0 196.2L867.0 163.0L867.1 181.9L867.2 164.3L867.3 165.0L867.4 152.0L867.4 196.2L867.5 179.1L867.5 161.4L867.7 171.9L867.8 160.1L867.9 157.7L867.9 176.2L868.0 165.5L868.0 174.2L868.1 201.9L868.2 160.3L868.2 172.9L868.3 151.5L868.4 206.6L868.5 157.2L868.5 161.6L868.7 106.9L868.7 115.9L868.8 139.8L869.0 172.3L869.0 156.3L869.1 176.6L869.2 164.8L869.3 162.3L869.3 165.7L869.5 160.0L869.5 164.7L869.6 170.1L869.7 149.2L869.7 165.7L869.8 149.5L869.8 144.5L869.9 164.6L870.0 156.6L870.0 162.5L870.2 153.1L870.3 169.6L870.4 223.1L870.4 151.8L870.5 157.0L870.5 154.3L870.7 161.7L870.7 158.3L870.8 150.6L870.9 116.5L871.0 139.0L871.0 161.4L871.1 166.9L871.2 151.3L871.2 162.3L871.3 163.8L871.4 179.0L871.4 149.3L871.5 162.3L871.5 159.2L871.6 177.8L871.7 147.2L871.7 153.4L871.8 156.2L871.9 182.3L872.0 147.6L872.0 146.9L872.1 168.7L872.2 168.2L872.3 148.4L872.3 163.9L872.5 161.2L872.5 155.5L872.6 145.4L872.7 163.6L872.8 165.7L872.9 152.6L873.0 157.8L873.0 164.0L873.1 153.7L873.2 178.2L873.2 160.0L873.3 158.6L873.4 144.5L873.4 168.8L873.5 160.7L873.5 144.5L873.6 156.7L873.7 152.1L873.8 157.1L873.9 159.7L874.0 150.7L874.0 152.9L874.2 114.4L874.2 119.0L874.3 142.5L874.4 161.4L874.5 158.9L874.5 157.6L874.6 184.3L874.7 150.8L874.8 152.9L874.9 152.1L875.0 163.2L875.0 158.7L875.2 145.0L875.3 145.4L875.4 142.9L875.5 164.2L875.5 152.4L875.7 166.1L875.7 147.2L875.8 153.5L875.9 144.9L876.0 149.7L876.0 149.1L876.1 144.5L876.2 169.5L876.2 146.6L876.3 148.0L876.4 144.1L876.4 150.3L876.5 147.4L876.5 149.8L876.7 144.6L876.8 150.3L876.9 109.4L877.0 122.6L877.0 141.8L877.2 148.1L877.2 140.9L877.3 140.2L877.3 139.3L877.4 154.8L877.5 147.8L877.5 144.7L877.6 145.2L877.7 136.7L877.8 152.2L877.9 141.8L878.0 148.6L878.0 151.3L878.1 139.6L878.2 154.9L878.2 143.6L878.3 148.8L878.4 152.9L878.5 136.5L878.5 143.7L878.6 137.3L878.6 152.1L878.7 142.1L878.8 151.0L878.9 155.9L878.9 138.3L879.0 143.7L879.0 145.6L879.1 159.3L879.2 138.4L879.2 148.0L879.3 151.6L879.5 101.8L879.5 113.2L879.6 156.5L879.7 142.2L879.8 153.9L879.9 159.1L879.9 144.0L880.0 144.8L880.0 146.3L880.1 152.3L880.2 140.2L880.3 139.9L880.3 157.0L880.5 155.5L880.5 155.3L880.7 143.8L880.7 144.0L880.8 143.4L880.9 143.0L881.0 148.6L881.0 142.9L881.2 147.5L881.2 145.1L881.3 145.3L881.4 162.1L881.5 144.2L881.6 141.5L881.7 166.1L881.7 141.5L881.8 124.5L881.9 159.7L882.0 143.3L882.0 132.6L882.1 153.4L882.2 147.5L882.3 145.3L882.4 142.0L882.5 158.5L882.5 146.1L882.6 149.9L882.7 137.2L882.7 141.5L882.8 147.2L882.9 138.8L883.0 165.4L883.0 145.6L883.2 155.2L883.2 137.2L883.3 142.8L883.4 141.2L883.4 147.4L883.5 142.4L883.5 141.4L883.7 156.2L883.8 144.4L883.8 155.2L883.9 141.3L884.0 149.4L884.0 144.0L884.1 143.9L884.2 150.8L884.2 145.8L884.3 139.2L884.3 137.5L884.5 154.6L884.5 146.5L884.6 147.3L884.7 140.2L884.7 146.4L884.8 140.5L884.8 154.9L884.9 138.6L885.0 151.7L885.0 159.8L885.2 162.3L885.2 135.1L885.3 114.5L885.3 113.0L885.4 142.0L885.5 141.6L885.5 146.5L885.6 147.8L885.7 138.5L885.7 144.6L885.8 146.9L885.8 149.2L885.9 141.7L886.0 143.4L886.0 147.4L886.1 141.5L886.2 154.7L886.2 153.5L886.3 148.2L886.5 138.2L886.5 143.0L886.6 148.9L886.6 141.2L886.7 145.8L886.8 149.5L886.9 147.2L886.9 153.6L887.0 152.3L887.0 142.0L887.1 164.2L887.2 148.4L887.3 145.7L887.3 154.7L887.4 140.6L887.5 143.0L887.5 143.4L887.6 148.7L887.7 133.3L887.8 148.9L888.0 115.8L888.0 114.6L888.2 145.3L888.2 130.0L888.3 149.0L888.3 154.3L888.4 132.7L888.5 137.0L888.5 146.6L888.6 147.0L888.7 141.2L888.7 143.2L888.8 139.3L888.9 157.3L889.0 150.6L889.0 142.7L889.1 140.4L889.1 155.8L889.2 142.1L889.3 141.4L889.4 127.8L889.4 153.4L889.5 151.5L889.5 154.2L889.6 146.8L889.7 151.0L889.8 147.6L889.8 150.2L889.9 141.0L890.0 141.4L890.0 146.6L890.2 136.1L890.2 174.6L890.3 134.8L890.4 147.5L890.5 135.9L890.5 156.0L890.6 135.4L890.7 149.9L890.8 132.0L890.9 101.6L891.0 117.0L891.0 138.4L891.1 132.6L891.2 149.0L891.2 140.7L891.3 147.0L891.4 151.8L891.5 134.5L891.5 140.9L891.6 140.1L891.6 149.4L891.7 147.6L891.8 147.5L891.8 137.8L891.9 149.8L892.0 138.2L892.0 141.4L892.1 134.8L892.2 154.1L892.2 140.3L892.3 143.1L892.4 138.0L892.5 142.4L892.5 135.1L892.7 150.4L892.8 136.9L892.8 133.8L892.9 141.5L893.0 138.8L893.0 141.9L893.2 118.8L893.3 115.2L893.4 151.7L893.5 137.0L893.5 138.2L893.6 136.3L893.7 144.9L893.7 139.3L893.8 142.3L893.9 144.4L893.9 137.1L894.0 138.2L894.0 135.9L894.1 133.9L894.2 148.9L894.2 143.0L894.3 144.6L894.4 136.1L894.5 139.5L894.5 149.3L894.6 139.4L894.7 140.2L894.8 137.1L894.9 147.5L895.0 135.7L895.0 136.5L895.2 150.5L895.2 148.5L895.3 138.6L895.5 142.7L895.5 144.3L895.7 125.1L895.8 120.5L895.8 118.7L895.9 143.4L896.0 141.5L896.0 134.0L896.1 147.9L896.2 142.7L896.3 136.3L896.4 143.3L896.5 130.1L896.5 166.8L896.6 136.8L896.7 141.0L896.8 152.1L896.9 138.5L897.0 143.7L897.0 141.3L897.2 146.5L897.2 136.7L897.3 138.7L897.3 144.9L897.5 137.5L897.5 147.1L897.6 151.3L897.7 139.3L897.8 142.3L897.9 148.1L898.0 135.5L898.0 138.7L898.1 138.2L898.2 148.5L898.3 139.8L898.4 147.6L898.5 125.9L898.5 120.4L898.7 158.2L898.7 141.4L898.8 149.3L898.9 151.2L898.9 134.2L899.0 137.3L899.0 136.9L899.1 146.7L899.2 137.2L899.3 149.3L899.5 139.0L899.5 139.4L899.6 142.8L899.7 137.0L899.7 138.1L899.8 138.1L899.9 146.8L900.0 133.9L900.0 141.2L900.1 139.9L900.2 147.7L900.2 140.6L900.3 145.7L900.3 133.7L900.4 152.2L900.5 143.5L900.5 147.3L900.6 135.1L900.7 139.2L900.8 144.8L900.9 149.2L901.0 138.4L901.0 136.6L901.1 147.1L901.2 142.8L901.3 138.4L901.4 124.5L901.5 162.5L901.5 127.9L901.6 113.3L901.7 163.6L901.7 131.5L901.8 137.2L901.9 141.6L902.0 137.4L902.0 135.8L902.1 143.2L902.2 142.6L902.3 144.9L902.4 153.4L902.4 133.1L902.5 140.3L902.5 137.4L902.6 152.0L902.7 133.7L902.7 143.0L902.8 142.6L902.9 131.6L903.0 135.2L903.0 144.7L903.1 139.6L903.2 173.4L903.3 137.9L903.3 140.6L903.4 133.8L903.5 139.2L903.5 131.6L903.6 107.9L903.7 133.5L903.8 140.3L903.8 143.2L903.9 137.1L904.0 141.4L904.0 141.6L904.1 142.6L904.1 134.7L904.2 140.9L904.3 139.9L904.3 131.4L904.4 143.3L904.5 140.3L904.5 142.8L904.6 145.8L904.7 136.3L904.7 140.8L904.8 147.3L905.0 135.3L905.0 139.7L905.1 142.2L905.2 135.6L905.2 136.5L905.3 140.2L905.4 145.8L905.5 145.1L905.5 140.4L905.6 141.3L905.7 135.4L905.8 148.9L905.9 150.9L906.0 132.0L906.0 138.5L906.1 133.6L906.2 140.9L906.2 140.8L906.3 133.0L906.4 140.5L906.5 138.7L906.5 139.6L906.6 135.6L906.7 141.7L906.8 141.5L906.8 149.8L906.9 130.0L907.0 144.3L907.0 139.5L907.2 106.1L907.3 113.5L907.4 140.8L907.5 135.1L907.5 137.7L907.6 143.2L907.7 132.6L907.8 145.5L907.9 133.9L908.0 145.4L908.0 135.8L908.1 142.9L908.2 139.2L908.3 137.1L908.4 140.4L908.5 132.8L908.5 142.5L908.7 132.6L908.7 139.3L908.8 138.3L908.8 136.0L909.0 144.1L909.0 140.1L909.2 147.2L909.2 138.8L909.3 138.5L909.3 134.8L909.4 144.1L909.5 136.6L909.5 138.2L909.6 147.1L909.7 135.7L909.8 137.0L909.8 168.9L909.9 123.1L910.0 138.0L910.0 156.3L910.1 138.0L910.2 138.7L910.3 139.6L910.3 137.8L910.5 149.4L910.5 137.0L910.6 145.6L910.7 133.4L910.8 140.7L910.9 144.5L910.9 140.2L911.0 142.7L911.0 136.8L911.1 145.9L911.1 136.5L911.2 137.1L911.3 140.0L911.4 132.8L911.5 141.0L911.5 141.1L911.6 143.5L911.7 135.5L911.7 138.2L911.8 141.0L911.8 144.3L912.0 133.1L912.0 142.7L912.1 136.9L912.2 143.1L912.2 140.3L912.3 144.3L912.4 136.7L912.5 140.8L912.5 139.8L912.6 146.8L912.7 134.6L912.8 139.9L912.9 144.6L913.0 108.0L913.0 105.8L913.2 141.9L913.2 140.9L913.3 138.9L913.4 143.5L913.5 136.5L913.5 138.9L913.7 140.9L913.8 137.2L913.8 136.8L914.0 143.2L914.1 136.8L914.2 148.4L914.2 142.7L914.3 133.7L914.5 139.9L914.5 141.2L914.6 133.7L914.7 142.6L914.7 136.6L914.8 139.4L914.9 135.8L915.0 139.1L915.0 136.4L915.2 187.6L915.2 130.9L915.3 123.0L915.4 141.1L915.5 141.0L915.5 141.5L915.6 133.1L915.7 163.4L915.7 141.4L915.8 134.3L916.0 152.2L916.0 137.8L916.1 146.9L916.2 136.7L916.3 138.9L916.4 134.6L916.4 139.0L916.5 136.1L916.5 142.4L916.7 136.2L916.7 141.6L916.8 134.2L916.9 142.6L917.0 125.6L917.0 141.4L917.1 133.5L917.2 138.9L917.3 139.8L917.3 126.7L917.5 144.2L917.5 146.2L917.7 137.6L917.8 137.2L917.9 136.3L918.0 139.7L918.0 143.8L918.1 134.7L918.2 136.1L918.3 140.1L918.3 145.3L918.4 138.3L918.5 139.6L918.5 121.4L918.6 100.9L918.7 124.5L918.8 144.1L919.0 135.2L919.0 136.6L919.1 142.2L919.1 132.2L919.2 134.7L919.3 138.6L919.3 148.0L919.5 144.2L919.5 134.4L919.7 141.3L919.7 138.4L919.8 135.8L919.9 139.0L920.0 134.4L920.0 140.2L920.1 135.3L920.1 142.5L920.2 138.3L920.3 141.5L920.4 150.2L920.5 134.8L920.5 133.4L920.7 141.8L920.8 135.5L920.8 134.4L921.0 140.0L921.0 154.4L921.1 139.3L921.2 142.5L921.3 132.3L921.4 131.4L921.4 139.1L921.5 136.0L921.5 135.6L921.6 134.2L921.7 140.0L921.7 138.2L921.8 133.4L921.8 133.3L921.9 139.3L922.0 138.5L922.0 136.3L922.1 138.9L922.2 134.1L922.2 135.8L922.3 134.7L922.4 132.4L922.5 141.6L922.5 137.8L922.6 140.9L922.7 134.2L922.8 153.4L923.0 134.5L923.0 133.4L923.2 150.4L923.3 135.7L923.4 136.3L923.5 131.2L923.5 138.2L923.6 134.3L923.7 139.4L923.7 136.5L923.8 125.0L923.9 104.4L924.0 129.8L924.0 138.8L924.1 141.6L924.2 134.2L924.3 138.6L924.3 134.5L924.4 143.8L924.5 136.2L924.5 150.5L924.6 131.4L924.7 137.9L924.8 139.0L925.0 132.0L925.0 137.9L925.2 133.8L925.3 138.6L925.3 132.1L925.4 141.3L925.5 137.0L925.5 136.7L925.6 142.0L925.6 133.2L925.7 135.8L925.8 135.8L926.0 120.3L926.0 107.2L926.1 106.7L926.2 137.3L926.3 134.6L926.3 137.2L926.4 129.0L926.5 136.0L926.5 133.8L926.6 131.7L926.7 139.1L926.7 138.1L926.8 137.0L926.8 138.6L926.9 131.4L927.0 134.2L927.0 133.4L927.1 137.2L927.2 132.2L927.2 136.8L927.3 138.6L927.4 131.8L927.5 139.3L927.5 128.0L927.6 139.9L927.7 133.6L927.8 135.5L927.8 131.2L927.9 139.5L928.0 137.4L928.0 136.9L928.1 130.8L928.2 131.5L928.3 140.2L928.5 132.5L928.5 132.3L928.6 136.4L928.7 134.3L928.8 125.1L928.9 135.3L929.0 123.5L929.0 141.3L929.1 151.5L929.2 115.7L929.2 127.2L929.3 157.7L929.3 134.3L929.5 142.1L929.5 135.9L929.7 136.9L929.7 129.9L929.8 134.9L929.9 131.5L929.9 139.0L930.0 135.0L930.0 133.0L930.1 129.6L930.1 136.7L930.2 134.8L930.3 139.8L930.4 130.3L930.5 131.8L930.5 128.3L930.7 142.9L930.7 134.6L930.8 143.2L931.0 138.2L931.0 144.8L931.2 133.2L931.2 138.3L931.3 131.7L931.3 138.2L931.5 111.3L931.5 116.2L931.7 136.2L931.8 134.8L931.8 142.9L931.9 134.5L932.0 141.1L932.0 137.5L932.1 134.2L932.2 135.7L932.3 135.6L932.4 138.6L932.5 132.5L932.6 130.6L932.7 137.2L932.8 138.6L932.9 123.3L933.0 135.8L933.0 135.8L933.1 155.3L933.2 134.0L933.3 141.9L933.5 132.0L933.5 135.0L933.6 133.0L933.6 137.5L933.7 135.6L933.8 137.1L933.9 134.1L933.9 138.8L934.0 136.5L934.0 132.9L934.2 130.3L934.3 138.1L934.4 140.5L934.5 135.5L934.5 135.2L934.6 136.8L934.6 133.0L934.7 135.1L934.8 132.0L934.8 142.9L935.0 97.0L935.0 104.2L935.1 135.9L935.2 134.7L935.3 136.8L935.4 130.4L935.5 137.4L935.5 127.1L935.6 138.3L935.7 136.5L935.8 132.4L935.8 135.1L936.0 131.3L936.0 135.6L936.1 147.2L936.2 134.3L936.3 135.8L936.3 135.2L936.4 153.8L936.5 141.7L936.5 131.4L936.7 136.8L936.7 133.8L936.8 137.2L936.8 132.4L937.0 136.7L937.0 128.7L937.1 138.2L937.2 135.8L937.3 133.4L937.4 131.8L937.5 137.8L937.5 132.4L937.6 144.0L937.7 130.5L937.7 139.2L937.8 142.7L937.8 131.8L938.0 131.8L938.0 136.9L938.1 140.7L938.2 132.9L938.3 134.6L938.4 138.1L938.5 131.7L938.5 130.5L938.6 130.0L938.7 134.7L938.8 131.4L938.8 130.3L939.0 140.8L939.0 133.5L939.1 118.7L939.2 136.7L939.2 136.4L939.3 135.2L939.4 128.2L939.5 137.0L939.5 129.7L939.6 138.3L939.7 132.2L939.8 130.5L939.8 137.3L939.9 128.1L940.0 133.1L940.0 131.2L940.2 134.6L940.2 129.3L940.3 133.7L940.3 135.5L940.5 102.4L940.5 105.1L940.6 138.1L940.7 131.0L940.8 127.5L940.9 136.7L941.0 134.4L941.0 132.8L941.1 132.0L941.2 137.2L941.3 135.2L941.3 135.5L941.4 129.2L941.5 131.3L941.5 133.8L941.6 123.4L941.6 138.1L941.7 131.5L941.8 121.1L941.9 132.0L942.0 131.9L942.0 128.6L942.1 128.5L942.2 178.6L942.3 131.0L942.3 134.4L942.4 129.5L942.5 130.9L942.5 145.0L942.6 127.5L942.7 148.1L942.8 128.2L942.8 125.0L943.0 137.9L943.0 132.6L943.2 138.0L943.2 127.8L943.3 131.4L943.3 142.0L943.4 130.9L943.5 133.5L943.5 133.2L943.7 144.6L943.8 132.8L943.8 128.3L943.9 135.4L944.0 132.5L944.0 129.3L944.1 127.9L944.2 135.9L944.3 133.1L944.3 133.6L944.4 129.2L944.5 132.6L944.5 136.0L944.6 129.4L944.7 136.3L944.8 131.2L944.8 136.1L944.9 131.2L945.0 132.6L945.0 135.5L945.1 128.3L945.2 130.4L945.3 133.4L945.3 135.7L945.5 132.3L945.5 136.3L945.7 130.7L945.7 132.2L945.8 138.4L945.9 145.8L945.9 128.9L946.0 129.4L946.0 135.1L946.2 97.6L946.2 100.3L946.3 127.5L946.3 134.2L946.5 132.9L946.5 131.3L946.7 133.3L946.8 131.6L946.9 131.5L946.9 135.3L947.0 131.8L947.0 138.2L947.2 128.0L947.3 128.1L947.4 137.6L947.5 126.4L947.5 131.9L947.6 140.5L947.7 130.5L947.8 131.8L947.9 140.0L948.0 127.9L948.0 136.3L948.1 127.5L948.2 132.5L948.3 132.2L948.3 139.8L948.4 130.1L948.5 130.9L948.5 132.0L948.6 130.4L948.7 134.3L948.7 133.0L948.8 123.4L948.9 108.4L949.0 129.9L949.0 131.9L949.1 129.4L949.2 138.8L949.2 130.3L949.3 130.9L949.4 134.0L949.4 128.5L949.5 129.8L949.5 131.6L949.6 131.8L949.7 127.0L949.7 130.4L949.8 133.1L949.8 129.0L949.9 133.7L950.0 132.4L950.0 134.1L950.1 128.8L950.2 130.0L950.3 131.0L950.4 129.0L950.5 135.7L950.5 131.7L950.6 129.1L950.7 140.0L950.8 127.3L950.8 130.6L951.0 127.7L951.0 132.9L951.1 128.5L951.2 132.9L951.2 132.8L951.3 131.8L951.3 124.5L951.4 132.9L951.5 126.0L951.5 130.9L951.7 106.8L951.7 113.3L951.8 130.9L951.9 125.0L952.0 133.3" stroke="#0072bd" stroke-width="1.8" fill="none" stroke-linejoin="round" stroke-linecap="butt"/>
<g font-size="20" fill="#262626">
<text x="71.3" y="34.8" text-anchor="end">-60</text>
<text x="71.3" y="92.8" text-anchor="end">-80</text>
<text x="70.2" y="149.8" text-anchor="end">-100</text>
<text x="70.2" y="207.8" text-anchor="end">-120</text>
<text x="70.2" y="264.8" text-anchor="end">-140</text>
<text x="70.2" y="322.8" text-anchor="end">-160</text>
<text x="82.1" y="344.0" text-anchor="middle">0</text>
<text x="191.1" y="344.0" text-anchor="middle">3</text>
<text x="299.1" y="344.0" text-anchor="middle">6</text>
<text x="408.1" y="344.0" text-anchor="middle">9</text>
<text x="516.1" y="344.0" text-anchor="middle">12</text>
<text x="625.1" y="344.0" text-anchor="middle">15</text>
<text x="733.1" y="344.0" text-anchor="middle">18</text>
<text x="842.1" y="344.0" text-anchor="middle">21</text>
<text x="950.1" y="344.0" text-anchor="middle">24</text>
</g>
<path d="M84.00 428.0V714.0M193.00 428.0V714.0M301.00 428.0V714.0M410.00 428.0V714.0M518.00 428.0V714.0M627.00 428.0V714.0M735.00 428.0V714.0M844.00 428.0V714.0M952.00 428.0V714.0M84.0 428.00H952.0M84.0 500.00H952.0M84.0 571.00H952.0M84.0 643.00H952.0M84.0 714.00H952.0" stroke="#dfdfdf" stroke-width="2.0" fill="none"/>
<path d="M84.0 428.0H952.0V714.0H84.0ZM193.00 714.0v-10M193.00 428.0v10M301.00 714.0v-10M301.00 428.0v10M410.00 714.0v-10M410.00 428.0v10M518.00 714.0v-10M518.00 428.0v10M627.00 714.0v-10M627.00 428.0v10M735.00 714.0v-10M735.00 428.0v10M844.00 714.0v-10M844.00 428.0v10M84.0 500.00h10M952.0 500.00h-10M84.0 571.00h10M952.0 571.00h-10M84.0 643.00h10M952.0 643.00h-10" stroke="#262626" stroke-width="2.0" fill="none" stroke-linejoin="miter"/>
<clipPath id="c2"><rect x="83.0" y="427.0" width="870.0" height="288.0"/></clipPath>
<path clip-path="url(#c2)" d="M84.0 477.3L84.2 540.9L84.3 519.5L84.3 528.2L84.5 505.9L84.5 522.5L84.6 528.7L84.7 525.0L84.8 514.2L84.9 525.1L85.0 522.6L85.0 521.2L85.1 534.4L85.2 522.9L85.3 519.0L85.3 518.6L85.4 525.8L85.5 520.1L85.5 517.2L85.6 527.2L85.7 525.4L85.8 515.6L85.8 531.8L86.0 527.0L86.0 514.0L86.2 549.1L86.3 548.3L86.4 522.9L86.5 524.4L86.5 525.2L86.6 518.4L86.6 531.9L86.7 520.0L86.8 514.1L86.8 526.6L86.9 513.8L87.0 518.5L87.0 513.6L87.1 505.5L87.2 527.6L87.3 514.9L87.5 583.9L87.5 542.9L87.6 513.0L87.7 520.8L87.8 521.3L87.8 531.3L88.0 519.0L88.0 518.6L88.2 557.3L88.3 546.6L88.4 518.3L88.5 521.6L88.5 525.2L88.7 513.5L88.8 525.6L88.8 529.4L89.0 516.6L89.0 523.2L89.1 527.2L89.2 523.2L89.2 525.6L89.3 523.3L89.4 516.6L89.5 521.7L89.5 513.1L89.6 525.5L89.7 524.4L89.8 526.4L89.8 526.6L90.0 517.0L90.0 520.8L90.2 515.7L90.2 523.7L90.3 517.3L90.4 530.6L90.5 515.6L90.5 521.3L90.6 524.2L90.6 516.3L90.7 517.7L90.8 527.4L90.8 521.5L91.0 527.5L91.0 525.9L91.1 541.2L91.2 527.2L91.3 521.6L91.5 526.0L91.5 520.3L91.6 524.3L91.7 520.7L91.8 518.8L91.8 522.2L91.9 511.7L92.0 515.0L92.0 515.6L92.1 526.2L92.2 522.5L92.3 522.0L92.3 515.2L92.4 530.5L92.5 520.6L92.5 519.5L92.6 521.1L92.7 515.6L92.8 517.0L92.9 512.3L92.9 522.2L93.0 516.3L93.0 533.7L93.1 583.2L93.2 524.7L93.2 528.5L93.3 523.1L93.3 527.5L93.5 501.2L93.5 514.0L93.7 526.6L93.7 520.3L93.8 520.8L93.9 515.8L94.0 524.2L94.0 526.2L94.2 516.8L94.2 520.8L94.3 523.7L94.4 519.7L94.5 522.3L94.5 525.7L94.7 513.3L94.7 523.5L94.8 524.6L94.8 506.7L95.0 517.7L95.0 519.3L95.1 525.2L95.2 512.2L95.3 516.7L95.4 516.2L95.4 525.8L95.5 525.7L95.5 516.7L95.6 524.2L95.7 514.5L95.8 527.5L95.8 514.1L96.0 515.3L96.0 514.8L96.1 521.6L96.2 518.9L96.3 519.6L96.4 512.7L96.5 514.3L96.5 520.6L96.6 527.3L96.7 514.3L96.7 517.1L96.8 512.1L97.0 525.6L97.0 524.6L97.2 513.2L97.2 518.6L97.3 520.8L97.3 514.5L97.5 525.3L97.5 516.2L97.6 526.6L97.7 510.5L97.7 519.1L97.8 524.9L97.9 518.0L98.0 521.8L98.0 518.4L98.1 527.5L98.2 524.3L98.3 521.3L98.4 527.7L98.5 514.2L98.5 518.9L98.7 525.2L98.7 523.7L98.8 521.7L98.8 520.7L98.9 528.1L99.0 526.5L99.0 523.3L99.1 524.0L99.2 514.6L99.3 516.9L99.3 522.8L99.5 519.3L99.5 519.5L99.6 521.7L99.7 515.7L99.8 523.6L99.9 627.5L100.0 519.2L100.0 511.4L100.2 524.1L100.2 515.8L100.3 519.4L100.4 528.3L100.5 522.3L100.5 515.6L100.7 523.0L100.7 521.1L100.8 523.3L100.8 526.5L101.0 513.5L101.0 504.5L101.1 523.0L101.2 519.4L101.3 531.6L101.4 510.6L101.5 520.1L101.5 517.3L101.6 525.3L101.7 507.9L101.8 519.4L101.9 501.1L101.9 524.8L102.0 511.2L102.0 522.9L102.1 516.0L102.2 527.6L102.2 517.1L102.3 521.1L102.4 514.5L102.5 518.8L102.5 523.1L102.6 514.2L102.7 531.4L102.8 513.9L102.9 527.1L103.0 522.1L103.0 527.2L103.1 520.2L103.2 533.7L103.2 520.8L103.3 520.7L103.4 520.7L103.4 528.6L103.5 521.6L103.5 521.4L103.6 523.8L103.7 517.2L103.8 513.8L103.8 507.5L104.0 527.4L104.0 519.9L104.1 515.0L104.2 518.4L104.3 517.5L104.3 519.2L104.4 512.5L104.5 519.2L104.5 523.4L104.6 524.6L104.7 498.6L104.8 493.4L105.0 522.6L105.1 522.5L105.2 520.0L105.3 523.9L105.3 512.9L105.5 517.3L105.5 523.2L105.6 530.2L105.7 513.0L105.7 514.0L105.8 514.2L105.8 511.3L105.9 523.4L106.0 519.0L106.0 519.2L106.1 510.9L106.2 526.1L106.3 517.8L106.3 515.8L106.4 556.7L106.5 527.4L106.5 518.3L106.6 514.4L106.7 528.0L106.8 522.3L106.9 514.3L107.0 520.0L107.0 518.6L107.1 512.3L107.1 521.6L107.2 520.8L107.3 520.0L107.4 509.8L107.5 529.6L107.5 517.4L107.6 512.8L107.7 515.5L107.8 525.4L107.8 522.4L108.0 534.6L108.0 534.3L108.1 513.7L108.2 524.0L108.3 519.5L108.4 506.0L108.5 520.0L108.5 521.1L108.6 521.6L108.7 505.7L108.7 515.9L108.8 520.8L108.8 509.3L108.9 523.8L109.0 515.6L109.0 519.5L109.1 529.4L109.2 518.3L109.3 531.3L109.3 514.3L109.5 517.9L109.5 526.2L109.7 514.5L109.8 513.2L109.9 513.0L110.0 523.4L110.0 517.6L110.1 516.8L110.2 537.6L110.3 547.3L110.4 513.7L110.5 519.0L110.5 510.7L110.6 518.6L110.7 508.8L110.8 508.9L110.8 514.3L111.0 513.6L111.0 517.0L111.2 511.6L111.2 514.5L111.3 506.5L111.4 517.7L111.5 508.7L111.5 512.9L111.6 501.0L111.7 517.2L111.8 508.2L111.9 516.6L111.9 506.1L112.0 515.6L112.0 517.5L112.2 506.7L112.4 506.3L112.5 509.0L112.5 508.1L112.7 514.0L112.7 497.8L112.8 500.5L112.8 503.7L113.0 496.6L113.0 511.8L113.2 463.9L113.3 455.6L113.4 498.6L113.5 490.8L113.5 498.9L113.6 514.7L113.7 495.1L113.8 500.2L113.9 483.6L114.0 491.6L114.0 485.9L114.1 494.9L114.2 485.3L114.2 487.6L114.3 483.4L114.3 492.1L114.5 483.4L114.5 582.0L114.6 696.8L114.7 480.4L114.8 473.9L114.8 491.1L115.0 476.8L115.0 476.0L115.1 480.8L115.2 473.9L115.2 475.7L115.3 473.8L115.4 477.5L115.5 469.5L115.5 465.8L115.6 462.3L115.7 471.4L115.8 471.2L115.9 472.7L116.0 467.1L116.0 469.1L116.1 461.9L116.2 465.5L116.3 467.0L116.4 699.0L116.5 465.1L116.5 458.2L116.7 465.6L116.7 464.4L116.8 464.8L116.8 469.7L116.9 463.4L117.0 469.3L117.0 460.8L117.1 460.6L117.2 490.4L117.2 471.6L117.3 464.5L117.3 476.4L117.5 463.9L117.5 470.5L117.6 473.5L117.7 466.9L117.8 465.6L117.9 481.4L118.0 476.1L118.0 465.3L118.1 464.2L118.1 486.6L118.2 469.9L118.3 488.7L118.4 465.7L118.5 467.1L118.5 471.7L118.6 472.6L118.7 465.9L118.8 470.9L118.8 465.2L119.0 470.3L119.0 469.5L119.1 476.9L119.2 469.0L119.2 469.9L119.3 481.3L119.4 469.6L119.5 470.5L119.5 468.4L119.6 456.2L119.7 471.8L119.7 471.6L119.8 475.1L119.8 468.9L119.9 475.5L120.0 470.2L120.0 480.5L120.1 474.0L120.2 633.9L120.2 526.3L120.3 469.2L120.4 482.9L120.5 467.5L120.5 483.2L120.7 456.5L120.7 472.0L120.8 473.4L120.9 502.5L121.0 494.6L121.0 476.4L121.1 464.9L121.2 470.2L121.3 471.6L121.3 475.8L121.4 468.1L121.5 473.1L121.5 471.5L121.6 477.3L121.7 467.4L121.8 472.6L121.9 462.3L121.9 472.4L122.0 468.3L122.1 460.3L122.1 480.1L122.2 473.7L122.3 472.8L122.3 477.6L122.4 466.7L122.5 472.9L122.5 468.4L122.6 484.0L122.7 473.8L122.8 466.5L122.9 479.5L123.0 464.3L123.0 481.0L123.2 465.1L123.2 482.8L123.3 474.3L123.4 471.0L123.5 478.6L123.5 467.0L123.6 479.3L123.7 474.7L123.8 474.7L123.9 494.2L124.0 476.3L124.0 476.4L124.1 481.8L124.2 459.5L124.3 465.4L124.3 454.8L124.5 472.1L124.5 468.1L124.7 467.7L124.7 483.4L124.8 471.0L124.9 443.0L125.0 480.9L125.0 477.7L125.1 478.0L125.2 464.9L125.2 476.2L125.3 474.5L125.4 473.0L125.5 483.6L125.5 475.6L125.6 478.0L125.7 465.0L125.8 474.5L125.8 484.3L125.9 474.0L126.0 483.3L126.0 481.8L126.1 473.0L126.2 488.3L126.2 480.2L126.3 467.0L126.4 488.7L126.5 478.6L126.5 477.5L126.7 446.8L126.7 447.8L126.8 474.5L126.9 484.6L127.0 474.5L127.0 471.9L127.2 487.4L127.2 478.7L127.3 474.7L127.3 480.6L127.5 475.9L127.5 484.3L127.6 489.9L127.7 476.9L127.7 487.4L127.8 477.4L128.0 484.3L128.0 487.4L128.1 479.7L128.2 496.6L128.3 481.1L128.3 485.4L128.5 481.4L128.5 482.4L128.7 493.8L128.8 541.6L128.8 611.8L129.0 488.7L129.0 492.3L129.2 479.3L129.2 486.3L129.3 469.0L129.4 491.9L129.5 485.1L129.5 480.0L129.6 485.9L129.6 479.2L129.7 481.7L129.8 485.5L129.9 512.0L130.0 508.4L130.0 486.6L130.1 473.4L130.2 494.2L130.2 479.2L130.3 486.4L130.4 478.6L130.4 491.7L130.5 486.0L130.5 476.5L130.6 471.3L130.7 488.3L130.8 485.2L130.9 486.7L130.9 481.6L131.0 484.0L131.0 480.1L131.2 495.1L131.3 488.3L131.4 443.7L131.5 492.8L131.5 488.3L131.6 481.9L131.7 488.5L131.8 487.8L131.9 486.4L131.9 492.9L132.0 487.9L132.0 489.9L132.1 485.8L132.2 506.0L132.3 490.5L132.4 481.9L132.5 482.1L132.5 482.1L132.6 481.3L132.7 490.9L132.8 503.4L132.9 483.7L133.0 484.9L133.0 485.2L133.1 491.6L133.2 467.5L133.2 486.2L133.3 493.7L133.5 478.1L133.5 485.2L133.6 490.9L133.7 489.5L133.8 489.3L133.9 483.0L134.0 483.9L134.0 484.2L134.2 481.2L134.2 495.1L134.3 486.6L134.4 485.4L134.5 493.5L134.5 489.6L134.6 485.2L134.7 494.9L134.7 492.2L134.8 483.1L134.8 488.6L135.0 484.6L135.0 489.0L135.2 493.4L135.2 469.4L135.3 459.8L135.3 457.6L135.5 492.8L135.5 493.1L135.6 486.3L135.7 496.9L135.7 491.5L135.8 500.1L135.9 486.1L136.0 486.1L136.0 491.5L136.1 493.9L136.2 488.9L136.2 493.3L136.3 492.1L136.4 484.7L136.4 494.6L136.5 487.4L136.5 497.6L136.6 489.8L136.7 497.9L136.7 497.0L136.8 494.1L136.8 497.6L137.0 488.6L137.0 490.3L137.1 481.8L137.2 499.6L137.2 489.5L137.3 486.2L137.3 489.1L137.5 477.4L137.5 476.4L137.6 474.7L137.6 499.7L137.7 494.3L137.8 487.8L137.9 498.9L138.0 492.3L138.0 489.6L138.1 486.8L138.2 493.3L138.2 486.9L138.3 492.7L138.4 497.1L138.5 488.2L138.5 468.7L138.6 493.8L138.7 491.2L138.8 492.4L138.9 498.9L139.0 488.1L139.0 496.5L139.1 493.1L139.2 496.2L139.3 493.1L139.4 491.7L139.4 495.5L139.5 492.0L139.5 485.9L139.6 494.5L139.7 491.5L139.8 517.2L139.9 487.3L140.0 492.8L140.0 493.7L140.1 496.8L140.1 490.4L140.2 495.6L140.3 491.9L140.4 491.4L140.5 499.4L140.5 496.0L140.6 479.0L140.7 499.8L140.7 499.0L140.8 496.7L140.9 490.6L140.9 499.3L141.0 494.5L141.0 501.0L141.1 682.5L141.2 491.6L141.3 490.5L141.3 497.6L141.5 478.6L141.5 479.7L141.7 503.7L141.8 490.6L142.0 502.7L142.0 489.9L142.2 513.7L142.2 488.5L142.3 516.8L142.4 492.3L142.5 498.5L142.5 499.4L142.7 503.5L142.7 493.7L142.8 503.5L142.8 496.5L143.0 497.0L143.0 502.3L143.2 495.1L143.2 506.9L143.3 493.9L143.5 498.0L143.5 501.3L143.6 491.9L143.7 498.2L143.8 496.7L143.8 497.7L144.0 492.8L144.0 491.1L144.2 499.0L144.2 490.0L144.3 497.8L144.3 501.9L144.4 490.7L144.5 496.2L144.5 495.1L144.6 488.3L144.7 501.1L144.7 491.3L144.8 485.7L145.0 502.0L145.0 495.7L145.1 501.3L145.2 499.6L145.3 505.5L145.4 498.1L145.5 501.5L145.5 491.4L145.6 496.0L145.7 493.0L145.8 508.0L145.9 488.5L146.0 494.6L146.0 491.8L146.2 664.0L146.3 538.5L146.5 484.8L146.5 485.5L146.7 497.9L146.7 497.1L146.8 487.8L146.9 500.6L147.0 497.3L147.0 493.0L147.1 502.7L147.2 496.4L147.3 495.0L147.4 505.9L147.5 502.5L147.5 504.9L147.6 505.1L147.6 497.0L147.7 504.9L147.8 496.6L147.9 491.9L147.9 496.9L148.0 492.4L148.0 487.0L148.1 507.7L148.2 503.5L148.3 499.2L148.4 506.9L148.4 495.9L148.5 497.5L148.5 499.5L148.7 528.5L148.7 523.7L148.8 522.8L148.9 494.9L149.0 497.4L149.0 495.1L149.1 505.0L149.2 493.9L149.2 499.9L149.3 505.9L149.4 495.3L149.5 503.7L149.5 499.8L149.6 498.2L149.7 507.8L149.8 500.8L149.8 505.6L149.9 496.9L150.0 504.3L150.0 499.8L150.1 497.5L150.2 508.1L150.2 500.9L150.3 498.2L150.4 524.3L150.5 496.6L150.5 498.0L150.6 505.5L150.7 499.1L150.8 490.3L150.9 504.1L151.0 494.6L151.0 499.9L151.1 499.2L151.2 533.9L151.3 581.7L151.4 500.8L151.5 503.5L151.5 499.3L151.6 504.0L151.7 496.4L151.8 494.8L151.8 515.4L152.0 464.5L152.0 461.7L152.2 500.6L152.3 497.2L152.4 498.1L152.4 494.4L152.5 495.0L152.5 501.3L152.6 486.0L152.7 504.9L152.8 499.1L152.8 505.8L152.9 497.1L153.0 499.8L153.0 502.5L153.1 506.8L153.2 501.8L153.2 502.6L153.3 497.3L153.3 510.7L153.5 500.9L153.5 506.6L153.7 499.3L153.7 503.9L153.8 499.7L153.8 514.6L154.0 499.5L154.0 522.7L154.1 495.9L154.2 514.6L154.3 516.2L154.4 492.5L154.5 503.5L154.6 456.3L154.7 504.6L154.7 495.7L154.8 498.9L154.9 628.9L155.0 525.0L155.0 506.3L155.2 500.8L155.2 505.7L155.3 504.4L155.3 507.3L155.4 500.0L155.5 503.5L155.5 504.5L155.6 507.0L155.6 500.6L155.7 506.0L155.8 505.3L155.8 500.0L155.9 507.7L156.0 504.4L156.0 504.7L156.2 495.0L156.2 502.0L156.3 500.7L156.3 504.8L156.5 498.4L156.5 508.2L156.7 501.3L156.8 505.7L156.8 499.8L156.9 506.3L157.0 502.3L157.0 504.0L157.2 500.5L157.2 503.5L157.3 506.8L157.3 500.6L157.4 506.9L157.5 506.0L157.5 504.1L157.7 487.6L157.8 481.2L157.8 480.1L158.0 512.6L158.0 505.4L158.1 509.4L158.2 493.7L158.3 503.5L158.3 497.7L158.5 511.2L158.5 501.7L158.6 507.1L158.7 488.7L158.8 498.2L159.0 507.6L159.0 504.9L159.1 508.8L159.1 501.5L159.2 507.5L159.3 501.4L159.4 497.1L159.5 528.0L159.5 503.1L159.6 507.5L159.6 498.8L159.7 504.1L159.8 499.3L159.9 497.4L159.9 520.3L160.0 500.4L160.0 504.3L160.2 482.8L160.2 511.5L160.3 505.4L160.3 509.4L160.5 496.8L160.5 494.9L160.7 501.4L160.7 495.2L160.8 499.8L160.9 497.8L161.0 506.3L161.0 510.9L161.1 512.8L161.2 501.0L161.2 506.8L161.3 508.1L161.4 495.7L161.5 501.1L161.5 506.2L161.6 498.8L161.7 507.1L161.7 504.8L161.8 507.9L161.8 498.1L162.0 508.1L162.0 504.7L162.1 497.0L162.2 499.2L162.3 499.4L162.4 497.1L162.5 509.9L162.5 497.1L162.6 506.7L162.7 504.8L162.8 493.2L162.9 505.3L163.0 501.9L163.0 502.7L163.2 524.8L163.3 533.6L163.3 534.5L163.5 503.0L163.5 511.4L163.6 496.8L163.7 508.9L163.8 498.5L163.8 525.5L164.0 499.4L164.0 501.3L164.1 497.3L164.2 506.2L164.2 503.9L164.3 503.2L164.4 499.9L164.5 523.7L164.5 502.4L164.6 497.2L164.7 504.6L164.8 503.8L164.8 506.9L165.0 500.3L165.0 492.9L165.1 504.3L165.2 499.0L165.3 504.5L165.4 483.8L165.5 498.5L165.5 503.0L165.6 491.7L165.7 510.9L165.7 506.7L165.8 499.8L165.9 487.9L166.0 504.3L166.0 503.5L166.1 626.8L166.2 501.8L166.3 503.1L166.4 507.7L166.5 501.3L166.6 503.1L166.7 505.5L166.8 493.5L166.9 502.5L167.0 502.1L167.0 505.8L167.1 497.4L167.1 506.9L167.2 498.8L167.3 496.4L167.5 502.8L167.5 499.7L167.6 494.2L167.7 501.4L167.8 496.4L167.9 506.4L168.0 484.0L168.0 503.4L168.1 495.7L168.1 505.5L168.2 499.6L168.3 494.4L168.5 502.9L168.5 503.6L168.6 584.6L168.7 504.0L168.8 496.8L168.8 493.2L169.0 507.2L169.0 492.9L169.1 479.7L169.2 494.9L169.3 510.6L169.5 486.3L169.5 501.2L169.7 496.8L169.7 504.4L169.8 504.6L169.8 495.9L169.9 507.1L170.0 507.0L170.0 497.8L170.1 506.7L170.2 497.1L170.2 505.7L170.3 500.6L170.5 524.5L170.5 505.6L170.6 521.9L170.7 499.5L170.7 505.0L170.8 506.1L170.8 506.6L170.9 500.9L171.0 505.4L171.0 500.5L171.1 498.4L171.2 506.5L171.3 511.7L171.3 519.3L171.5 473.5L171.5 479.3L171.7 505.1L171.7 497.3L171.8 503.2L171.9 496.3L172.0 501.0L172.0 502.4L172.2 525.7L172.2 507.5L172.3 508.0L172.5 496.7L172.5 503.5L172.6 506.4L172.6 483.6L172.7 505.0L172.8 498.3L172.9 512.3L173.0 504.2L173.0 505.2L173.2 508.1L173.2 501.6L173.3 504.6L173.3 500.1L173.4 508.7L173.5 507.3L173.5 510.8L173.6 502.7L173.7 505.5L173.8 504.5L173.9 498.4L173.9 510.5L174.0 500.2L174.0 503.3L174.1 499.7L174.2 505.0L174.3 498.9L174.4 488.1L174.5 496.4L174.5 498.8L174.6 498.6L174.7 525.6L174.8 508.0L174.9 501.1L175.0 506.4L175.0 503.9L175.2 534.9L175.2 503.2L175.3 504.6L175.5 618.9L175.5 539.4L175.6 506.3L175.7 509.5L175.8 503.5L175.9 498.2L176.0 509.3L176.0 511.1L176.1 501.7L176.2 503.3L176.3 507.3L176.3 499.4L176.5 504.7L176.5 509.3L176.7 504.0L176.8 501.6L176.9 491.6L177.0 498.2L177.0 506.6L177.1 510.0L177.2 499.8L177.2 506.9L177.3 497.8L177.5 507.3L177.5 503.3L177.6 500.9L177.7 507.7L177.7 507.4L177.8 503.1L177.9 523.6L178.0 501.0L178.0 506.5L178.1 492.3L178.1 510.7L178.2 501.2L178.3 503.8L178.3 501.7L178.4 511.8L178.5 502.7L178.5 499.0L178.6 516.0L178.7 496.5L178.7 502.9L178.8 501.4L178.9 504.4L178.9 494.5L179.0 497.5L179.0 502.2L179.1 502.9L179.2 482.2L179.2 498.7L179.3 497.1L179.4 491.8L179.5 497.4L179.5 498.9L179.6 502.5L179.7 482.2L179.7 501.9L179.8 496.1L179.9 446.6L180.0 490.0L180.0 492.1L180.1 487.3L180.2 570.3L180.3 517.2L180.4 495.0L180.5 498.9L180.5 498.7L180.6 504.4L180.7 503.8L180.8 497.3L180.9 504.5L180.9 496.6L181.0 499.3L181.0 495.7L181.1 498.5L181.1 491.2L181.2 494.4L181.3 495.2L181.3 482.1L181.4 512.0L181.5 489.4L181.5 490.2L181.6 487.3L181.7 493.3L181.8 498.9L181.9 491.6L182.0 492.4L182.0 491.0L182.1 498.0L182.2 486.1L182.3 476.9L182.5 495.3L182.5 486.3L182.6 496.4L182.7 483.6L182.7 488.6L182.8 494.0L182.8 482.9L183.0 499.8L183.0 491.0L183.1 494.4L183.2 487.1L183.2 491.7L183.3 493.6L183.4 498.0L183.4 484.9L183.5 485.0L183.5 494.2L183.6 488.8L183.7 492.0L183.8 491.3L183.9 488.7L184.0 496.0L184.0 484.4L184.1 484.4L184.1 493.6L184.2 492.1L184.3 495.0L184.3 498.7L184.4 483.0L184.5 488.7L184.5 497.3L184.7 488.3L184.7 490.1L184.8 491.2L184.9 496.7L185.0 487.2L185.0 509.0L185.2 488.0L185.3 494.0L185.3 491.2L185.5 494.6L185.5 507.0L185.6 521.5L185.7 518.1L185.8 498.9L185.9 491.9L186.0 493.3L186.0 496.0L186.2 504.6L186.2 492.3L186.3 556.0L186.3 692.5L186.5 488.6L186.5 492.8L186.6 503.6L186.7 490.0L186.8 495.4L187.0 488.2L187.0 478.4L187.2 495.0L187.3 481.5L187.5 492.8L187.5 496.3L187.6 486.4L187.7 492.0L187.8 491.4L187.9 519.4L188.0 511.3L188.0 497.1L188.1 491.2L188.2 496.6L188.3 495.9L188.3 501.0L188.5 493.3L188.5 490.9L188.6 483.8L188.6 493.1L188.7 492.8L188.8 479.3L188.8 496.9L189.0 496.5L189.0 498.1L189.2 491.6L189.3 492.8L189.4 489.0L189.5 496.7L189.5 491.1L189.7 502.0L189.8 491.6L189.9 490.1L190.0 556.7L190.0 504.3L190.2 492.3L190.2 492.4L190.3 491.9L190.4 490.6L190.5 497.1L190.7 489.2L190.7 501.8L190.8 501.6L191.0 487.0L191.0 495.3L191.1 498.9L191.2 472.4L191.3 481.8L191.5 494.4L191.5 493.1L191.6 495.8L191.7 489.8L191.8 486.6L191.8 479.9L192.0 496.9L192.0 491.4L192.2 499.0L192.2 495.2L192.3 492.5L192.3 499.3L192.4 488.9L192.5 494.6L192.5 488.4L192.7 518.0L192.8 491.8L193.0 500.4L193.0 494.7L193.1 499.6L193.1 489.2L193.2 498.1L193.3 502.6L193.5 472.8L193.5 467.2L193.6 492.8L193.7 490.9L193.8 496.5L193.9 491.4L193.9 511.3L194.0 501.7L194.0 497.0L194.2 489.7L194.2 504.6L194.3 494.0L194.4 493.7L194.5 499.0L194.5 497.3L194.6 474.3L194.7 518.2L194.7 491.0L194.8 499.9L194.8 483.0L195.0 561.6L195.0 696.1L195.2 485.9L195.2 503.7L195.3 494.0L195.3 493.6L195.4 498.9L195.5 494.5L195.5 501.8L195.6 481.4L195.7 501.2L195.8 474.4L195.9 500.6L196.0 500.3L196.0 495.4L196.1 503.2L196.2 477.2L196.2 497.0L196.3 498.4L196.3 493.4L196.4 503.4L196.5 495.1L196.5 492.4L196.6 492.3L196.7 503.2L196.8 495.6L196.9 494.2L197.0 502.0L197.0 499.4L197.1 505.9L197.2 497.7L197.3 507.6L197.5 494.4L197.5 498.2L197.6 505.9L197.7 494.0L197.7 499.3L197.8 512.2L198.0 500.4L198.0 502.1L198.2 497.0L198.2 499.7L198.3 496.3L198.3 494.8L198.4 503.4L198.5 496.1L198.5 497.6L198.7 679.0L198.7 558.0L198.8 497.2L199.0 494.4L199.0 495.3L199.2 504.4L199.2 498.7L199.3 498.9L199.4 506.6L199.5 502.7L199.5 505.7L199.6 497.8L199.7 498.4L199.8 504.6L199.9 496.8L200.0 502.7L200.0 496.8L200.2 492.1L200.2 505.9L200.3 501.1L200.4 507.0L200.4 500.7L200.5 501.4L200.5 498.1L200.6 503.8L200.6 495.0L200.7 495.5L200.8 496.8L200.9 507.1L201.0 491.2L201.0 502.7L201.1 508.4L201.2 497.6L201.3 506.8L201.4 511.1L201.4 498.4L201.5 500.9L201.5 497.9L201.7 505.1L201.7 504.4L201.8 505.3L202.0 467.9L202.0 465.2L202.2 502.4L202.2 502.2L202.3 482.4L202.5 504.3L202.5 504.2L202.6 497.9L202.6 504.5L202.7 501.5L202.8 503.0L202.9 500.8L202.9 509.5L203.0 508.3L203.0 501.8L203.1 508.1L203.2 498.8L203.3 495.4L203.4 505.5L203.5 502.9L203.5 495.3L203.6 508.7L203.7 506.0L203.8 500.8L203.9 511.0L204.0 508.5L204.0 501.4L204.2 515.0L204.3 514.5L204.5 503.9L204.5 503.0L204.7 508.5L204.8 510.9L204.8 504.4L205.0 514.5L205.0 496.5L205.1 512.4L205.2 507.5L205.3 504.1L205.4 528.9L205.5 493.1L205.5 509.9L205.6 516.5L205.7 507.0L205.7 509.4L205.8 513.1L206.0 507.8L206.0 512.3L206.1 489.4L206.2 540.8L206.3 510.2L206.4 506.4L206.5 511.7L206.5 501.2L206.6 513.4L206.7 510.3L206.8 508.3L206.8 504.8L206.9 516.3L207.0 510.9L207.0 500.2L207.2 513.5L207.2 508.8L207.3 512.0L207.4 520.6L207.5 474.6L207.5 462.8L207.6 460.8L207.7 507.0L207.8 505.2L207.8 502.8L208.0 514.6L208.0 508.7L208.1 511.7L208.2 499.6L208.3 515.0L208.4 516.4L208.4 505.8L208.5 509.1L208.5 509.9L208.6 515.6L208.6 499.2L208.7 510.9L208.8 498.0L208.9 516.2L209.0 504.9L209.0 505.2L209.1 513.8L209.2 510.9L209.3 516.4L209.5 504.6L209.5 511.7L209.7 508.5L209.7 515.4L209.8 509.0L209.9 523.7L210.0 522.8L210.0 516.4L210.1 505.5L210.2 511.1L210.3 513.3L210.4 504.8L210.5 505.2L210.5 522.8L210.6 507.3L210.7 514.1L210.8 498.9L210.9 511.6L211.0 510.2L211.0 507.2L211.2 513.5L211.2 503.2L211.3 514.3L211.4 515.8L211.5 504.0L211.5 519.1L211.6 526.7L211.7 507.9L211.8 518.6L211.8 511.4L212.0 514.3L212.0 517.3L212.2 523.6L212.2 506.8L212.3 518.9L212.4 515.0L212.5 521.8L212.5 513.1L212.6 518.7L212.7 508.8L212.8 528.7L212.9 533.7L213.0 527.7L213.0 517.9L213.1 500.5L213.2 513.7L213.3 513.2L213.4 514.1L213.4 510.5L213.5 513.7L213.5 512.4L213.6 517.1L213.7 506.6L213.8 508.9L214.0 518.8L214.0 509.8L214.1 507.2L214.2 519.2L214.3 508.9L214.3 504.6L214.5 519.5L214.5 512.5L214.7 516.5L214.7 503.9L214.8 510.7L214.9 570.3L215.0 533.0L215.0 513.7L215.1 520.8L215.2 504.7L215.2 517.3L215.3 519.2L215.3 499.2L215.5 518.9L215.5 513.9L215.6 505.4L215.7 532.0L215.8 513.4L215.9 517.4L216.0 513.7L216.0 524.1L216.2 510.1L216.2 521.2L216.3 512.6L216.4 450.2L216.5 520.0L216.5 515.7L216.6 523.3L216.7 512.3L216.7 519.5L216.8 513.5L216.9 519.7L217.0 513.9L217.0 517.4L217.1 497.0L217.1 541.6L217.2 512.6L217.3 522.2L217.3 525.4L217.4 518.0L217.5 522.9L217.5 531.3L217.6 516.0L217.7 519.9L217.8 523.2L217.8 525.0L217.9 511.9L218.0 513.4L218.0 516.6L218.1 513.8L218.2 521.4L218.3 524.4L218.4 525.8L218.4 516.5L218.5 525.2L218.5 522.8L218.7 476.8L218.8 478.2L218.9 525.4L219.0 512.4L219.0 515.6L219.2 522.3L219.3 524.4L219.4 502.4L219.5 523.3L219.5 520.5L219.6 518.2L219.7 532.5L219.7 522.9L219.8 520.6L219.9 529.3L220.0 518.2L220.0 520.3L220.1 533.1L220.2 519.9L220.2 523.3L220.3 522.5L220.3 519.1L220.4 525.4L220.5 523.6L220.5 518.8L220.6 527.2L220.7 502.0L220.7 505.7L220.8 514.9L220.8 528.8L221.0 513.3L221.0 513.8L221.2 522.2L221.3 520.5L221.5 623.9L221.5 539.6L221.6 514.5L221.7 524.3L221.8 525.5L221.8 515.5L222.0 521.4L222.0 526.4L222.1 527.2L222.2 522.1L222.3 522.5L222.4 515.7L222.5 529.9L222.5 513.9L222.7 526.4L222.8 520.7L222.9 524.0L222.9 501.5L223.0 520.9L223.0 525.7L223.1 529.9L223.1 520.8L223.2 525.3L223.3 527.2L223.4 532.6L223.4 521.3L223.5 524.6L223.5 521.7L223.6 517.1L223.6 532.0L223.7 521.4L223.8 519.2L224.0 530.8L224.0 520.3L224.2 534.4L224.3 534.5L224.4 519.5L224.5 529.3L224.5 537.3L224.6 519.8L224.7 522.3L224.8 522.4L224.9 529.0L225.0 526.5L225.0 527.9L225.1 520.1L225.2 531.7L225.2 527.5L225.3 526.3L225.4 522.9L225.5 529.2L225.5 520.0L225.6 518.7L225.7 530.6L225.7 526.2L225.8 522.6L225.9 529.9L226.0 526.8L226.0 523.8L226.1 626.8L226.2 528.8L226.3 532.9L226.4 534.0L226.5 521.2L226.5 515.6L226.7 548.3L226.7 529.5L226.8 529.6L226.9 526.1L226.9 533.9L227.0 526.6L227.0 528.9L227.1 529.3L227.1 519.0L227.2 522.2L227.3 528.1L227.3 533.0L227.5 523.5L227.5 522.5L227.6 531.9L227.7 521.5L227.7 526.3L227.8 523.0L227.9 532.0L228.0 523.8L228.0 527.2L228.1 532.7L228.2 514.4L228.3 531.1L228.4 522.0L228.5 553.4L228.5 530.0L228.6 516.4L228.7 530.1L228.8 524.8L228.8 536.2L229.0 530.4L229.0 531.4L229.1 524.2L229.2 530.5L229.3 523.3L229.3 539.5L229.4 522.2L229.5 522.7L229.5 528.2L229.6 533.8L229.7 521.8L229.8 524.0L229.9 515.8L230.0 521.0L230.0 533.9L230.1 534.1L230.2 527.0L230.3 528.1L230.3 533.4L230.4 525.0L230.5 534.5L230.7 529.3L230.7 537.0L230.8 531.2L230.9 538.7L231.0 521.4L231.0 529.1L231.1 526.2L231.2 556.9L231.3 537.7L231.3 528.2L231.5 535.8L231.5 533.2L231.6 527.3L231.7 542.8L231.8 527.2L231.9 549.4L232.0 548.5L232.0 548.8L232.2 505.4L232.3 468.8L232.4 535.9L232.5 531.2L232.5 528.8L232.6 528.1L232.6 541.3L232.7 528.5L232.8 534.1L232.9 530.6L232.9 542.3L233.0 534.6L233.0 521.2L233.2 535.3L233.3 538.7L233.3 521.2L233.5 530.6L233.5 528.5L233.6 522.2L233.7 532.9L233.7 532.0L233.8 534.1L233.9 524.4L234.0 524.9L234.0 529.4L234.1 537.0L234.2 528.6L234.3 529.4L234.3 523.0L234.4 541.4L234.5 533.8L234.5 533.0L234.6 533.8L234.7 529.8L234.8 534.5L234.9 523.4L235.0 523.7L235.0 523.4L235.2 537.5L235.2 517.6L235.3 539.8L235.3 530.2L235.4 547.4L235.5 540.8L235.5 539.6L235.6 531.2L235.7 532.7L235.8 532.2L236.0 542.9L236.0 538.2L236.1 535.0L236.1 556.6L236.2 553.6L236.3 592.5L236.4 524.5L236.5 538.5L236.5 531.6L236.6 537.7L236.7 516.0L236.7 533.5L236.8 531.9L236.8 537.9L236.9 525.9L237.0 530.7L237.0 525.4L237.1 542.0L237.2 539.9L237.3 536.9L237.4 506.9L237.5 516.8L237.5 493.7L237.6 491.2L237.7 538.5L237.8 532.1L237.8 500.7L237.9 541.8L238.0 525.9L238.0 532.9L238.1 540.4L238.2 537.5L238.3 532.3L238.3 543.1L238.5 537.6L238.5 534.6L238.6 536.7L238.7 520.4L238.8 536.4L238.8 546.7L238.9 533.4L239.0 535.2L239.0 537.6L239.1 534.6L239.2 539.6L239.3 536.2L239.4 530.6L239.4 542.8L239.5 539.0L239.5 533.0L239.6 540.5L239.6 532.5L239.7 533.8L239.8 537.9L239.9 530.0L240.0 550.2L240.0 542.5L240.2 530.9L240.3 534.9L240.4 557.4L240.5 532.2L240.5 535.7L240.7 539.8L240.7 522.6L240.8 520.5L241.0 534.9L241.0 538.7L241.1 532.8L241.2 549.1L241.2 538.3L241.3 541.8L241.4 535.3L241.5 540.6L241.5 540.4L241.6 533.7L241.7 552.8L241.8 547.7L242.0 535.3L242.0 542.2L242.1 550.1L242.2 535.6L242.3 544.7L242.4 517.7L242.5 544.7L242.5 548.6L242.6 553.2L242.7 521.9L242.8 521.0L242.9 557.0L243.0 543.1L243.0 537.8L243.1 537.5L243.2 546.3L243.2 540.3L243.3 537.6L243.3 547.7L243.5 539.4L243.5 538.4L243.6 546.1L243.7 541.5L243.8 537.0L243.9 535.5L244.0 541.8L244.0 540.7L244.2 550.3L244.3 541.1L244.3 545.5L244.4 536.2L244.5 540.9L244.5 532.3L244.6 553.7L244.6 530.3L244.7 541.7L244.8 548.4L244.8 549.0L244.9 538.7L245.0 546.9L245.0 533.4L245.1 529.7L245.2 551.8L245.3 537.8L245.4 528.3L245.5 540.9L245.5 540.5L245.6 537.7L245.8 544.0L245.9 541.8L246.0 546.8L246.0 543.2L246.1 562.9L246.1 537.2L246.2 537.2L246.3 559.3L246.4 560.3L246.5 555.1L246.5 548.9L246.7 555.3L246.7 542.1L246.8 548.4L246.9 450.2L247.0 528.2L247.0 549.7L247.1 541.4L247.2 582.4L247.3 690.4L247.5 535.6L247.5 539.3L247.6 554.4L247.7 530.6L247.8 539.4L247.9 538.5L248.0 549.3L248.0 553.8L248.2 538.2L248.2 538.2L248.3 541.0L248.3 538.7L248.4 552.2L248.5 551.1L248.5 560.0L248.7 496.9L248.8 497.6L249.0 547.8L249.0 538.9L249.2 551.8L249.2 546.8L249.3 538.0L249.4 557.0L249.5 544.5L249.5 550.0L249.6 554.6L249.7 534.3L249.8 537.0L249.8 552.7L250.0 532.0L250.0 530.6L250.1 557.9L250.2 547.1L250.3 545.2L250.3 539.9L250.4 556.2L250.5 545.3L250.5 549.4L250.6 544.5L250.6 557.2L250.7 551.2L250.8 546.6L251.0 555.5L251.0 545.7L251.2 549.7L251.2 547.1L251.3 556.1L251.5 542.6L251.5 546.1L251.6 544.6L251.7 556.5L251.7 550.8L251.8 583.5L251.8 547.8L252.0 553.3L252.0 544.5L252.1 549.4L252.2 549.0L252.3 526.5L252.4 519.0L252.5 531.6L252.5 573.9L252.6 603.9L252.7 548.2L252.8 546.8L252.9 555.5L253.0 543.2L253.0 559.1L253.2 543.8L253.2 558.7L253.3 551.1L253.4 550.3L253.5 557.6L253.5 546.8L253.6 546.4L253.7 555.4L253.7 550.0L253.8 547.7L253.8 524.2L253.9 554.3L254.0 545.6L254.0 553.3L254.1 521.6L254.2 539.0L254.3 546.6L254.3 556.9L254.5 548.6L254.5 550.3L254.7 548.6L254.7 559.0L254.8 551.0L254.8 524.6L255.0 555.2L255.0 555.0L255.2 560.5L255.2 552.2L255.3 550.2L255.4 549.1L255.5 556.2L255.5 556.1L255.6 543.6L255.7 556.8L255.8 549.7L256.0 565.0L256.0 556.1L256.2 565.9L256.2 553.3L256.3 555.9L256.3 558.5L256.4 530.7L256.5 551.7L256.5 544.9L256.7 559.1L256.8 552.2L256.9 554.9L257.0 543.3L257.0 557.8L257.2 541.2L257.3 558.1L257.4 515.4L257.5 515.8L257.5 576.4L257.6 699.0L257.7 545.2L257.7 551.0L257.8 557.0L257.9 550.9L257.9 560.3L258.0 553.4L258.0 563.8L258.2 551.3L258.3 556.5L258.4 532.8L258.4 563.9L258.5 557.9L258.5 558.2L258.6 552.2L258.7 557.2L258.8 553.3L258.9 577.1L259.0 550.9L259.0 556.0L259.1 558.8L259.1 551.0L259.2 555.0L259.3 562.4L259.3 580.4L259.4 551.4L259.5 555.7L259.5 568.1L259.7 553.9L259.7 554.7L259.8 562.7L259.9 546.1L260.0 552.4L260.0 568.6L260.1 557.3L260.2 563.2L260.3 563.1L260.4 569.2L260.4 554.7L260.5 554.7L260.5 556.7L260.6 556.6L260.6 566.6L260.7 559.5L260.8 568.0L260.9 576.8L260.9 561.2L261.0 568.4L261.0 559.6L261.2 548.2L261.2 560.4L261.3 568.2L261.3 550.9L261.5 558.1L261.5 556.6L261.6 573.8L261.6 551.8L261.7 565.1L261.8 558.1L261.8 573.7L262.0 555.0L262.0 554.5L262.1 565.5L262.2 553.7L262.3 572.6L262.4 554.4L262.5 563.2L262.5 562.0L262.6 554.0L262.6 571.7L262.7 558.0L262.8 559.4L262.9 556.7L263.0 560.7L263.1 539.9L263.2 539.0L263.3 540.2L263.4 573.5L263.5 565.1L263.5 567.7L263.6 568.2L263.7 517.7L263.8 448.7L264.0 586.0L264.0 562.2L264.2 567.5L264.2 565.0L264.3 560.4L264.3 551.7L264.4 564.2L264.5 559.3L264.5 553.9L264.7 561.6L264.7 558.1L264.8 560.8L264.8 560.9L264.9 553.4L265.0 559.7L265.0 568.1L265.2 552.1L265.3 565.6L265.3 554.7L265.5 590.2L265.5 591.1L265.7 550.7L265.7 559.4L265.8 551.7L265.9 564.7L266.0 557.6L266.0 561.6L266.1 557.5L266.2 620.0L266.3 691.1L266.5 556.2L266.5 552.5L266.7 570.4L266.8 567.7L266.9 563.9L266.9 594.9L267.0 565.2L267.0 563.2L267.1 564.6L267.2 556.4L267.2 564.1L267.3 558.9L267.4 473.8L267.5 565.1L267.5 568.5L267.7 551.8L267.7 565.3L267.8 562.8L267.9 578.0L267.9 560.3L268.0 565.3L268.0 557.7L268.1 557.0L268.1 566.0L268.2 557.4L268.3 564.8L268.3 555.2L268.4 565.0L268.5 558.8L268.5 559.4L268.6 565.6L268.7 561.3L268.8 541.0L268.9 538.2L269.0 541.3L269.0 563.2L269.1 592.4L269.2 556.9L269.2 559.8L269.3 549.6L269.4 559.2L269.5 544.1L269.5 574.2L269.6 556.7L269.7 600.8L269.8 563.9L269.8 567.3L270.0 559.7L270.0 551.0L270.1 570.4L270.2 560.9L270.3 573.5L270.4 559.3L270.5 564.6L270.5 564.3L270.6 565.8L270.7 552.8L270.8 549.9L270.8 549.9L271.0 556.8L271.0 560.8L271.1 556.0L271.2 574.8L271.2 562.0L271.3 566.4L271.3 570.4L271.4 558.6L271.5 565.0L271.5 561.1L271.6 557.6L271.7 572.6L271.8 561.1L271.9 579.0L271.9 559.4L272.0 570.9L272.0 563.3L272.1 559.3L272.2 570.6L272.3 571.8L272.3 548.5L272.4 583.5L272.5 563.1L272.5 569.1L272.7 571.3L272.7 563.4L272.8 581.8L272.9 558.0L273.0 558.2L273.0 568.0L273.1 567.5L273.2 592.0L273.3 576.3L273.5 554.8L273.5 576.3L273.7 560.7L273.8 570.7L273.9 561.0L274.0 586.8L274.0 563.0L274.1 580.7L274.2 564.0L274.3 565.9L274.5 599.5L274.5 599.8L274.7 566.0L274.8 556.0L275.0 689.0L275.0 599.4L275.1 568.6L275.2 577.5L275.3 555.9L275.4 578.7L275.5 571.2L275.5 572.9L275.6 562.3L275.7 583.4L275.7 571.1L275.8 568.8L275.8 566.4L275.9 580.7L276.0 576.7L276.0 567.1L276.1 570.4L276.2 565.2L276.3 595.3L276.4 455.2L276.5 550.3L276.5 575.1L276.6 561.7L276.7 581.8L276.8 582.7L276.8 582.7L277.0 570.4L277.0 559.9L277.2 572.9L277.2 565.8L277.3 579.6L277.4 561.2L277.5 583.2L277.5 583.9L277.7 568.2L277.8 565.1L278.0 574.9L278.0 574.0L278.1 565.3L278.2 585.5L278.2 585.2L278.3 558.4L278.4 580.1L278.5 569.8L278.5 565.8L278.6 579.1L278.7 568.8L278.8 576.1L278.8 606.7L278.9 555.0L279.0 569.3L279.0 577.4L279.1 543.4L279.2 678.2L279.3 580.8L279.4 568.7L279.4 591.8L279.5 575.0L279.5 574.3L279.6 565.8L279.7 585.7L279.8 563.7L280.0 627.2L280.0 696.1L280.2 575.9L280.3 578.3L280.3 590.0L280.4 568.9L280.5 574.5L280.5 584.0L280.7 589.2L280.7 511.2L280.8 574.5L280.8 592.8L280.9 539.6L281.0 576.4L281.0 587.4L281.1 594.1L281.2 567.3L281.3 565.2L281.3 492.7L281.4 613.0L281.5 571.9L281.5 582.9L281.6 568.7L281.7 578.4L281.8 572.5L281.9 579.4L282.0 572.8L282.0 574.4L282.1 586.2L282.1 572.7L282.2 577.5L282.3 570.3L282.4 603.3L282.5 603.3L282.5 600.8L282.7 554.6L282.7 581.2L282.8 593.9L282.9 562.2L283.0 580.4L283.0 577.4L283.2 588.6L283.2 475.7L283.3 577.7L283.3 565.8L283.5 579.9L283.5 583.5L283.6 594.5L283.7 568.9L283.8 575.4L283.8 595.2L283.9 569.4L284.0 576.5L284.0 567.6L284.1 594.5L284.2 565.7L284.3 587.5L284.4 627.9L284.5 581.0L284.5 594.3L284.6 577.2L284.7 583.4L284.8 577.7L284.9 601.7L285.0 593.2L285.0 589.6L285.1 577.0L285.2 582.2L285.3 582.2L285.4 592.6L285.5 562.1L285.5 620.8L285.6 575.2L285.7 582.8L285.8 619.5L285.8 566.7L286.0 595.9L286.0 589.5L286.1 601.4L286.2 473.8L286.2 559.3L286.3 594.2L286.4 604.9L286.5 573.5L286.5 572.2L286.6 589.1L286.7 577.8L286.8 602.3L286.9 576.9L287.0 580.3L287.0 606.9L287.2 581.0L287.3 563.9L287.3 598.0L287.5 582.9L287.5 608.8L287.6 571.4L287.6 644.4L287.7 601.0L287.8 602.2L287.8 602.7L288.0 589.2L288.0 599.3L288.1 557.3L288.2 575.9L288.3 578.4L288.4 603.2L288.5 601.9L288.5 581.8L288.6 601.7L288.7 601.1L288.8 583.2L288.9 613.1L289.0 594.9L289.0 587.6L289.1 597.0L289.2 583.9L289.2 584.5L289.3 592.5L289.3 552.2L289.4 626.8L289.5 600.3L289.5 609.0L289.6 516.4L289.7 618.6L289.8 595.6L289.8 594.9L289.9 612.3L290.0 599.5L290.0 576.6L290.1 607.6L290.2 584.0L290.3 580.8L290.4 622.0L290.5 606.3L290.5 619.8L290.7 650.4L290.7 650.3L290.8 649.4L290.9 571.7L291.0 580.2L291.0 593.5L291.1 638.9L291.2 597.0L291.3 627.1L291.4 562.7L291.5 607.8L291.5 581.2L291.6 594.3L291.6 570.4L291.7 588.4L291.8 614.9L291.9 576.2L292.0 599.5L292.0 586.9L292.1 443.0L292.2 596.4L292.3 577.4L292.4 549.8L292.5 682.5L292.5 618.2L292.6 583.0L292.7 599.8L292.8 607.1L293.0 573.0L293.0 573.0L293.1 628.2L293.2 594.8L293.3 597.7L293.4 589.5L293.5 623.5L293.5 591.5L293.6 626.6L293.6 585.7L293.7 598.3L293.8 603.0L293.8 617.7L294.0 582.2L294.0 609.0L294.2 615.2L294.2 606.5L294.3 629.6L294.4 598.0L294.5 618.6L294.5 600.1L294.6 595.4L294.7 628.4L294.7 607.8L294.8 597.3L294.9 617.9L295.0 604.4L295.0 604.5L295.1 595.5L295.2 626.1L295.2 613.3L295.3 666.1L295.4 541.3L295.5 576.6L295.5 610.0L295.7 639.2L295.7 609.2L295.8 569.1L296.0 621.3L296.0 622.5L296.2 620.0L296.3 490.2L296.5 672.6L296.5 644.1L296.6 622.8L296.7 656.2L296.7 630.0L296.8 592.2L296.8 575.3L296.9 609.0L297.0 591.8L297.0 610.2L297.1 509.9L297.2 603.3L297.3 631.8L297.4 462.3L297.5 543.3L297.5 631.4L297.7 592.2L297.8 642.4L297.9 588.1L298.0 646.7L298.0 617.8L298.2 654.6L298.2 456.3L298.3 679.0L298.5 479.3L298.5 480.4L298.7 677.6L298.7 638.6L298.8 654.3L298.8 640.3L299.0 684.6L299.0 616.4L299.1 608.3L299.2 688.8L299.3 609.7L299.4 556.4L299.5 651.0L299.5 670.7L299.6 695.5L299.7 455.8L299.7 605.5L299.8 654.7L299.9 481.6L300.0 641.8L300.0 608.5L300.1 459.3L300.2 684.4L300.3 619.7L300.3 470.3L300.5 698.9L300.5 485.8L300.6 694.1L300.7 585.6L300.8 664.2L300.9 699.0L301.0 597.4L301.0 470.0L301.1 655.2L301.1 468.3L301.2 564.8L301.3 690.8L301.5 446.9L301.5 649.7L301.6 671.9L301.7 544.9L301.7 555.2L301.8 484.8L301.8 629.5L302.0 542.2L302.0 543.4L302.1 444.6L302.2 681.7L302.2 505.2L302.3 495.4L302.3 693.2L302.4 450.2L302.5 684.7L302.5 453.2L302.6 449.1L302.6 693.6L302.7 506.4L302.8 675.6L302.9 485.5L303.0 698.1L303.0 528.3L303.1 607.8L303.2 480.8L303.3 587.0L303.4 681.5L303.4 515.3L303.5 572.3L303.5 648.0L303.6 463.1L303.6 686.1L303.7 665.5L303.8 540.4L303.8 567.4L303.9 446.9L304.0 567.4L304.0 674.6L304.1 689.1L304.1 466.6L304.2 631.4L304.3 696.1L304.3 456.4L304.5 472.5L304.5 646.5L304.7 686.2L304.7 685.4L304.8 675.7L304.8 468.8L304.9 697.5L305.0 655.5L305.0 688.9L305.2 458.6L305.2 670.0L305.3 505.7L305.4 482.6L305.5 640.4L305.5 580.0L305.7 677.1L305.7 470.4L305.8 603.4L305.9 478.0L306.0 691.9L306.0 456.4L306.1 448.2L306.2 622.8L306.2 495.8L306.3 680.7L306.4 602.4L306.5 668.6L306.5 463.4L306.6 686.8L306.7 642.6L306.8 664.8L306.9 503.5L307.0 614.9L307.0 445.4L307.1 648.5L307.2 560.1L307.3 654.9L307.3 686.7L307.4 466.7L307.5 685.2L307.5 658.6L307.6 465.7L307.7 673.9L307.8 448.8L307.9 682.7L308.0 469.5L308.0 547.4L308.1 696.8L308.2 689.0L308.3 682.7L308.4 699.0L308.5 510.5L308.5 660.4L308.6 462.6L308.7 638.5L308.8 649.9L308.9 492.7L308.9 696.3L309.0 535.3L309.0 462.7L309.1 694.7L309.2 475.3L309.3 630.6L309.4 466.5L309.5 682.2L309.5 632.2L309.6 470.8L309.6 663.8L309.7 552.7L309.8 529.3L309.9 696.4L310.0 494.8L310.0 490.9L310.1 489.8L310.2 506.0L310.2 503.5L310.3 493.5L310.3 588.5L310.5 517.1L310.5 462.9L310.6 443.3L310.7 667.3L310.8 605.4L310.8 664.8L311.0 565.2L311.0 543.7L311.1 635.6L311.1 475.3L311.2 529.8L311.3 699.0L311.5 464.9L311.5 526.1L311.7 675.5L311.7 649.9L311.8 609.6L311.8 685.1L311.9 539.4L312.0 679.8L312.0 634.3L312.1 443.7L312.2 680.6L312.3 655.5L312.4 472.2L312.5 504.7L312.5 658.5L312.7 457.2L312.8 635.4L312.9 676.2L313.0 445.9L313.0 533.9L313.1 683.8L313.2 480.8L313.3 556.3L313.3 686.0L313.5 447.3L313.5 671.2L313.6 688.8L313.6 450.6L313.7 684.7L313.8 612.5L313.8 444.9L314.0 674.7L314.0 540.7L314.2 668.6L314.2 454.6L314.3 469.0L314.5 691.1L314.5 618.6L314.6 448.8L314.7 668.3L314.8 662.4L314.8 460.7L314.9 699.3L315.0 671.7L315.0 484.1L315.1 633.3L315.2 459.3L315.2 499.7L315.3 522.5L315.4 671.0L315.5 524.7L315.5 471.1L315.6 444.2L315.7 585.4L315.8 485.4L315.9 621.3L316.0 616.0L316.0 616.1L316.1 686.4L316.2 449.4L316.3 626.6L316.4 673.6L316.5 599.4L316.5 675.4L316.6 485.4L316.7 683.7L316.8 694.3L316.9 442.5L317.0 678.0L317.0 676.7L317.1 468.9L317.2 604.7L317.3 473.0L317.5 663.7L317.5 617.5L317.6 685.6L317.7 471.3L317.8 584.1L317.9 683.6L318.0 681.9L318.0 490.3L318.1 458.1L318.1 568.3L318.2 468.5L318.3 628.2L318.3 478.3L318.4 653.0L318.5 633.5L318.5 451.7L318.6 635.5L318.7 445.1L318.8 523.0L318.9 693.3L319.0 595.2L319.0 595.2L319.2 596.8L319.2 542.1L319.3 517.1L319.3 699.5L319.4 501.3L319.5 529.0L319.5 473.8L319.7 661.4L319.7 631.3L319.8 494.9L319.9 460.7L320.0 694.4L320.0 671.2L320.1 456.4L320.2 663.7L320.3 677.6L320.4 447.6L320.5 459.8L320.5 508.4L320.7 480.4L320.7 690.2L320.8 677.4L320.8 459.8L321.0 687.9L321.0 466.8L321.1 661.3L321.2 453.5L321.2 639.4L321.3 662.4L321.4 589.9L321.5 599.3L321.5 598.7L321.7 693.8L321.7 459.1L321.8 496.0L321.8 681.9L322.0 502.3L322.0 615.1L322.1 659.8L322.2 492.9L322.3 677.1L322.4 475.6L322.5 699.6L322.5 590.0L322.6 459.0L322.7 638.1L322.8 612.4L322.8 676.2L322.9 465.1L323.0 529.2L323.0 584.4L323.1 667.0L323.2 465.2L323.3 687.6L323.4 496.3L323.5 535.6L323.5 503.7L323.6 689.6L323.7 458.3L323.7 659.4L323.8 460.1L323.9 453.3L324.0 664.2L324.0 585.7L324.1 609.0L324.2 471.2L324.2 582.5L324.3 448.2L324.3 694.0L324.5 503.7L324.5 649.1L324.6 455.3L324.7 483.6L324.8 464.8L324.8 645.7L325.0 615.8L325.0 452.0L325.2 696.8L325.3 658.0L325.4 685.8L325.4 495.9L325.5 673.2L325.5 624.5L325.6 686.8L325.7 463.2L325.7 541.6L325.8 647.8L325.9 673.6L326.0 521.2L326.0 528.6L326.1 500.5L326.1 649.4L326.2 623.7L326.3 621.9L326.3 622.6L326.5 600.3L326.5 660.8L326.7 450.8L326.7 665.5L326.8 556.0L326.9 455.6L326.9 690.6L327.0 674.6L327.0 523.0L327.2 674.9L327.2 652.5L327.3 530.4L327.4 462.1L327.4 560.5L327.5 484.4L327.5 682.4L327.6 456.5L327.7 681.0L327.8 444.0L327.9 676.1L328.0 459.0L328.0 684.1L328.2 535.4L328.3 690.1L328.3 460.2L328.5 506.7L328.5 590.4L328.6 683.1L328.7 453.1L328.7 642.6L328.8 629.6L328.9 472.9L328.9 668.7L329.0 627.1L329.0 455.3L329.2 623.4L329.2 491.1L329.3 674.5L329.3 695.8L329.5 558.1L329.5 459.9L329.6 697.4L329.7 647.6L329.8 615.6L329.8 684.9L329.9 532.0L330.0 638.2L330.0 622.6L330.1 463.9L330.2 655.8L330.2 586.1L330.3 462.9L330.3 690.0L330.5 530.2L330.5 685.6L330.7 472.7L330.8 656.7L330.9 462.1L331.0 612.6L331.0 666.8L331.1 583.5L331.2 649.9L331.3 451.6L331.4 447.5L331.5 642.4L331.5 658.8L331.7 474.3L331.7 680.1L331.8 450.8L331.9 676.1L332.0 540.5L332.0 471.8L332.1 448.7L332.1 668.5L332.2 450.8L332.3 607.5L332.4 484.9L332.5 490.0L332.5 595.9L332.6 444.0L332.7 596.8L332.8 517.5L332.8 679.2L333.0 458.4L333.0 557.7L333.2 663.8L333.2 603.2L333.3 491.2L333.5 677.9L333.5 688.5L333.6 692.3L333.7 462.8L333.8 471.3L333.8 685.7L334.0 570.9L334.0 650.8L334.2 672.7L334.2 472.7L334.3 680.4L334.3 514.3L334.5 592.0L334.5 571.2L334.7 585.8L334.7 531.5L334.8 478.9L334.8 657.3L335.0 446.1L335.0 499.4L335.1 447.4L335.2 687.3L335.2 578.7L335.3 443.3L335.3 644.0L335.5 563.7L335.5 664.9L335.7 480.5L335.7 664.2L335.8 599.6L335.9 685.4L336.0 480.2L336.0 657.4L336.2 687.4L336.2 451.9L336.3 631.2L336.4 463.9L336.5 635.0L336.5 473.7L336.6 450.6L336.7 632.0L336.8 680.2L336.8 454.9L337.0 679.2L337.0 486.8L337.1 470.8L337.2 690.0L337.3 465.8L337.3 653.0L337.5 479.8L337.5 477.8L337.6 507.8L337.7 454.9L337.8 578.3L337.8 445.5L337.9 609.3L338.0 470.0L338.0 559.0L338.1 687.4L338.1 446.7L338.2 486.5L338.3 553.4L338.4 504.9L338.5 692.0L338.5 597.6L338.6 464.7L338.7 652.0L338.7 549.0L338.8 653.9L338.8 683.2L338.9 540.2L339.0 508.8L339.1 479.3L339.2 587.8L339.3 645.1L339.3 621.3L339.5 687.7L339.5 600.6L339.7 485.0L339.8 594.0L339.8 696.9L339.9 510.0L340.0 693.0L340.0 524.1L340.2 675.8L340.2 662.4L340.3 684.6L340.4 565.8L340.5 588.9L340.5 451.0L340.7 659.3L340.8 494.4L340.9 569.4L341.0 475.4L341.0 589.3L341.2 471.0L341.3 653.3L341.4 680.3L341.5 469.3L341.5 489.2L341.6 511.4L341.7 470.5L341.7 487.9L341.8 565.4L341.8 687.6L342.0 644.3L342.0 699.0L342.2 453.5L342.3 691.5L342.5 476.6L342.5 474.4L342.7 679.7L342.7 454.7L342.8 645.0L342.8 469.4L342.9 684.0L343.0 610.8L343.0 663.8L343.1 467.8L343.2 556.0L343.3 571.8L343.3 691.7L343.4 467.0L343.5 491.6L343.5 486.6L343.6 462.8L343.7 655.0L343.7 522.0L343.8 513.3L343.9 450.6L344.0 467.6L344.0 507.4L344.1 446.0L344.2 689.1L344.3 481.7L344.4 447.0L344.4 644.8L344.5 541.0L344.5 669.5L344.7 479.3L344.8 508.8L344.9 444.1L344.9 696.2L345.0 459.2L345.0 690.5L345.2 464.6L345.3 654.0L345.3 668.1L345.4 498.6L345.5 548.6L345.5 521.9L345.6 639.9L345.7 449.1L345.7 488.0L345.8 661.3L345.8 455.5L345.9 677.3L346.0 555.8L346.0 549.1L346.1 698.9L346.2 456.3L346.2 490.2L346.3 579.4L346.5 663.4L346.5 660.6L346.6 681.3L346.7 525.6L346.8 667.8L346.9 444.1L347.0 557.9L347.0 686.6L347.2 482.4L347.3 587.8L347.3 622.8L347.5 465.5L347.5 447.2L347.6 442.9L347.6 695.8L347.7 445.6L347.8 697.3L348.0 476.3L348.0 534.6L348.2 568.4L348.2 500.5L348.3 673.5L348.5 515.9L348.5 468.8L348.6 593.5L348.7 467.5L348.7 530.3L348.8 518.5L348.8 494.9L349.0 504.9L349.0 515.4L349.1 522.7L349.2 465.6L349.2 508.3L349.3 618.9L349.3 463.7L349.4 672.9L349.5 470.9L349.5 526.8L349.6 454.3L349.7 680.5L349.8 579.6L349.9 661.0L349.9 491.6L350.0 572.3L350.0 692.0L350.1 463.8L350.2 484.8L350.3 483.0L350.4 464.0L350.5 500.2L350.5 627.8L350.7 470.3L350.7 599.9L350.8 463.9L350.9 699.4L351.0 508.3L351.0 688.0L351.1 469.6L351.2 577.0L351.3 457.1L351.4 589.4L351.5 504.5L351.5 551.4L351.6 506.8L351.7 642.8L351.8 519.4L351.8 657.5L351.9 459.2L352.0 595.2L352.0 530.2L352.2 625.4L352.2 526.7L352.3 460.5L352.3 450.1L352.4 685.7L352.5 510.5L352.5 668.3L352.7 480.1L352.7 515.9L352.8 588.2L352.9 695.9L352.9 465.8L353.0 493.1L353.0 442.9L353.1 510.1L353.2 469.2L353.3 480.8L353.3 678.8L353.4 475.2L353.5 479.2L353.5 510.5L353.6 505.6L353.7 670.9L353.7 632.7L353.8 635.3L353.9 482.8L354.0 488.7L354.0 644.0L354.1 676.8L354.1 509.9L354.2 550.0L354.3 484.2L354.4 475.5L354.5 476.2L354.5 631.7L354.6 691.2L354.7 661.4L354.8 510.1L354.8 487.9L354.9 635.8L355.0 493.1L355.0 466.4L355.1 455.2L355.1 664.2L355.2 598.1L355.3 448.4L355.4 690.1L355.5 574.9L355.5 472.0L355.7 665.8L355.7 539.4L355.8 483.3L355.9 681.2L356.0 578.1L356.0 480.5L356.1 466.5L356.2 531.5L356.2 468.0L356.3 680.5L356.5 509.8L356.5 680.5L356.7 458.1L356.8 488.9L356.8 451.0L356.9 528.4L357.0 484.3L357.0 527.3L357.1 686.9L357.2 506.4L357.3 678.7L357.5 459.7L357.5 457.8L357.6 691.4L357.7 463.0L357.8 471.3L357.8 450.5L357.9 626.0L358.0 523.4L358.0 525.4L358.2 511.4L358.2 540.1L358.3 630.1L358.4 469.5L358.5 501.1L358.5 484.6L358.6 569.8L358.7 533.8L358.8 507.1L358.8 491.0L359.0 568.7L359.0 544.0L359.1 450.5L359.2 646.6L359.2 490.7L359.3 488.8L359.3 612.5L359.4 457.7L359.5 474.6L359.5 505.3L359.6 499.7L359.7 604.5L359.8 464.4L359.9 518.5L360.0 448.5L360.0 493.1L360.2 592.8L360.3 604.7L360.5 484.9L360.5 539.8L360.7 492.3L360.8 473.3L361.0 495.2L361.0 448.2L361.1 495.3L361.2 491.2L361.3 518.2L361.3 655.1L361.4 483.1L361.5 487.9L361.5 508.0L361.7 466.8L361.8 460.7L361.9 514.1L361.9 459.7L362.0 481.7L362.0 502.7L362.2 486.2L362.2 487.5L362.3 485.8L362.3 471.3L362.4 508.1L362.5 506.7L362.5 522.7L362.7 464.6L362.7 472.1L362.8 474.0L362.9 514.8L363.0 475.3L363.0 461.9L363.1 506.1L363.2 488.8L363.3 472.6L363.3 469.5L363.5 471.0L363.5 526.0L363.7 531.5L363.7 489.8L363.8 518.4L363.9 476.6L364.0 487.2L364.0 468.1L364.2 504.6L364.2 476.3L364.3 490.3L364.3 500.9L364.4 488.0L364.5 492.2L364.5 498.7L364.6 509.8L364.7 490.3L364.8 508.3L365.0 477.6L365.0 445.2L365.2 646.1L365.3 518.4L365.5 491.8L365.5 489.9L365.7 527.1L365.8 526.5L366.0 479.3L366.0 463.3L366.2 506.4L366.2 492.5L366.3 492.3L366.3 494.1L366.4 487.8L366.5 490.2L366.5 522.5L366.7 491.6L366.8 495.1L366.8 450.4L367.0 501.5L367.0 488.0L367.1 485.8L367.2 492.9L367.2 490.8L367.3 476.4L367.4 498.7L367.5 497.5L367.5 494.5L367.7 492.0L367.7 499.9L367.8 489.6L367.8 500.5L367.9 486.5L368.0 491.1L368.0 491.1L368.2 486.2L368.2 498.8L368.3 495.7L368.3 490.9L368.4 505.0L368.5 494.9L368.5 491.7L368.6 502.4L368.7 499.9L368.8 506.9L368.9 508.1L369.0 502.6L369.0 502.7L369.1 503.2L369.2 481.7L369.2 500.1L369.3 494.9L369.4 500.8L369.5 496.7L369.5 506.0L369.6 494.9L369.7 506.2L369.8 492.1L369.9 508.3L370.0 486.5L370.0 498.6L370.1 494.4L370.1 513.5L370.2 494.8L370.3 500.3L370.4 495.2L370.4 504.4L370.5 500.9L370.5 500.7L370.6 493.1L370.7 499.4L370.8 503.6L370.9 510.7L371.0 510.0L371.0 499.8L371.1 503.3L371.2 498.2L371.2 502.6L371.3 500.4L371.5 509.0L371.6 503.5L371.7 499.6L371.7 506.2L371.8 500.9L371.9 499.1L372.0 504.9L372.0 506.0L372.2 509.9L372.2 502.3L372.3 508.8L372.4 498.8L372.5 505.1L372.5 505.1L372.6 481.6L372.7 508.4L372.8 503.2L372.8 510.7L372.9 496.3L373.0 502.2L373.0 503.6L373.1 496.0L373.2 502.3L373.3 502.8L373.4 483.1L373.5 511.4L373.5 504.4L373.7 499.3L373.8 507.8L373.9 498.0L374.0 505.4L374.0 509.1L374.1 509.3L374.2 498.8L374.3 507.5L374.4 500.6L374.5 535.5L374.5 547.7L374.6 550.9L374.7 514.9L374.8 506.6L374.8 499.6L374.9 512.0L375.0 508.0L375.0 508.9L375.1 516.2L375.1 504.9L375.2 505.7L375.3 502.0L375.3 516.2L375.5 502.5L375.5 508.0L375.6 512.3L375.6 504.2L375.7 507.9L375.8 511.9L375.8 510.1L376.0 516.8L376.0 510.7L376.1 505.4L376.2 699.0L376.3 558.8L376.3 511.3L376.5 513.4L376.5 504.8L376.7 535.1L376.8 535.0L376.9 508.4L377.0 512.7L377.0 510.7L377.1 515.0L377.2 507.4L377.2 509.7L377.3 508.9L377.4 508.0L377.5 518.5L377.6 513.5L377.6 510.7L377.8 517.0L378.0 509.9L378.0 514.3L378.1 517.1L378.2 512.9L378.2 515.7L378.3 517.5L378.4 510.7L378.4 521.3L378.5 512.0L378.5 515.2L378.6 510.3L378.7 517.8L378.8 521.4L378.9 516.5L379.0 516.9L379.0 517.5L379.1 522.2L379.2 515.5L379.2 521.4L379.3 512.2L379.3 519.8L379.5 510.6L379.5 517.1L379.7 515.4L379.7 522.5L379.8 519.2L379.8 524.3L380.0 514.6L380.0 528.6L380.1 533.4L380.2 523.6L380.3 519.2L380.4 514.7L380.5 517.9L380.5 515.0L380.6 514.8L380.7 522.5L380.7 515.6L380.8 518.4L380.8 520.6L380.9 516.2L381.0 518.5L381.0 515.5L381.1 519.9L381.2 516.9L381.3 513.9L381.5 517.7L381.5 528.1L381.6 502.3L381.7 516.9L381.8 516.7L381.8 513.3L381.9 521.3L382.0 513.6L382.0 510.7L382.2 522.2L382.2 521.1L382.3 514.3L382.4 524.6L382.5 516.8L382.5 521.2L382.6 522.2L382.7 494.2L382.8 494.5L383.0 518.8L383.0 521.8L383.2 517.5L383.2 518.6L383.3 523.7L383.4 519.4L383.5 532.9L383.5 522.1L383.6 516.1L383.7 518.4L383.8 568.1L383.8 635.4L383.9 519.2L384.0 524.7L384.0 513.6L384.2 527.5L384.2 510.4L384.3 524.8L384.4 517.7L384.5 524.1L384.5 521.2L384.6 518.7L384.7 522.2L384.7 519.9L384.8 525.4L384.8 515.4L385.0 518.3L385.0 519.0L385.1 516.8L385.2 528.8L385.3 527.5L385.5 488.7L385.5 486.6L385.7 521.8L385.7 519.7L385.8 526.7L385.9 518.3L385.9 533.3L386.0 528.2L386.0 517.0L386.2 529.1L386.3 522.6L386.3 523.9L386.4 517.0L386.5 519.6L386.5 525.4L386.6 526.1L386.7 518.3L386.8 522.9L386.9 520.7L387.0 523.4L387.2 527.7L387.2 522.2L387.3 521.7L387.3 523.2L387.4 456.6L387.5 507.8L387.5 524.6L387.6 530.9L387.7 523.3L387.8 531.7L387.9 495.6L388.0 500.4L388.0 520.7L388.2 528.6L388.3 526.0L388.4 523.4L388.5 524.5L388.6 529.3L388.7 527.2L388.8 527.4L388.8 526.0L388.9 532.1L389.0 527.6L389.0 536.1L389.1 523.6L389.2 528.2L389.3 525.9L389.3 531.2L389.5 531.0L389.5 527.0L389.6 535.0L389.7 524.0L389.7 533.5L389.8 527.2L390.0 590.3L390.0 545.5L390.1 525.4L390.2 531.6L390.3 535.0L390.4 521.5L390.5 529.6L390.5 530.3L390.6 523.4L390.7 530.7L390.7 528.7L390.8 528.5L390.8 532.3L390.9 525.3L391.0 530.2L391.0 528.5L391.1 527.4L391.2 549.6L391.2 548.7L391.3 556.2L391.3 557.1L391.5 532.9L391.5 530.6L391.6 525.8L391.7 535.1L391.7 531.7L391.8 535.2L391.8 529.6L392.0 538.8L392.0 537.3L392.1 529.1L392.2 537.3L392.2 531.5L392.3 533.8L392.3 552.4L392.4 533.8L392.5 533.9L392.5 533.0L392.6 531.8L392.7 540.2L392.7 539.4L392.8 533.4L393.0 538.4L393.0 538.5L393.2 534.4L393.3 526.6L393.5 541.8L393.5 537.4L393.6 534.5L393.7 544.2L393.7 542.4L393.9 538.1L393.9 541.0L394.0 540.3L394.2 543.5L394.2 539.6L394.3 541.8L394.3 543.0L394.4 535.6L394.5 538.5L394.5 541.6L394.7 549.9L394.7 540.5L394.8 550.1L394.8 529.6L395.0 539.1L395.0 535.3L395.1 542.4L395.2 541.6L395.3 537.5L395.3 542.8L395.5 539.1L395.5 545.2L395.6 539.9L395.7 561.5L395.8 615.3L395.9 543.4L396.0 548.4L396.0 550.1L396.1 550.3L396.2 539.3L396.3 546.7L396.4 551.6L396.5 551.0L396.5 549.0L396.7 508.5L396.7 512.4L396.8 528.1L396.8 551.6L397.0 550.5L397.0 546.5L397.2 548.6L397.3 544.5L397.5 553.2L397.5 550.2L397.7 555.9L397.7 555.3L397.8 554.2L397.8 555.2L398.0 550.6L398.0 552.1L398.1 557.1L398.2 552.6L398.4 556.2L398.4 554.0L398.5 555.4L398.7 578.7L398.7 570.9L398.8 560.7L399.0 555.8L399.0 563.2L399.2 556.5L399.2 563.0L399.3 562.2L399.4 559.7L399.4 563.2L399.5 562.8L399.5 562.9L399.7 559.7L399.7 567.1L399.8 568.7L399.9 561.9L400.0 571.9L400.0 534.5L400.1 488.8L400.2 566.7L400.3 568.7L400.5 567.1L400.5 569.2L400.7 563.1L400.7 568.9L400.8 564.4L400.9 568.8L401.0 566.0L401.0 562.0L401.2 571.2L401.2 569.2L401.3 569.2L401.4 567.1L401.5 570.6L401.5 569.6L401.6 558.8L401.7 574.2L401.8 569.8L401.9 568.7L402.0 574.0L402.0 568.6L402.1 568.1L402.2 573.7L402.3 573.7L402.5 572.2L402.5 571.7L402.7 578.6L402.7 574.4L402.8 573.4L402.8 571.8L402.9 576.2L403.0 573.6L403.0 574.6L403.1 573.7L403.2 576.9L403.3 577.0L403.5 580.7L403.6 574.1L403.7 576.8L403.8 576.2L403.8 576.1L404.0 594.9L404.0 592.5L404.2 579.6L404.2 579.9L404.3 578.3L404.4 586.1L404.5 584.5L404.5 576.0L404.6 580.6L404.7 578.1L404.8 576.7L404.9 580.0L405.0 578.1L405.0 581.3L405.1 576.4L405.2 581.5L405.3 583.4L405.3 582.7L405.4 586.8L405.5 584.2L405.5 584.8L405.6 587.3L405.7 582.2L405.7 586.2L405.8 584.1L405.8 586.1L405.9 468.8L406.0 548.6L406.0 587.5L406.1 589.9L406.3 590.8L406.4 587.9L406.5 589.7L406.7 586.3L406.7 591.4L406.9 591.0L407.0 588.9L407.0 589.9L407.2 599.5L407.2 598.5L407.3 594.7L407.3 592.2L407.5 597.1L407.5 590.8L407.7 593.2L407.8 594.0L407.9 595.8L408.0 592.1L408.1 597.7L408.2 595.1L408.3 596.1L408.3 596.6L408.4 592.8L408.5 595.8L408.5 595.8L408.6 601.1L408.7 597.6L408.8 600.0L408.8 598.1L408.9 601.2L409.0 600.6L409.0 600.2L409.1 599.9L409.2 608.6L409.4 604.8L409.5 603.0L409.5 602.5L409.6 605.0L409.7 580.3L409.8 584.2L409.9 687.5L410.0 604.8L410.0 601.5L410.2 605.3L410.2 604.6L410.4 607.1L410.4 605.3L410.6 610.0L410.7 607.2L410.8 607.4L410.9 610.2L411.0 608.3L411.1 611.1L411.3 609.3L411.4 612.6L411.5 612.5L411.5 611.8L411.7 612.7L411.8 612.5L411.9 616.0L412.0 615.1L412.0 615.5L412.2 617.2L412.2 612.9L412.3 617.8L412.3 614.9L412.4 618.5L412.5 615.6L412.5 618.3L412.7 614.7L412.7 615.1L412.8 616.3L413.0 619.6L413.0 619.7L413.2 617.0L413.3 617.9L413.4 616.5L413.5 619.0L413.6 616.5L413.9 619.9L414.0 617.5L414.1 618.0L414.2 619.9L414.4 619.3L414.5 620.4L414.6 621.6L414.7 622.9L414.9 622.4L415.0 624.2L415.1 624.6L415.2 621.9L415.3 622.3L415.4 624.3L415.6 623.9L415.6 624.6L415.8 624.9L415.9 626.1L416.1 625.2L416.2 627.3L416.4 627.8L416.5 627.4L416.6 626.9L416.7 628.4L416.8 628.3L416.9 628.8L417.0 629.3L417.2 631.8L417.3 631.5L417.4 633.4L417.5 632.6L417.6 631.8L417.8 632.5L417.9 631.3L418.0 631.6L418.2 633.1L418.3 633.0L418.5 633.9L418.5 633.0L418.7 634.9L418.8 634.2L418.9 635.6L419.0 635.0L419.2 635.8L419.3 636.3L419.3 635.6L419.6 636.3L419.7 635.8L419.8 636.1L419.9 637.2L420.1 636.7L420.1 636.7L420.3 636.5L420.5 637.4L420.6 637.6L420.7 637.1L420.8 636.9L420.8 637.4L421.1 637.5L421.2 637.0L421.3 636.6L421.4 636.7L421.5 636.6L421.7 637.1L421.8 637.1L422.0 637.8L422.0 637.6L422.2 639.6L422.4 640.1L422.5 639.3L422.5 639.7L422.7 641.3L422.8 641.7L422.9 642.5L423.0 641.8L423.2 640.9L423.3 641.3L423.5 642.4L423.6 642.3L423.7 641.1L423.9 641.3L423.9 640.7L424.1 641.1L424.2 640.7L424.3 641.2L424.5 642.3L424.5 642.2L424.7 642.7L424.8 642.4L425.0 643.3L425.0 643.1L425.2 644.1L425.4 644.3L425.5 644.0L425.5 644.6L425.7 645.9L425.8 646.3L425.9 646.8L426.1 646.8L426.2 647.4L426.3 647.5L426.5 648.6L426.6 648.6L426.7 647.6L426.8 647.5L427.0 648.9L427.0 648.9L427.2 649.9L427.3 650.0L427.4 650.4L427.5 650.2L427.6 649.3L427.8 650.1L428.0 651.8L428.1 651.5L428.2 651.8L428.3 651.5L428.4 650.6L428.5 650.9L428.7 652.3L428.9 651.9L428.9 652.2L429.1 652.8L429.2 652.4L429.4 652.2L429.5 653.1L429.6 653.6L429.7 653.0L429.8 652.8L429.9 651.7L430.0 652.2L430.2 653.0L430.3 653.4L430.5 655.0L430.5 655.1L430.7 656.5L430.8 656.5L431.0 657.0L431.1 657.0L431.2 658.3L431.3 658.8L431.4 659.8L431.6 659.4L431.7 660.5L431.8 660.7L431.9 661.6L432.1 661.6L432.2 662.0L432.3 662.1L432.5 661.8L432.5 661.6L432.7 662.3L432.8 662.1L432.9 662.5L433.0 662.9L433.2 663.8L433.3 664.3L433.5 663.4L433.6 663.1L433.7 663.5L433.9 664.2L433.9 663.8L434.0 663.8L434.2 664.2L434.3 663.6L434.5 664.5L434.5 665.0L434.7 666.5L434.8 666.6L435.0 667.4L435.1 667.3L435.2 667.9L435.3 668.0L435.5 669.0L435.5 668.3L435.7 669.4L435.8 669.5L436.0 671.1L436.0 671.4L436.2 672.2L436.3 673.2L436.5 672.9L436.5 672.7L436.7 672.2L436.8 672.2L437.0 673.6L437.0 674.1L437.1 674.9L437.4 674.8L437.4 675.2L437.5 675.0L437.7 677.4L437.8 677.4L437.9 678.3L438.0 678.8L438.2 680.2L438.4 680.3L438.5 680.7L438.6 680.7L438.7 681.2L438.8 681.4L439.0 682.5L439.0 683.1L439.2 683.9L439.3 683.6L439.5 683.4L439.5 684.2L439.7 685.6L439.8 685.5L440.0 684.6L440.1 684.8L440.2 683.6L440.3 683.6L440.5 682.1L440.6 681.9L440.7 682.3L440.8 681.9L440.9 682.4L441.1 682.2L441.2 681.6L441.3 681.6L441.5 682.6L441.7 682.9L441.7 683.3L441.8 683.3L441.8 682.8L442.0 683.2L442.2 684.2L442.3 684.1L442.5 682.9L442.5 682.7L442.7 682.0L442.9 682.4L443.0 682.0L443.0 681.8L443.2 680.5L443.3 680.8L443.5 680.1L443.7 680.0L443.7 680.5L443.8 680.3L444.0 679.2L444.0 678.6L444.2 677.0L444.3 676.8L444.5 675.4L444.5 675.0L444.7 674.7L444.8 674.8L444.9 674.6L445.0 674.3L445.2 673.2L445.3 673.0L445.4 672.4L445.5 672.2L445.6 672.3L445.7 667.8L445.8 664.5L446.0 652.0L446.0 649.2L446.2 640.1L446.3 637.4L446.5 625.3L446.5 622.6L446.7 613.0L446.8 610.7L447.0 598.9L447.0 596.2L447.1 592.3L447.2 592.6L447.3 592.9L447.4 592.6L447.7 592.8L447.7 593.3L447.8 593.5L447.9 594.2L448.1 594.0L448.2 593.7L448.3 593.7L448.5 595.1L448.5 595.4L448.7 596.7L448.8 596.7L448.9 597.3L449.0 597.1L449.1 597.5L449.3 597.3L449.5 597.0L449.5 597.5L449.7 598.9L449.9 598.2L450.0 598.7L450.0 598.5L450.2 599.6L450.3 599.6L450.5 601.8L450.5 602.1L450.7 603.7L450.8 604.7L451.0 605.7L451.1 605.9L451.2 606.3L451.3 606.5L451.5 608.7L451.5 609.3L451.7 610.0L451.9 610.4L452.0 609.9L452.1 609.4L452.2 610.2L452.3 610.2L452.4 611.0L452.5 611.2L452.7 612.5L452.9 612.7L452.9 612.2L453.0 612.3L453.2 612.5L453.4 612.2L453.4 611.8L453.5 612.1L453.6 611.7L453.9 612.1L454.0 612.3L454.0 612.6L454.2 613.7L454.3 613.7L454.5 615.2L454.5 615.4L454.6 616.2L454.8 615.6L455.0 614.6L455.0 614.6L455.2 614.1L455.4 613.7L455.5 614.5L455.5 614.9L455.7 615.7L455.8 615.8L455.9 615.5L456.0 615.4L456.2 615.9L456.3 616.2L456.4 617.1L456.5 616.9L456.7 617.4L456.9 617.7L456.9 618.1L457.1 618.1L457.1 618.4L457.3 617.8L457.4 618.5L457.7 619.1L457.7 618.3L457.8 618.2L458.0 618.9L458.0 619.1L458.2 620.4L458.3 620.2L458.5 619.6L458.5 619.5L458.7 618.6L458.8 618.7L458.8 618.0L459.1 618.7L459.2 618.5L459.3 618.5L459.5 618.0L459.6 618.0L459.7 618.8L459.8 619.1L460.0 620.3L460.1 619.5L460.2 620.0L460.3 620.1L460.5 622.2L460.5 622.3L460.7 623.2L460.8 622.9L460.9 623.4L461.0 623.8L461.1 624.8L461.3 624.6L461.4 623.7L461.6 623.4L461.7 623.9L461.8 623.6L462.0 623.4L462.0 623.7L462.2 625.1L462.3 625.2L462.5 623.7L462.6 623.7L462.7 624.6L462.8 624.1L462.9 624.4L463.1 624.4L463.2 625.0L463.4 625.3L463.5 624.9L463.5 625.3L463.7 624.7L463.8 625.1L464.0 626.1L464.0 626.3L464.2 625.4L464.3 625.0L464.4 624.4L464.5 625.0L464.7 624.5L464.8 624.5L465.0 625.4L465.0 625.2L465.2 626.6L465.3 627.0L465.4 628.3L465.5 628.0L465.6 628.0L465.8 628.1L466.0 628.4L466.1 629.5L466.2 629.0L466.3 629.3L466.5 627.7L466.5 627.9L466.7 627.1L466.8 626.9L467.0 625.9L467.1 625.5L467.2 626.2L467.3 627.0L467.4 627.4L467.5 627.3L467.7 628.0L467.9 627.8L468.0 628.2L468.0 628.2L468.1 629.0L468.4 629.3L468.5 628.6L468.5 628.3L468.7 627.2L468.8 627.2L469.0 628.1L469.0 628.2L469.2 628.7L469.3 628.9L469.4 628.4L469.5 628.6L469.6 628.0L469.8 628.1L470.0 629.7L470.0 629.9L470.2 630.8L470.3 631.3L470.4 630.3L470.6 630.2L470.7 629.9L470.8 629.9L471.0 630.4L471.1 630.5L471.2 631.3L471.4 632.1L471.5 631.6L471.5 631.5L471.7 630.7L471.8 630.6L471.9 631.1L472.0 630.5L472.2 629.6L472.4 629.3L472.5 629.6L472.6 629.4L472.7 628.6L472.8 628.7L473.0 627.2L473.0 627.2L473.2 628.8L473.3 629.4L473.5 630.5L473.6 630.4L473.7 630.7L473.8 630.5L473.9 630.8L474.1 630.8L474.2 630.4L474.3 629.9L474.5 630.2L474.5 630.2L474.7 630.6L474.8 630.2L475.0 630.9L475.0 630.7L475.1 631.1L475.3 631.0L475.5 630.4L475.6 630.8L475.6 631.3L475.8 631.1L476.0 631.9L476.1 632.6L476.2 631.8L476.3 631.2L476.5 630.0L476.5 630.0L476.7 631.2L476.9 631.1L477.0 630.2L477.0 630.2L477.2 629.5L477.3 629.3L477.4 628.3L477.5 629.1L477.7 630.6L477.8 631.0L478.0 629.5L478.0 629.3L478.2 628.4L478.3 628.2L478.5 628.6L478.6 629.1L478.7 628.5L478.8 628.1L479.0 627.1L479.1 627.1L479.2 627.4L479.3 627.6L479.5 628.6L479.5 629.0L479.7 629.6L479.8 629.6L480.0 628.7L480.1 628.3L480.2 628.7L480.4 629.6L480.4 628.8L480.5 628.7L480.7 628.4L480.8 628.2L481.0 628.6L481.2 629.2L481.2 628.7L481.3 628.7L481.5 628.3L481.5 629.0L481.7 628.5L481.8 628.3L481.9 627.5L482.0 627.7L482.2 626.7L482.3 626.7L482.4 626.1L482.5 626.1L482.6 625.8L482.8 626.7L483.0 627.8L483.0 628.1L483.2 628.6L483.3 629.1L483.4 630.5L483.5 630.3L483.7 628.1L483.9 628.6L484.0 628.3L484.0 627.8L484.1 627.2L484.3 627.8L484.5 629.2L484.5 629.5L484.6 628.9L484.8 629.4L484.9 630.2L485.1 630.0L485.2 630.5L485.3 630.6L485.5 628.8L485.5 628.3L485.7 626.5L485.8 626.3L486.0 627.5L486.0 627.5L486.2 628.5L486.3 628.4L486.5 626.8L486.6 625.8L486.7 626.4L486.8 626.5L487.0 627.9L487.1 627.8L487.2 628.1L487.3 627.8L487.5 628.6L487.6 628.6L487.7 627.9L487.8 627.4L487.9 626.5L488.0 626.5L488.2 628.4L488.4 628.6L488.5 628.4L488.5 628.1L488.7 627.1L488.8 626.9L489.0 627.3L489.0 627.2L489.2 629.2L489.4 629.4L489.5 628.8L489.5 628.7L489.7 627.8L489.8 628.5L490.0 630.0L490.1 629.9L490.2 629.4L490.3 629.3L490.5 629.9L490.5 630.5L490.6 631.6L490.8 630.8L491.0 629.7L491.1 629.2L491.2 629.6L491.3 629.3L491.5 628.6L491.5 629.0L491.7 628.4L491.8 628.6L492.0 630.2L492.0 630.7L492.2 632.3L492.3 631.8L492.5 630.2L492.5 629.8L492.7 630.2L492.8 630.1L492.9 630.6L493.1 630.6L493.2 630.1L493.3 630.2L493.4 630.4L493.7 629.8L493.7 630.4L493.8 630.5L493.9 631.2L494.1 630.8L494.2 629.7L494.4 629.6L494.5 630.5L494.6 630.7L494.7 631.9L494.8 632.0L495.0 630.6L495.1 630.4L495.2 630.9L495.3 631.2L495.5 631.6L495.6 632.3L495.7 633.3L495.9 633.2L496.0 632.6L496.1 633.4L496.2 633.1L496.3 633.3L496.3 634.4L496.5 634.1L496.7 633.1L496.8 633.3L496.9 633.0L497.1 633.6L497.2 633.1L497.3 633.0L497.5 632.3L497.7 632.0L497.7 632.8L497.8 633.0L497.8 632.9L498.1 632.6L498.2 633.6L498.3 633.3L498.5 632.6L498.5 632.3L498.7 633.0L498.8 633.5L499.0 635.2L499.1 635.7L499.2 634.9L499.3 634.9L499.4 635.6L499.5 635.4L499.7 634.5L499.8 635.0L500.0 635.9L500.1 635.8L500.2 635.0L500.3 635.3L500.5 634.5L500.5 634.4L500.7 635.0L500.8 635.1L501.0 636.7L501.0 637.2L501.2 636.0L501.3 635.4L501.4 635.8L501.6 636.1L501.7 636.2L501.8 636.5L502.0 635.9L502.0 635.3L502.1 636.0L502.4 636.0L502.5 635.4L502.5 635.9L502.7 635.4L502.8 634.8L502.9 634.2L503.0 634.4L503.2 635.5L503.3 635.8L503.5 637.0L503.5 637.2L503.7 638.6L503.8 638.4L504.0 638.8L504.0 639.1L504.2 640.3L504.3 640.3L504.5 639.2L504.6 639.3L504.7 638.8L504.8 639.1L504.9 639.5L505.0 639.1L505.2 636.9L505.3 636.9L505.4 636.4L505.5 637.2L505.6 637.3L505.8 637.0L506.0 636.4L506.0 636.6L506.1 636.0L506.3 636.9L506.5 637.7L506.6 637.1L506.7 637.7L506.8 638.0L506.9 639.0L507.0 638.4L507.2 640.0L507.3 640.2L507.4 641.2L507.5 640.8L507.7 639.9L507.8 639.8L508.0 638.9L508.1 639.2L508.2 640.1L508.3 640.3L508.5 638.7L508.5 638.7L508.7 639.9L508.8 640.5L509.0 641.9L509.1 641.8L509.2 640.9L509.3 640.9L509.4 641.4L509.6 641.4L509.7 640.6L509.8 640.7L509.9 640.4L510.1 640.4L510.1 641.0L510.3 641.4L510.5 642.0L510.5 642.4L510.6 643.6L510.8 643.4L511.0 642.6L511.0 642.6L511.2 643.2L511.4 642.7L511.5 643.1L511.5 643.2L511.7 643.8L511.8 643.8L512.0 641.9L512.0 641.8L512.2 643.1L512.3 642.9L512.4 643.3L512.6 643.3L512.7 642.9L512.8 642.5L512.9 641.9L513.0 642.2L513.2 643.4L513.3 643.9L513.4 644.5L513.5 644.2L513.6 643.8L513.8 644.1L514.0 643.8L514.0 643.5L514.2 642.2L514.3 642.2L514.5 643.1L514.5 643.1L514.7 643.8L514.8 644.4L515.0 646.1L515.0 646.6L515.2 647.7L515.4 648.3L515.5 647.7L515.5 647.4L515.7 647.0L515.8 647.3L515.9 647.2L516.1 647.5L516.2 647.0L516.3 647.4L516.5 646.8L516.6 646.9L516.7 647.7L516.8 647.8L517.0 646.6L517.0 646.3L517.2 645.9L517.3 646.1L517.5 647.3L517.5 647.6L517.7 646.8L517.8 646.8L518.0 647.6L518.0 647.3L518.2 648.2L518.3 648.3L518.4 648.5L518.6 648.4L518.7 647.6L518.8 646.8L519.0 647.5L519.1 647.8L519.2 648.4L519.3 648.1L519.4 648.4L519.5 648.1L519.7 649.0L519.8 649.3L520.0 650.4L520.0 650.4L520.2 649.7L520.3 648.7L520.4 648.2L520.5 648.2L520.7 648.4L520.9 647.9L521.0 648.3L521.0 648.7L521.2 648.9L521.3 648.2L521.4 647.7L521.5 647.9L521.7 648.3L521.8 647.7L522.0 648.0L522.0 648.3L522.2 649.1L522.3 648.5L522.4 648.8L522.5 648.9L522.7 648.1L522.8 647.6L523.0 648.0L523.1 647.9L523.2 647.5L523.4 647.3L523.5 647.0L523.5 647.3L523.7 646.4L523.8 646.9L524.0 647.7L524.1 647.9L524.2 648.4L524.3 648.3L524.5 647.7L524.5 647.9L524.7 648.6L524.8 648.9L525.0 648.6L525.0 648.4L525.2 648.9L525.3 648.3L525.5 647.8L525.6 648.3L525.7 649.1L525.8 649.5L525.9 648.9L526.0 648.6L526.2 647.5L526.3 647.6L526.4 648.0L526.6 647.9L526.7 648.5L526.8 648.6L527.0 649.7L527.0 649.5L527.1 649.0L527.4 649.9L527.5 649.4L527.5 649.1L527.7 648.5L527.8 648.4L528.0 649.7L528.0 649.6L528.2 650.2L528.3 649.7L528.5 650.6L528.5 650.6L528.7 652.0L528.8 651.8L529.0 650.8L529.1 650.4L529.2 650.0L529.3 650.5L529.5 651.3L529.5 651.1L529.6 650.5L529.8 650.7L530.0 650.3L530.0 649.9L530.2 649.2L530.4 649.3L530.5 649.5L530.5 649.4L530.7 650.1L530.8 650.2L531.0 652.2L531.1 651.9L531.2 651.1L531.3 650.6L531.4 650.2L531.6 650.3L531.7 649.8L531.8 649.6L532.0 650.1L532.0 649.9L532.2 650.7L532.3 651.1L532.5 651.9L532.5 651.8L532.7 653.5L532.8 654.1L533.0 653.3L533.0 653.2L533.2 651.5L533.3 651.2L533.4 651.8L533.5 651.8L533.7 650.7L533.8 651.2L533.9 650.8L534.0 651.1L534.1 650.7L534.3 651.3L534.5 651.8L534.7 651.8L534.7 651.4L534.8 651.7L534.9 650.9L535.1 650.9L535.2 651.7L535.3 651.7L535.4 652.9L535.5 652.2L535.7 650.6L535.8 651.2L536.0 650.0L536.1 650.0L536.2 650.7L536.3 650.5L536.5 651.4L536.5 651.2L536.7 651.4L536.8 651.4L536.9 651.3L537.1 651.5L537.2 650.7L537.3 650.5L537.5 651.4L537.5 651.5L537.7 650.6L537.8 650.7L537.9 650.1L538.0 650.3L538.2 651.2L538.4 651.2L538.5 650.6L538.6 650.6L538.7 651.5L538.8 651.8L538.9 652.2L539.0 652.0L539.2 651.6L539.3 651.2L539.5 649.8L539.5 649.8L539.7 649.2L539.8 649.1L540.0 649.7L540.0 649.9L540.2 650.9L540.3 650.9L540.5 651.2L540.5 651.3L540.7 651.7L540.8 651.3L541.0 650.8L541.0 651.5L541.2 652.8L541.3 653.1L541.4 653.4L541.6 652.9L541.7 652.8L541.8 652.6L541.9 651.9L542.0 652.2L542.2 653.0L542.3 652.7L542.5 652.2L542.5 652.0L542.7 649.9L542.8 649.7L542.9 648.7L543.1 649.3L543.2 649.0L543.3 648.8L543.5 648.5L543.5 648.9L543.7 649.4L543.8 649.4L544.0 648.1L544.0 648.1L544.2 649.4L544.3 649.9L544.5 651.2L544.5 651.5L544.7 651.0L544.8 650.5L545.0 648.4L545.1 648.6L545.2 649.8L545.3 650.2L545.3 650.4L545.5 650.1L545.7 651.0L545.8 651.4L546.0 652.7L546.1 653.0L546.2 652.5L546.3 652.2L546.4 651.7L546.5 652.3L546.6 652.7L546.8 652.3L547.0 651.5L547.1 651.8L547.2 651.0L547.3 651.1L547.4 651.5L547.5 651.5L547.6 651.0L547.8 651.6L548.0 650.2L548.0 650.1L548.2 651.4L548.3 651.0L548.5 651.4L548.6 651.7L548.7 652.7L548.8 652.9L548.9 653.3L549.1 653.6L549.2 653.3L549.3 653.1L549.5 651.2L549.5 651.0L549.6 650.3L549.8 651.7L550.0 650.7L550.0 650.4L550.2 649.1L550.4 648.9L550.5 649.3L550.5 649.7L550.7 649.0L550.8 648.7L550.9 648.0L551.0 648.1L551.2 649.0L551.3 649.4L551.4 650.1L551.5 649.6L551.7 648.8L551.8 648.8L551.9 649.2L552.0 649.1L552.2 648.2L552.3 648.2L552.5 648.4L552.5 648.2L552.7 646.4L552.8 646.1L553.0 648.1L553.0 648.3L553.1 648.6L553.3 648.5L553.5 647.8L553.6 648.1L553.7 649.6L553.8 650.1L554.0 649.0L554.1 648.7L554.1 648.1L554.3 648.3L554.4 649.2L554.5 649.2L554.7 648.7L554.8 649.0L555.0 650.4L555.1 650.3L555.2 650.8L555.3 651.0L555.4 651.7L555.5 651.7L555.6 652.1L555.8 651.8L555.9 652.3L556.0 652.8L556.1 653.6L556.3 652.9L556.3 652.6L556.5 652.9L556.7 653.4L556.8 653.1L556.9 652.5L557.0 652.7L557.2 654.0L557.3 653.8L557.5 652.3L557.6 652.2L557.7 652.5L557.8 652.5L557.9 652.2L558.1 652.5L558.1 652.9L558.4 652.2L558.5 653.1L558.5 652.8L558.7 653.4L558.8 653.6L559.0 654.6L559.0 654.5L559.2 655.6L559.3 655.4L559.4 655.1L559.5 655.0L559.7 653.9L559.8 652.8L560.0 653.6L560.1 654.7L560.2 653.6L560.3 653.7L560.4 652.7L560.6 653.4L560.7 653.8L560.8 654.1L561.0 653.0L561.1 653.2L561.2 654.0L561.3 654.5L561.3 654.0L561.5 654.6L561.7 655.2L561.9 655.6L561.9 656.3L562.0 656.1L562.2 655.3L562.3 655.2L562.4 653.8L562.6 654.0L562.7 653.6L562.8 653.5L562.9 652.9L563.1 652.6L563.1 652.0L563.3 651.8L563.5 652.8L563.5 653.2L563.7 654.2L563.8 654.5L564.0 653.4L564.0 653.1L564.2 654.3L564.4 654.2L564.5 654.6L564.5 654.5L564.7 655.4L564.8 655.1L565.0 655.6L565.1 655.7L565.2 655.2L565.4 655.2L565.4 655.0L565.6 654.8L565.7 655.4L565.8 654.6L566.0 653.5L566.0 653.6L566.2 652.7L566.4 652.1L566.5 652.6L566.5 652.9L566.6 653.5L566.8 652.6L566.9 652.1L567.1 652.9L567.2 652.2L567.4 651.4L567.5 652.1L567.5 653.0L567.6 653.5L567.8 653.1L568.0 652.6L568.2 653.1L568.2 653.7L568.3 653.7L568.4 653.5L568.6 653.7L568.7 655.0L568.8 655.4L569.0 656.2L569.0 655.9L569.2 655.1L569.4 654.6L569.5 655.3L569.5 655.2L569.7 657.0L569.8 656.8L570.0 655.0L570.0 654.7L570.2 655.5L570.3 655.2L570.5 654.5L570.5 654.3L570.6 653.9L570.8 654.5L571.0 656.0L571.0 656.4L571.2 655.4L571.3 655.3L571.5 656.0L571.5 656.0L571.7 655.1L571.8 655.1L572.0 655.8L572.0 655.6L572.2 654.8L572.3 654.8L572.5 653.3L572.6 652.8L572.7 653.9L572.8 654.4L572.9 655.2L573.0 655.6L573.2 656.5L573.3 657.0L573.5 658.2L573.5 658.4L573.7 660.0L573.8 660.6L574.0 660.0L574.0 659.7L574.2 659.1L574.3 658.6L574.5 657.8L574.5 657.5L574.7 656.4L574.8 656.0L574.9 655.1L575.0 655.5L575.2 656.8L575.3 657.0L575.5 656.1L575.5 655.9L575.7 656.8L575.8 656.6L575.9 656.3L576.0 656.7L576.2 657.8L576.3 657.3L576.5 658.2L576.7 658.3L576.7 657.6L576.8 657.6L576.9 657.1L577.0 657.3L577.2 657.8L577.3 657.9L577.5 657.3L577.5 656.5L577.7 655.3L577.8 655.1L577.9 655.8L578.0 656.1L578.2 655.4L578.4 655.3L578.5 655.1L578.6 655.0L578.6 654.6L578.8 654.4L579.0 652.6L579.0 652.5L579.2 654.1L579.3 654.8L579.4 655.9L579.5 655.8L579.7 657.0L579.8 657.6L580.0 659.0L580.1 658.8L580.2 658.2L580.3 657.6L580.5 656.9L580.6 656.5L580.7 657.2L580.8 656.9L580.9 657.4L581.1 657.0L581.1 656.6L581.4 656.6L581.4 656.0L581.6 656.4L581.7 655.9L581.8 655.6L582.0 655.3L582.1 655.9L582.2 655.3L582.3 655.1L582.5 654.2L582.5 654.2L582.7 655.0L582.9 655.6L583.0 655.0L583.0 654.7L583.2 654.2L583.3 653.8L583.5 654.5L583.5 654.4L583.6 655.1L583.8 654.3L584.0 653.6L584.1 654.1L584.2 653.6L584.3 653.7L584.5 653.9L584.5 653.9L584.7 655.4L584.8 656.0L585.0 655.0L585.0 654.7L585.2 653.3L585.3 653.6L585.5 652.7L585.6 652.5L585.7 653.2L585.8 653.0L586.0 652.4L586.1 652.3L586.2 651.5L586.3 651.7L586.5 650.5L586.6 650.8L586.7 651.5L586.8 651.8L587.0 652.1L587.0 651.9L587.2 652.3L587.3 652.1L587.5 652.5L587.5 653.0L587.7 653.7L587.8 654.4L588.0 652.7L588.1 651.3L588.2 652.2L588.3 652.0L588.4 652.3L588.7 652.2L588.7 652.6L588.8 652.8L589.0 650.7L589.0 650.0L589.2 648.2L589.3 648.3L589.5 649.4L589.5 649.6L589.7 650.7L589.8 650.4L590.0 649.2L590.0 649.2L590.2 650.5L590.3 651.0L590.4 651.7L590.5 651.1L590.7 650.0L590.8 650.3L590.9 651.0L591.2 651.0L591.2 650.8L591.4 651.0L591.5 650.4L591.6 650.6L591.7 650.9L591.8 650.7L592.0 649.7L592.0 649.5L592.2 650.0L592.4 649.7L592.5 648.9L592.5 648.8L592.7 649.2L592.8 648.8L593.0 649.7L593.0 649.6L593.2 650.6L593.3 650.7L593.4 651.3L593.5 650.8L593.6 650.3L593.8 650.6L593.9 651.2L594.0 650.9L594.2 650.0L594.3 650.6L594.4 650.0L594.5 650.3L594.7 651.6L594.8 651.8L595.0 650.4L595.0 649.9L595.2 650.4L595.3 650.0L595.5 648.8L595.6 648.2L595.7 647.5L595.8 647.1L596.0 646.9L596.0 647.1L596.2 647.9L596.3 647.4L596.5 646.4L596.5 646.5L596.7 648.5L596.8 648.5L597.0 647.9L597.1 648.2L597.2 647.6L597.3 647.8L597.4 647.2L597.5 647.6L597.7 648.6L597.8 648.6L598.0 649.1L598.0 648.8L598.2 648.0L598.3 647.8L598.4 648.4L598.5 648.6L598.7 650.0L598.8 650.6L599.0 652.0L599.1 651.9L599.2 651.0L599.3 651.1L599.5 650.2L599.5 650.3L599.7 648.9L599.8 649.3L600.0 649.0L600.1 648.9L600.2 649.7L600.3 649.7L600.5 651.1L600.5 651.3L600.7 652.8L600.8 652.8L600.9 653.5L601.1 653.2L601.2 653.8L601.3 653.6L601.5 654.0L601.5 654.1L601.7 654.9L601.8 654.8L602.0 654.3L602.0 654.6L602.2 654.4L602.3 653.7L602.5 652.4L602.5 652.5L602.7 652.9L602.8 652.3L602.9 651.7L603.1 652.1L603.2 652.8L603.3 652.6L603.5 651.1L603.6 651.2L603.7 651.6L603.8 652.1L604.0 652.4L604.1 652.3L604.2 651.2L604.3 650.8L604.5 650.0L604.7 650.0L604.7 650.5L604.8 650.9L604.9 651.8L605.0 652.0L605.2 651.3L605.4 651.5L605.5 650.9L605.5 650.8L605.6 650.3L605.8 650.6L606.0 650.2L606.0 650.1L606.2 650.8L606.3 650.9L606.5 651.8L606.6 651.8L606.7 651.4L606.8 651.0L606.9 651.5L607.2 650.9L607.2 651.6L607.3 651.8L607.5 651.0L607.5 650.6L607.7 648.8L607.8 648.6L607.9 649.4L608.1 648.8L608.2 649.2L608.3 649.5L608.5 648.8L608.5 648.8L608.7 648.5L608.8 649.0L609.0 648.4L609.0 648.1L609.2 647.3L609.3 647.6L609.5 647.0L609.6 647.1L609.7 648.1L609.8 648.2L610.0 647.9L610.0 648.0L610.1 648.4L610.4 648.3L610.5 649.1L610.5 648.9L610.7 647.4L610.8 646.9L611.0 647.3L611.0 647.0L611.2 644.8L611.3 644.8L611.5 645.6L611.6 645.7L611.7 646.0L611.8 645.8L611.9 646.1L612.0 646.2L612.2 647.3L612.3 647.8L612.4 648.9L612.5 648.3L612.7 646.9L612.8 646.7L612.8 647.2L613.1 647.0L613.2 646.4L613.3 646.0L613.5 646.6L613.5 647.0L613.7 647.8L613.8 647.5L614.0 646.9L614.1 646.9L614.2 646.0L614.3 645.2L614.5 644.5L614.6 644.4L614.7 643.4L614.8 643.0L615.0 642.6L615.1 643.2L615.2 642.5L615.3 642.9L615.5 642.3L615.5 642.6L615.7 643.7L615.9 643.7L615.9 644.2L616.0 644.4L616.2 645.5L616.3 645.2L616.5 644.0L616.5 643.6L616.7 644.1L616.8 643.6L617.0 643.3L617.2 643.5L617.2 643.0L617.3 643.0L617.5 641.8L617.5 641.4L617.6 640.3L617.8 642.0L617.9 643.7L618.0 643.5L618.2 642.6L618.4 642.0L618.5 642.7L618.6 642.7L618.7 641.9L618.9 641.6L619.0 642.5L619.0 642.3L619.2 643.6L619.3 643.7L619.4 644.1L619.5 643.9L619.7 644.5L619.8 644.1L620.0 642.6L620.0 642.7L620.1 642.0L620.3 642.5L620.5 641.5L620.6 640.9L620.7 641.7L620.8 642.2L621.0 642.6L621.0 642.6L621.2 642.0L621.3 642.0L621.5 641.6L621.5 641.9L621.7 641.1L621.8 641.4L621.9 640.9L622.0 641.6L622.2 642.2L622.3 641.8L622.3 641.5L622.5 642.5L622.6 642.9L622.8 642.4L623.0 641.8L623.2 641.6L623.2 641.2L623.3 641.2L623.5 642.2L623.5 642.5L623.7 641.6L623.8 642.0L624.0 643.5L624.0 643.5L624.2 642.6L624.3 643.3L624.5 644.2L624.5 644.4L624.6 643.6L624.8 644.3L624.8 644.1L625.2 643.9L625.2 643.1L625.3 642.8L625.4 641.8L625.5 641.9L625.7 643.1L625.8 643.1L625.9 643.6L626.1 643.1L626.2 642.4L626.3 642.0L626.5 642.8L626.5 643.0L626.6 643.6L626.9 642.8L627.0 643.0L627.0 642.8L627.1 643.5L627.3 643.8L627.5 643.1L627.5 643.5L627.7 644.7L627.8 645.1L628.0 644.5L628.0 644.0L628.2 644.7L628.3 644.7L628.4 645.2L628.5 645.6L628.7 646.0L628.8 646.1L628.9 647.4L629.0 647.4L629.2 646.5L629.3 646.2L629.5 645.3L629.5 645.2L629.6 645.5L629.8 645.7L629.8 645.3L630.0 645.1L630.2 645.6L630.3 646.0L630.4 645.4L630.5 645.1L630.6 644.5L630.8 644.7L631.0 644.2L631.0 644.0L631.2 645.1L631.4 645.7L631.5 645.5L631.5 644.9L631.7 644.4L631.8 644.2L632.0 644.8L632.1 644.2L632.1 644.4L632.3 644.1L632.4 644.4L632.5 644.6L632.7 645.7L632.8 646.2L633.0 647.4L633.0 647.9L633.2 648.8L633.4 648.1L633.4 648.8L633.6 648.6L633.7 649.0L633.9 648.5L634.0 647.5L634.0 647.3L634.2 646.4L634.3 646.4L634.3 646.0L634.5 646.1L634.6 646.5L634.8 646.2L635.0 645.2L635.0 644.9L635.1 644.0L635.3 644.1L635.4 644.5L635.6 644.2L635.7 643.6L635.8 643.7L636.0 644.0L636.1 644.0L636.2 643.3L636.4 643.6L636.5 644.0L636.7 643.8L636.7 643.4L636.9 643.3L637.0 644.0L637.0 643.7L637.2 642.8L637.3 643.3L637.4 644.1L637.5 643.8L637.7 644.1L637.8 643.9L638.0 644.6L638.2 644.3L638.2 644.7L638.3 645.0L638.5 644.2L638.5 644.0L638.7 643.4L638.8 642.7L639.0 642.2L639.1 642.3L639.2 642.0L639.3 641.6L639.4 641.1L639.5 641.4L639.7 642.2L639.8 641.3L639.9 641.8L640.0 642.5L640.2 642.8L640.3 642.7L640.5 643.0L640.5 643.1L640.7 641.7L640.8 641.6L640.9 640.8L641.2 641.6L641.2 641.4L641.3 641.1L641.5 640.1L641.5 640.0L641.7 638.8L641.8 638.4L641.8 638.1L642.1 638.7L642.2 638.3L642.3 638.2L642.5 638.7L642.5 638.7L642.7 639.6L642.8 639.6L643.0 639.0L643.0 638.7L643.1 638.2L643.3 638.7L643.4 639.5L643.5 639.2L643.7 638.8L643.9 638.8L644.0 639.1L644.0 639.2L644.2 640.0L644.3 640.3L644.5 638.8L644.7 638.3L644.7 638.7L644.8 638.8L644.9 639.9L645.0 639.9L645.2 638.7L645.3 638.9L645.5 637.7L645.5 637.5L645.7 637.2L645.8 637.4L645.9 637.1L646.0 636.9L646.2 636.3L646.3 636.0L646.5 636.5L646.5 636.5L646.7 637.1L646.8 637.2L647.0 637.4L647.0 637.3L647.1 637.9L647.3 638.0L647.5 637.5L647.6 637.3L647.7 638.2L647.8 638.3L648.0 636.7L648.1 636.6L648.2 637.0L648.3 636.9L648.5 636.1L648.5 636.1L648.7 637.1L648.8 636.4L649.0 635.3L649.0 635.2L649.2 634.3L649.3 634.6L649.5 634.9L649.5 634.9L649.7 634.4L649.8 634.7L649.9 635.2L650.0 634.9L650.2 633.5L650.3 633.5L650.4 633.7L650.7 634.4L650.7 633.9L650.8 634.1L651.0 633.8L651.2 633.9L651.2 634.2L651.3 634.7L651.4 635.3L651.5 635.2L651.7 634.7L651.8 634.5L651.9 634.8L652.1 635.0L652.2 635.4L652.3 634.6L652.4 634.0L652.5 634.0L652.7 634.3L652.8 634.3L652.9 635.4L653.0 635.5L653.2 634.5L653.3 634.8L653.5 635.9L653.5 636.1L653.6 635.7L653.8 635.6L654.0 634.9L654.1 634.2L654.1 634.6L654.3 634.8L654.4 634.4L654.5 634.2L654.7 635.8L654.8 636.4L655.0 637.7L655.0 637.5L655.2 636.8L655.3 636.3L655.5 635.7L655.5 636.2L655.7 635.5L655.8 635.3L656.0 636.4L656.0 637.0L656.2 637.6L656.3 638.1L656.5 637.4L656.5 637.6L656.7 638.4L656.8 638.0L656.9 637.7L657.0 637.7L657.2 637.0L657.3 636.4L657.5 636.9L657.5 637.6L657.7 637.2L657.9 637.2L658.0 637.5L658.1 637.5L658.2 637.9L658.3 638.3L658.4 640.2L658.6 640.7L658.7 639.8L658.8 639.7L658.9 638.9L659.1 639.8L659.2 639.4L659.3 639.6L659.5 640.3L659.5 640.1L659.7 639.1L659.8 639.4L660.0 640.1L660.0 639.8L660.1 640.2L660.3 640.4L660.4 641.3L660.5 641.2L660.7 640.8L660.8 640.9L661.0 641.6L661.0 641.8L661.1 641.6L661.3 641.3L661.5 642.4L661.5 642.3L661.7 643.6L661.8 642.6L662.0 641.7L662.1 641.7L662.2 643.8L662.4 644.3L662.5 643.9L662.5 643.9L662.7 644.2L662.8 643.7L663.0 644.8L663.1 645.2L663.2 644.4L663.3 644.1L663.4 643.6L663.5 644.6L663.7 645.4L663.8 645.4L664.0 646.8L664.0 646.7L664.1 647.6L664.3 647.3L664.3 647.0L664.6 647.1L664.7 647.8L664.8 647.7L664.9 648.3L665.0 648.8L665.2 649.9L665.3 650.2L665.4 650.0L665.5 650.0L665.7 651.4L665.9 650.9L666.0 651.4L666.0 651.3L666.1 651.8L666.4 651.1L666.5 651.8L666.6 651.8L666.7 651.4L666.9 651.7L667.0 651.4L667.0 651.3L667.1 650.6L667.3 651.1L667.5 652.5L667.5 652.7L667.7 652.3L667.8 652.1L667.9 652.6L668.0 652.4L668.2 653.6L668.3 654.3L668.5 655.8L668.6 656.6L668.7 656.0L668.8 656.1L669.0 657.2L669.1 656.9L669.2 657.3L669.3 656.9L669.5 655.7L669.6 655.2L669.7 656.5L669.8 656.7L669.9 657.1L670.0 656.8L670.2 657.8L670.3 658.3L670.5 657.6L670.6 658.0L670.6 657.4L670.9 657.5L671.0 657.1L671.1 656.9L671.1 656.6L671.3 656.7L671.5 656.1L671.5 656.3L671.7 658.0L671.8 658.6L671.9 659.4L672.2 658.5L672.2 659.1L672.3 658.6L672.4 659.1L672.6 658.8L672.7 658.3L672.8 658.5L673.0 659.1L673.0 659.1L673.2 658.3L673.3 658.8L673.4 659.6L673.6 659.3L673.7 659.8L673.8 660.2L673.9 661.3L674.1 661.2L674.2 660.6L674.3 660.8L674.5 659.8L674.5 659.6L674.7 659.3L674.8 659.9L675.0 659.2L675.0 659.4L675.2 658.5L675.3 658.9L675.5 659.2L675.6 659.3L675.7 659.5L675.8 659.4L675.9 658.6L676.0 658.6L676.2 657.5L676.3 657.1L676.5 656.1L676.5 656.4L676.7 657.3L676.8 657.3L676.9 656.8L677.2 658.0L677.2 657.4L677.3 656.8L677.5 656.0L677.5 656.2L677.7 658.5L677.8 658.4L678.0 656.7L678.0 656.6L678.2 657.4L678.3 657.8L678.4 657.2L678.6 657.4L678.7 658.1L678.9 658.6L679.0 658.1L679.0 657.5L679.2 655.8L679.3 655.4L679.5 656.8L679.5 656.7L679.7 657.3L679.8 656.8L680.0 654.9L680.1 654.3L680.2 654.7L680.3 654.9L680.5 655.5L680.5 655.7L680.7 655.3L680.8 655.5L681.0 654.7L681.0 654.8L681.2 655.5L681.3 655.0L681.4 655.6L681.6 655.2L681.7 653.9L681.9 653.5L682.0 654.1L682.1 654.3L682.2 653.7L682.3 653.1L682.5 653.6L682.5 653.6L682.7 653.9L682.8 653.6L683.0 654.1L683.1 653.4L683.2 652.4L683.4 653.3L683.4 652.6L683.5 652.3L683.6 652.8L683.8 652.1L684.0 651.4L684.1 651.5L684.2 652.0L684.3 652.0L684.3 651.4L684.5 652.0L684.6 652.7L684.8 651.0L685.0 649.9L685.0 649.7L685.2 649.4L685.3 649.7L685.5 652.0L685.5 652.2L685.7 650.5L685.9 650.3L685.9 650.9L686.0 651.0L686.1 651.6L686.3 651.7L686.5 651.0L686.6 650.6L686.7 651.1L686.8 651.3L686.9 650.8L687.1 650.7L687.2 650.1L687.3 650.0L687.5 649.2L687.6 648.8L687.7 648.0L687.8 648.1L687.9 648.6L688.0 647.8L688.2 646.5L688.3 646.2L688.5 646.8L688.5 647.2L688.7 648.4L688.8 648.6L689.0 649.0L689.0 649.4L689.2 650.1L689.4 649.9L689.4 650.2L689.5 650.4L689.7 651.4L689.8 651.1L690.0 650.7L690.1 650.3L690.1 650.6L690.4 650.1L690.5 651.3L690.6 651.8L690.7 650.9L690.8 649.9L690.9 648.7L691.0 648.3L691.2 649.7L691.3 649.9L691.4 651.3L691.5 651.4L691.6 651.9L691.8 651.7L691.9 651.9L692.0 651.7L692.2 650.9L692.3 650.9L692.5 651.7L692.6 651.5L692.7 652.2L692.8 651.9L693.0 651.2L693.0 650.7L693.2 650.3L693.3 650.0L693.5 650.8L693.5 651.1L693.7 652.4L693.8 653.0L693.9 653.8L694.0 653.5L694.2 654.4L694.4 654.6L694.4 654.4L694.6 654.2L694.6 654.6L694.8 654.3L695.0 655.6L695.2 656.2L695.2 655.7L695.3 656.0L695.5 656.8L695.7 657.2L695.7 656.4L695.8 656.7L695.9 656.4L696.2 657.8L696.2 657.4L696.3 657.1L696.5 655.5L696.6 655.4L696.7 655.8L696.9 656.3L697.0 655.8L697.1 655.4L697.2 654.9L697.3 655.0L697.5 656.3L697.6 656.6L697.7 656.8L697.9 656.7L697.9 656.4L698.1 656.2L698.2 656.6L698.3 656.7L698.5 656.1L698.6 656.2L698.7 655.6L698.8 655.5L699.0 656.7L699.0 656.9L699.1 657.4L699.3 657.1L699.4 656.5L699.6 657.4L699.7 658.2L699.8 658.2L699.9 658.4L700.0 658.7L700.2 659.7L700.3 660.0L700.5 658.9L700.5 659.1L700.6 659.4L700.8 659.0L701.0 659.9L701.0 659.9L701.2 661.4L701.3 661.5L701.5 660.2L701.5 660.3L701.6 660.0L701.8 660.2L701.9 659.2L702.0 659.2L702.2 660.2L702.3 660.4L702.5 659.2L702.5 658.6L702.7 659.1L702.8 658.9L703.0 657.9L703.0 658.1L703.2 658.4L703.3 657.8L703.5 658.1L703.6 658.6L703.7 657.7L703.8 657.6L704.0 659.5L704.0 659.7L704.2 660.1L704.4 660.0L704.5 658.9L704.5 658.6L704.6 658.2L704.8 659.5L705.0 660.3L705.0 660.2L705.2 660.6L705.3 661.0L705.5 662.0L705.5 661.9L705.7 660.4L705.8 660.2L705.8 659.9L706.1 660.2L706.2 659.8L706.3 660.2L706.5 659.5L706.5 659.4L706.7 659.8L706.8 659.5L706.9 660.2L707.1 660.5L707.2 659.8L707.4 659.2L707.4 659.5L707.7 659.9L707.7 659.5L707.9 659.6L708.0 659.0L708.1 659.5L708.2 659.1L708.3 659.0L708.5 657.2L708.6 656.9L708.7 657.5L708.8 657.6L708.9 657.2L709.1 657.5L709.2 657.1L709.3 657.3L709.4 657.5L709.5 657.7L709.7 657.2L709.8 657.4L710.0 658.7L710.0 658.6L710.2 659.5L710.3 659.1L710.5 658.0L710.6 658.2L710.7 658.7L710.8 659.1L711.0 660.0L711.0 660.3L711.2 659.5L711.3 659.3L711.5 658.9L711.5 658.7L711.7 657.1L711.8 656.8L712.0 655.5L712.0 655.3L712.2 656.7L712.3 657.1L712.4 657.9L712.5 657.9L712.7 657.0L712.8 657.5L713.0 659.6L713.0 659.5L713.2 658.4L713.3 658.3L713.4 658.8L713.6 658.8L713.7 658.3L713.9 657.7L714.0 658.3L714.0 658.4L714.2 660.0L714.3 659.8L714.5 658.7L714.5 658.6L714.7 660.0L714.9 660.5L715.0 659.5L715.0 659.4L715.2 658.4L715.3 658.8L715.5 658.3L715.5 658.2L715.6 657.9L715.9 658.5L716.0 657.3L716.1 656.5L716.2 657.4L716.3 657.4L716.4 657.6L716.6 657.3L716.7 657.5L716.8 658.3L717.0 659.2L717.0 658.6L717.1 659.3L717.3 658.7L717.4 659.4L717.6 659.6L717.7 658.9L717.8 658.5L717.9 657.8L718.0 658.5L718.2 659.5L718.3 659.3L718.5 658.8L718.6 658.1L718.7 658.4L718.8 658.5L719.0 657.5L719.1 657.7L719.2 656.4L719.3 655.6L719.5 655.0L719.5 655.1L719.7 655.8L719.8 655.2L720.0 653.7L720.0 654.3L720.2 653.6L720.3 653.6L720.4 654.9L720.5 655.2L720.7 655.8L720.8 655.7L720.8 655.3L721.0 655.3L721.2 656.1L721.3 656.2L721.5 655.5L721.5 655.3L721.7 656.0L721.8 656.0L721.9 656.4L722.0 656.3L722.2 655.7L722.3 655.9L722.4 655.5L722.6 655.5L722.7 656.2L722.8 656.0L722.9 656.3L723.0 656.1L723.2 656.4L723.3 656.2L723.3 655.5L723.6 655.3L723.7 655.8L723.8 655.3L724.0 654.4L724.0 654.2L724.2 655.4L724.3 655.3L724.5 654.7L724.6 654.7L724.7 654.2L724.8 654.2L725.0 653.2L725.0 653.2L725.2 653.5L725.3 653.5L725.3 653.2L725.5 654.0L725.6 653.5L725.8 653.7L726.0 654.4L726.0 654.6L726.2 653.5L726.3 653.5L726.5 654.3L726.5 654.5L726.7 654.9L726.8 654.9L727.0 653.5L727.1 652.8L727.2 653.5L727.3 654.3L727.5 653.6L727.6 653.4L727.7 654.2L727.8 655.1L728.0 654.3L728.1 653.9L728.2 652.5L728.3 652.5L728.5 652.9L728.5 653.4L728.7 654.3L728.8 653.9L729.0 652.3L729.0 652.0L729.2 653.0L729.3 653.2L729.5 651.9L729.6 651.1L729.7 651.6L729.8 652.0L729.9 652.5L730.2 651.8L730.2 652.2L730.3 652.5L730.4 653.5L730.5 653.4L730.7 651.6L730.8 650.6L731.0 649.4L731.2 648.8L731.2 649.3L731.3 649.5L731.5 648.9L731.5 648.9L731.7 650.5L731.8 650.6L731.8 651.2L732.0 650.8L732.2 650.1L732.3 649.7L732.5 650.1L732.6 649.4L732.7 648.7L732.8 648.4L733.0 649.3L733.1 649.4L733.2 648.6L733.3 648.2L733.4 647.6L733.5 648.2L733.7 649.5L733.8 649.7L734.0 651.4L734.0 651.4L734.2 650.1L734.3 650.3L734.3 649.8L734.5 649.9L734.7 650.2L734.8 649.9L734.9 650.1L735.0 650.3L735.2 651.3L735.3 651.7L735.4 651.3L735.5 651.2L735.6 650.5L735.8 650.9L735.9 651.6L736.0 651.6L736.2 652.2L736.3 652.4L736.5 653.4L736.7 654.1L736.7 653.5L736.8 653.2L737.0 651.9L737.1 652.1L737.2 651.5L737.3 651.9L737.4 652.9L737.5 652.7L737.7 653.2L737.8 653.3L738.0 652.5L738.0 652.3L738.2 651.1L738.3 651.3L738.4 650.7L738.6 650.9L738.6 650.2L738.9 650.4L739.0 651.4L739.0 651.3L739.2 652.2L739.3 651.7L739.4 651.1L739.5 651.1L739.6 651.7L739.8 651.5L739.9 650.3L740.0 650.7L740.2 651.7L740.3 651.7L740.3 651.9L740.6 651.8L740.7 652.2L740.8 652.1L740.9 651.5L741.0 651.5L741.2 650.7L741.3 650.9L741.4 651.2L741.5 650.7L741.7 649.8L741.8 649.9L742.0 649.5L742.0 649.6L742.2 650.5L742.3 651.2L742.4 652.7L742.5 652.5L742.7 651.3L742.8 651.2L743.0 652.6L743.1 653.0L743.1 652.6L743.3 652.5L743.3 653.3L743.6 653.7L743.7 653.3L743.9 652.6L744.0 653.4L744.2 654.1L744.2 653.3L744.3 652.7L744.5 651.3L744.5 651.4L744.7 650.8L744.8 651.0L745.0 651.2L745.1 651.5L745.2 651.3L745.4 650.9L745.5 651.4L745.6 651.0L745.7 651.2L745.8 651.2L746.0 650.0L746.0 650.0L746.2 650.2L746.3 650.6L746.5 651.5L746.6 651.9L746.7 651.3L746.8 650.5L747.0 649.2L747.1 649.5L747.2 648.5L747.3 648.9L747.4 649.7L747.5 650.1L747.7 649.3L747.9 648.9L748.0 650.2L748.1 650.2L748.2 649.8L748.3 649.8L748.5 650.4L748.6 650.9L748.7 650.5L748.8 650.3L749.0 648.8L749.0 648.4L749.2 647.2L749.3 647.2L749.5 645.3L749.5 645.4L749.7 643.8L749.8 644.5L750.0 645.6L750.0 645.4L750.2 645.0L750.3 645.5L750.4 645.9L750.6 645.3L750.7 646.1L750.8 645.8L751.0 645.3L751.0 645.2L751.2 644.2L751.4 644.2L751.5 643.7L751.5 644.1L751.7 643.0L751.8 642.7L751.9 642.1L752.0 642.2L752.2 641.2L752.3 641.4L752.5 641.2L752.5 641.4L752.7 640.2L752.8 640.2L752.8 640.0L753.0 640.5L753.2 641.0L753.4 641.1L753.4 640.8L753.5 640.9L753.7 640.4L753.8 640.6L753.9 640.3L754.1 640.5L754.2 641.1L754.4 641.0L754.5 640.7L754.6 640.7L754.7 641.6L754.8 641.6L754.9 642.3L755.1 641.7L755.2 641.1L755.3 641.6L755.5 642.0L755.5 641.9L755.7 640.5L755.8 640.3L755.9 639.2L756.0 639.5L756.2 640.0L756.4 639.8L756.4 639.5L756.5 639.6L756.7 638.7L756.8 638.5L756.9 637.3L757.0 637.2L757.2 638.1L757.3 638.8L757.5 638.3L757.5 638.2L757.7 637.5L757.8 637.6L757.9 638.4L758.1 638.1L758.2 637.5L758.3 637.4L758.5 638.6L758.7 638.9L758.7 638.7L758.8 638.6L759.0 638.8L759.0 639.0L759.2 640.8L759.3 641.1L759.4 641.7L759.6 642.1L759.7 641.4L759.8 641.3L760.0 640.5L760.0 640.5L760.1 640.8L760.3 640.7L760.4 639.9L760.6 639.8L760.7 640.7L760.8 640.8L761.0 639.8L761.0 639.5L761.2 638.8L761.3 638.8L761.4 638.3L761.6 638.3L761.7 637.8L761.9 637.8L761.9 637.1L762.1 637.4L762.2 636.9L762.4 637.1L762.5 637.5L762.5 637.6L762.7 636.7L762.8 636.7L763.0 636.0L763.0 635.2L763.2 633.3L763.3 633.1L763.5 632.2L763.5 631.6L763.7 630.9L763.8 630.7L764.0 628.7L764.1 627.4L764.2 628.4L764.3 628.5L764.5 627.4L764.5 626.8L764.7 624.2L764.8 623.4L765.0 621.6L765.0 621.3L765.2 619.5L765.3 619.4L765.5 618.0L765.5 617.4L765.6 616.3L765.8 616.4L766.0 615.6L766.1 615.8L766.2 615.2L766.3 614.6L766.5 612.7L766.5 612.5L766.7 611.9L766.8 611.5L767.0 610.9L767.0 610.7L767.2 608.3L767.3 608.2L767.5 606.3L767.5 606.3L767.7 603.3L767.8 602.9L768.0 600.4L768.0 599.8L768.2 596.6L768.3 595.7L768.5 592.7L768.5 592.1L768.7 589.5L768.8 589.2L769.0 586.1L769.0 585.3L769.2 581.5L769.3 581.0L769.5 578.4L769.5 577.7L769.7 572.3L769.8 571.3L770.0 568.3L770.0 567.7L770.2 565.0L770.3 564.2L770.5 559.9L770.5 557.1L770.7 546.6L770.8 543.9L771.0 532.6L771.0 530.3L771.2 521.9L771.3 521.3L771.5 518.6L771.5 518.1L771.7 513.3L771.8 511.7L772.0 506.5L772.0 505.7L772.2 501.9L772.3 500.9L772.5 496.7L772.5 496.1L772.7 491.1L772.8 489.7L772.9 486.1L773.0 484.7L773.2 480.2L773.3 479.0L773.5 475.6L773.5 474.8L773.7 470.8L773.8 469.4L774.0 464.7L774.0 463.4L774.2 458.1L774.3 456.8L774.5 451.9L774.5 450.4L774.7 446.4L774.8 445.4L775.0 443.9L775.1 443.8L775.2 442.4L775.3 442.5L775.3 699.3L775.5 698.5L775.6 698.5L775.7 697.5L775.8 697.5L776.0 696.8L776.1 696.6L776.2 695.5L776.3 694.5L776.5 688.6L776.5 686.7L776.7 679.3L776.8 677.7L777.0 671.6L777.0 670.2L777.2 663.3L777.3 661.5L777.5 654.9L777.5 653.4L777.7 647.5L777.8 646.1L778.0 641.0L778.0 639.8L778.2 633.9L778.3 632.7L778.5 626.7L778.5 625.5L778.7 621.9L778.8 620.8L779.0 616.5L779.0 615.9L779.2 612.2L779.3 611.0L779.5 606.4L779.5 604.7L779.7 599.9L779.8 598.5L780.0 594.1L780.0 594.3L780.2 587.5L780.3 587.8L780.5 581.7L780.5 581.7L780.7 579.1L780.8 578.8L781.0 573.6L781.0 573.4L781.2 568.9L781.3 568.5L781.5 567.6L781.5 568.6L781.7 572.7L781.7 572.4L781.8 574.8L781.9 570.2L782.0 574.6L782.0 571.7L782.2 577.2L782.3 574.5L782.5 578.0L782.6 580.9L782.7 578.2L782.8 579.6L782.9 577.4L782.9 582.8L783.0 580.5L783.0 584.2L783.1 580.7L783.2 583.0L783.3 582.1L783.5 588.2L783.5 586.5L783.6 585.3L783.7 592.5L783.8 591.1L783.9 589.5L784.0 592.7L784.0 593.4L784.2 594.2L784.2 591.2L784.3 598.8L784.3 591.7L784.5 599.0L784.5 597.4L784.6 595.6L784.7 602.6L784.8 597.2L784.9 604.5L785.0 603.7L785.0 599.0L785.1 599.0L785.2 605.1L785.3 600.9L785.3 593.8L785.5 604.4L785.5 601.7L785.6 612.7L785.7 597.4L785.9 602.5L786.0 605.3L786.0 609.4L786.2 611.6L786.2 603.3L786.3 613.1L786.3 603.3L786.5 618.9L786.5 619.2L786.6 613.0L786.7 620.0L786.7 615.9L786.8 618.1L786.9 613.2L787.0 622.0L787.0 622.9L787.2 630.4L787.3 628.8L787.4 615.5L787.5 636.2L787.5 630.1L787.6 634.7L787.7 607.2L787.7 634.1L787.8 630.4L787.9 636.6L788.0 635.7L788.0 619.2L788.1 610.8L788.2 652.9L788.2 637.4L788.3 630.4L788.3 640.4L788.5 630.2L788.5 630.8L788.7 668.2L788.8 663.0L788.9 466.7L789.0 682.1L789.0 673.3L789.2 642.7L789.3 673.1L789.3 624.9L789.5 661.1L789.5 688.9L789.7 699.2L789.7 648.2L789.8 682.2L790.0 447.3L790.0 662.5L790.2 669.2L790.2 653.1L790.3 642.3L790.4 608.5L790.4 647.2L790.5 633.9L790.5 689.1L790.7 697.7L790.7 445.3L790.8 449.8L790.8 690.6L791.0 688.0L791.0 447.2L791.2 446.4L791.2 675.0L791.3 689.9L791.4 462.8L791.5 693.3L791.5 444.1L791.7 684.1L791.8 656.6L791.8 646.5L791.9 693.6L792.0 676.8L792.0 445.8L792.1 681.6L792.2 461.7L792.3 445.8L792.3 651.8L792.5 498.8L792.5 689.4L792.6 568.7L792.7 615.3L792.8 650.5L792.9 456.9L793.0 663.3L793.0 682.1L793.1 684.3L793.2 643.7L793.3 635.0L793.4 697.8L793.5 450.2L793.5 602.0L793.6 697.8L793.7 461.0L793.7 550.0L793.8 661.5L793.9 691.8L794.0 452.9L794.0 458.3L794.1 687.8L794.2 450.5L794.2 649.4L794.3 686.4L794.4 690.3L794.4 465.0L794.5 664.7L794.5 484.4L794.6 682.2L794.7 653.9L794.8 454.6L795.0 683.4L795.0 615.0L795.1 686.8L795.1 450.8L795.2 602.9L795.3 496.1L795.3 689.7L795.5 626.9L795.5 658.5L795.6 450.7L795.7 696.8L795.8 652.7L795.9 690.0L796.0 461.7L796.0 598.0L796.2 449.1L796.2 685.8L796.3 684.5L796.3 445.5L796.4 686.1L796.5 489.2L796.5 459.1L796.7 685.1L796.7 451.1L796.8 600.8L796.9 446.8L796.9 688.8L797.0 607.6L797.0 456.6L797.1 681.0L797.1 447.9L797.2 630.8L797.3 673.8L797.3 444.2L797.5 595.5L797.5 449.2L797.7 654.7L797.7 501.5L797.8 693.0L797.8 448.8L798.0 640.3L798.0 546.6L798.1 487.8L798.1 560.6L798.2 491.7L798.3 500.4L798.4 636.7L798.5 474.5L798.5 542.9L798.6 448.7L798.7 692.5L798.7 517.4L798.8 558.0L798.8 447.1L798.9 681.6L799.0 674.1L799.0 657.4L799.2 456.5L799.2 669.8L799.3 497.1L799.3 453.3L799.4 663.8L799.5 500.5L799.5 478.2L799.6 693.6L799.7 457.8L799.8 448.6L800.0 699.6L800.0 697.5L800.2 458.4L800.2 481.6L800.3 571.6L800.4 696.7L800.5 443.0L800.5 462.9L800.6 445.2L800.7 699.5L800.8 460.8L801.0 683.2L801.0 684.9L801.2 459.9L801.3 696.1L801.4 449.7L801.5 694.6L801.5 570.3L801.7 557.8L801.7 612.4L801.8 667.7L801.8 688.1L801.9 519.9L802.0 688.0L802.0 491.3L802.1 585.0L802.1 462.4L802.2 508.6L802.3 678.4L802.3 458.1L802.5 536.1L802.5 646.0L802.6 445.5L802.7 667.0L802.7 462.6L802.8 481.0L802.9 649.0L803.0 520.3L803.0 615.4L803.1 474.3L803.2 648.9L803.3 485.1L803.4 660.0L803.5 614.4L803.5 677.9L803.6 468.5L803.7 643.5L803.8 501.7L803.9 470.6L804.0 519.2L804.0 506.7L804.1 454.1L804.2 457.5L804.3 696.2L804.4 443.2L804.5 456.5L804.5 460.4L804.6 572.9L804.7 442.6L804.7 445.5L804.8 669.6L804.9 698.5L805.0 479.1L805.0 607.8L805.1 442.6L805.2 696.6L805.3 467.1L805.3 666.4L805.4 450.6L805.5 497.4L805.6 515.3L805.7 445.7L805.8 453.3L806.0 687.1L806.0 598.9L806.1 554.8L806.2 696.8L806.2 648.0L806.3 576.8L806.3 461.9L806.4 693.0L806.5 531.9L806.5 507.3L806.6 693.8L806.7 503.3L806.7 677.0L806.8 535.2L806.9 662.2L807.0 647.6L807.0 516.1L807.2 460.2L807.2 476.0L807.3 476.6L807.4 679.7L807.5 679.1L807.5 679.1L807.6 445.4L807.7 639.5L807.8 690.9L808.0 542.2L808.0 548.3L808.1 649.9L808.1 519.8L808.2 611.3L808.3 646.6L808.4 639.5L808.5 688.1L808.5 686.2L808.7 517.7L808.8 462.1L808.8 651.6L809.0 575.8L809.0 656.4L809.1 669.1L809.2 507.9L809.2 660.5L809.3 502.9L809.4 570.1L809.5 497.5L809.5 639.8L809.7 466.8L809.7 643.1L809.8 662.4L809.9 610.7L810.0 622.7L810.0 625.8L810.1 655.9L810.2 476.0L810.3 536.4L810.4 696.5L810.5 675.3L810.5 557.3L810.6 455.4L810.7 658.8L810.7 579.3L810.8 690.9L810.9 693.5L811.0 456.9L811.0 615.3L811.1 487.0L811.2 691.3L811.2 545.9L811.3 653.5L811.4 688.1L811.5 443.4L811.5 497.4L811.6 670.1L811.7 443.6L811.7 606.0L811.8 538.0L811.9 684.1L811.9 468.2L812.0 566.0L812.0 476.2L812.2 674.4L812.2 467.9L812.3 484.9L812.4 681.9L812.4 452.1L812.5 504.9L812.5 506.8L812.6 511.3L812.7 501.7L812.8 676.8L812.8 467.9L813.0 504.9L813.0 453.2L813.2 669.5L813.2 553.8L813.3 560.9L813.4 465.5L813.5 663.1L813.5 465.9L813.6 697.6L813.7 443.0L813.7 503.7L813.8 620.0L813.9 668.1L813.9 451.2L814.0 564.2L814.0 562.3L814.1 690.9L814.2 647.0L814.3 666.6L814.3 475.0L814.5 610.5L814.5 484.2L814.6 680.3L814.7 481.1L814.7 481.7L814.8 465.1L815.0 638.0L815.0 638.4L815.1 641.0L815.2 502.6L815.2 627.1L815.3 649.5L815.3 446.7L815.4 681.5L815.5 519.3L815.5 699.1L815.6 539.1L815.7 692.4L815.8 658.9L815.8 690.1L815.9 468.7L816.0 557.0L816.0 459.3L816.1 689.8L816.2 495.7L816.3 630.3L816.4 699.4L816.5 524.3L816.5 466.2L816.6 662.3L816.7 474.5L816.8 499.7L816.8 699.4L816.9 469.0L817.0 472.3L817.0 692.4L817.1 471.3L817.2 549.4L817.3 491.7L817.3 474.5L817.4 670.3L817.5 505.7L817.5 651.2L817.6 447.7L817.7 698.2L817.7 583.9L817.8 682.8L817.9 553.3L818.0 626.2L818.0 594.3L818.1 447.3L818.2 691.9L818.2 657.1L818.3 671.9L818.3 541.7L818.5 692.2L818.5 685.4L818.6 475.0L818.7 676.2L818.8 604.8L818.8 676.6L819.0 454.5L819.0 466.5L819.1 677.9L819.2 538.4L819.3 678.3L819.4 463.1L819.5 697.0L819.5 500.9L819.6 698.9L819.7 671.4L819.8 471.4L819.9 671.9L820.0 546.0L820.0 684.5L820.1 499.8L820.2 548.0L820.3 459.3L820.5 699.3L820.5 540.6L820.6 609.6L820.7 443.3L820.7 488.6L820.8 585.8L821.0 490.0L821.0 620.7L821.1 672.4L821.1 531.0L821.2 578.9L821.3 558.2L821.4 495.3L821.5 646.4L821.5 467.1L821.6 655.7L821.6 458.0L821.7 649.2L821.8 526.7L821.8 641.5L822.0 501.1L822.0 517.6L822.2 673.0L822.3 589.9L822.3 668.8L822.4 485.2L822.5 557.5L822.5 611.5L822.6 692.3L822.7 445.5L822.7 584.8L822.8 695.8L822.9 514.3L823.0 531.3L823.0 551.8L823.1 445.5L823.2 695.2L823.2 651.6L823.3 593.2L823.3 687.8L823.5 595.9L823.5 625.9L823.6 633.2L823.7 497.6L823.8 468.4L824.0 488.0L824.0 675.8L824.1 448.2L824.2 688.1L824.2 668.6L824.3 564.9L824.4 459.7L824.4 598.6L824.5 479.0L824.5 664.3L824.6 528.9L824.7 670.1L824.8 689.8L824.8 456.3L825.0 485.0L825.0 673.2L825.1 695.2L825.2 525.8L825.2 585.0L825.3 527.2L825.4 699.4L825.5 686.4L825.5 589.2L825.6 483.1L825.7 535.7L825.8 473.2L825.9 694.8L826.0 526.8L826.0 668.6L826.1 648.3L826.2 651.5L826.3 644.5L826.4 454.0L826.5 563.8L826.5 477.5L826.6 626.1L826.7 467.6L826.8 679.5L826.8 443.2L826.9 697.7L827.0 673.5L827.0 443.9L827.1 677.7L827.2 572.0L827.3 601.2L827.3 688.0L827.4 449.5L827.5 574.8L827.5 535.0L827.7 642.1L827.8 694.3L828.0 446.5L828.0 545.5L828.1 672.0L828.2 595.9L828.3 458.7L828.5 691.6L828.5 504.5L828.6 648.4L828.7 450.0L828.7 485.7L828.8 655.8L828.9 442.5L829.0 571.8L829.0 570.9L829.1 470.7L829.2 679.9L829.2 529.7L829.3 450.2L829.3 479.4L829.5 456.9L829.5 460.4L829.6 456.1L829.6 677.1L829.7 500.6L829.8 524.0L829.9 683.9L829.9 494.1L830.0 644.7L830.0 600.0L830.1 539.3L830.2 653.4L830.2 624.4L830.3 572.6L830.4 622.4L830.4 457.2L830.5 605.1L830.5 681.8L830.6 491.2L830.7 537.7L830.8 689.3L831.0 454.9L831.0 586.0L831.1 653.9L831.2 520.8L831.2 630.3L831.3 601.1L831.3 672.6L831.4 443.7L831.5 451.0L831.5 667.0L831.6 693.1L831.7 664.4L831.7 679.4L831.8 679.6L831.9 656.2L832.0 656.7L832.0 476.8L832.1 648.8L832.2 447.5L832.3 468.5L832.5 658.6L832.5 584.5L832.6 467.9L832.6 600.5L832.7 592.3L832.8 545.0L832.8 691.6L833.0 450.3L833.0 533.3L833.1 470.4L833.1 675.8L833.2 607.5L833.3 448.1L833.4 683.9L833.5 661.4L833.5 473.8L833.7 449.5L833.7 560.2L833.8 515.0L833.9 654.9L834.0 630.2L834.0 595.6L834.1 551.5L834.2 664.9L834.2 664.0L834.3 658.9L834.3 687.6L834.4 454.7L834.5 660.4L834.5 573.0L834.6 476.1L834.6 621.4L834.7 582.7L834.8 548.2L834.9 450.1L835.0 682.3L835.0 682.8L835.1 683.8L835.2 534.5L835.3 679.2L835.3 533.3L835.5 678.4L835.5 696.6L835.6 515.7L835.7 597.7L835.8 491.9L835.9 639.9L835.9 467.5L836.0 543.6L836.0 589.6L836.2 646.0L836.2 627.7L836.3 488.2L836.4 662.6L836.5 457.9L836.5 520.8L836.7 672.8L836.7 461.1L836.8 655.0L836.9 677.9L837.0 450.9L837.0 513.2L837.1 691.5L837.2 467.2L837.2 559.8L837.3 625.6L837.3 457.6L837.4 629.3L837.5 604.8L837.5 608.4L837.7 680.7L837.8 604.8L837.9 628.3L838.0 442.8L838.0 503.0L838.2 667.0L838.2 446.1L838.3 455.4L838.4 694.5L838.5 662.4L838.5 519.2L838.7 675.4L838.7 602.0L838.8 690.3L838.8 478.2L839.0 519.8L839.0 574.7L839.1 444.0L839.2 663.8L839.2 595.6L839.3 676.3L839.4 680.1L839.5 470.0L839.5 699.2L839.7 451.2L839.7 662.1L839.8 687.6L839.9 448.8L840.0 658.3L840.0 520.5L840.1 455.6L840.1 647.7L840.2 536.3L840.3 676.0L840.3 694.3L840.4 451.5L840.5 658.6L840.5 693.6L840.7 477.2L840.8 656.0L840.9 685.4L841.0 574.3L841.0 540.8L841.2 555.2L841.2 456.0L841.3 565.1L841.4 510.9L841.5 650.7L841.5 517.3L841.7 483.2L841.7 696.7L841.8 453.3L841.9 697.1L842.0 474.4L842.0 671.7L842.1 474.4L842.1 695.5L842.2 671.8L842.3 489.2L842.4 476.5L842.5 689.1L842.5 450.1L842.6 445.5L842.7 678.8L842.8 674.6L842.9 476.1L843.0 483.7L843.0 690.8L843.2 459.6L843.3 475.3L843.4 654.8L843.5 625.6L843.5 622.7L843.7 462.9L843.7 674.8L843.8 469.6L843.8 463.1L843.9 684.7L844.0 499.9L844.0 616.2L844.1 481.1L844.2 657.4L844.2 525.7L844.3 567.2L844.3 446.4L844.4 683.4L844.5 623.6L844.5 688.7L844.7 443.0L844.8 568.2L844.9 442.4L845.0 671.6L845.0 665.5L845.1 503.1L845.2 517.1L845.3 469.8L845.4 697.1L845.5 595.8L845.5 684.1L845.6 454.8L845.7 472.4L845.8 452.1L845.8 451.0L845.9 620.7L846.0 585.1L846.0 475.1L846.1 651.7L846.1 460.1L846.2 472.8L846.3 473.5L846.3 472.9L846.4 667.8L846.5 486.0L846.5 479.8L846.6 685.8L846.7 613.5L846.8 565.3L846.9 496.7L847.0 679.5L847.0 470.1L847.2 619.8L847.2 447.3L847.3 474.4L847.4 675.9L847.5 485.4L847.5 637.1L847.7 449.0L847.8 457.8L848.0 659.9L848.0 479.5L848.1 517.3L848.1 442.4L848.2 442.4L848.3 442.4L848.4 695.8L848.5 452.8L848.5 678.1L848.7 681.0L848.7 476.3L848.8 568.2L848.9 473.0L849.0 686.6L849.0 518.3L849.2 543.1L849.2 483.9L849.3 655.4L849.4 495.3L849.5 692.0L849.5 476.1L849.6 510.8L849.7 479.1L849.8 468.1L849.9 641.0L850.0 448.9L850.0 692.7L850.1 467.2L850.2 567.0L850.3 481.3L850.4 529.7L850.4 453.7L850.5 469.2L850.5 526.4L850.6 446.0L850.7 693.0L850.8 538.3L850.9 476.3L851.0 636.2L851.0 662.9L851.1 479.1L851.2 506.0L851.3 675.5L851.3 448.9L851.4 688.3L851.5 519.5L851.5 450.8L851.7 551.0L851.7 540.3L851.8 462.1L851.9 455.9L852.0 686.3L852.0 573.3L852.2 497.7L852.3 488.9L852.3 682.2L852.5 504.8L852.5 506.4L852.6 612.3L852.6 451.5L852.7 533.8L852.8 479.5L852.9 445.0L852.9 551.7L853.0 472.3L853.0 482.9L853.1 694.0L853.2 532.4L853.3 510.4L853.3 450.8L853.4 597.1L853.5 514.9L853.5 518.4L853.6 505.3L853.7 565.3L853.8 557.2L853.9 501.1L854.0 541.1L854.0 480.6L854.2 638.2L854.2 635.4L854.3 632.0L854.5 549.3L854.5 495.0L854.6 612.3L854.7 500.7L854.8 553.2L854.8 512.1L854.9 588.5L855.0 554.5L855.0 546.3L855.1 533.2L855.1 578.8L855.2 565.7L855.3 684.9L855.4 476.0L855.5 542.0L855.5 616.2L855.7 518.0L855.8 610.9L855.8 669.3L856.0 479.1L856.0 515.3L856.1 503.6L856.2 693.9L856.2 569.7L856.3 513.9L856.3 577.9L856.5 496.1L856.5 601.0L856.6 487.0L856.7 520.0L856.8 540.8L856.9 490.9L856.9 637.4L857.0 524.2L857.0 533.5L857.1 547.6L857.2 546.0L857.3 540.4L857.3 575.3L857.5 490.6L857.5 558.3L857.6 455.9L857.6 571.9L857.7 506.7L857.8 663.8L857.9 504.9L858.0 517.3L858.0 552.3L858.1 593.1L858.2 495.7L858.3 481.5L858.4 682.4L858.5 515.3L858.5 492.4L858.6 642.6L858.7 504.1L858.8 540.3L858.8 552.6L858.9 450.9L859.0 548.6L859.0 555.5L859.1 572.9L859.2 514.4L859.3 504.0L859.3 534.2L859.5 530.0L859.5 532.7L859.6 488.6L859.7 589.8L859.8 564.7L859.9 529.1L859.9 634.5L860.0 569.6L860.0 550.1L860.1 533.8L860.2 684.0L860.2 581.6L860.3 538.3L860.3 663.0L860.4 504.7L860.5 514.8L860.5 577.3L860.7 496.7L860.7 595.0L860.8 581.8L860.8 524.6L860.9 611.7L861.0 526.8L861.0 517.6L861.1 500.6L861.2 576.1L861.2 509.3L861.3 499.7L861.3 613.1L861.5 529.5L861.5 547.7L861.6 587.0L861.7 493.4L861.7 561.1L861.8 563.0L861.9 467.6L862.0 587.2L862.0 518.6L862.2 595.6L862.3 647.1L862.3 511.5L862.5 557.8L862.5 620.3L862.6 509.8L862.7 602.9L862.8 495.5L863.0 683.0L863.0 531.0L863.2 528.8L863.3 581.4L863.3 519.4L863.4 609.0L863.5 541.7L863.5 566.6L863.7 505.4L863.8 542.2L863.9 636.1L864.0 501.3L864.0 556.0L864.1 534.5L864.2 587.7L864.3 527.9L864.4 603.4L864.4 519.7L864.5 560.8L864.5 561.5L864.6 539.7L864.7 666.4L864.8 560.2L864.8 535.4L865.0 674.9L865.0 576.0L865.2 512.2L865.2 521.9L865.3 569.6L865.4 455.0L865.5 468.0L865.5 519.5L865.6 535.5L865.7 510.3L865.8 510.6L865.9 548.8L866.0 547.7L866.0 601.8L866.1 485.9L866.2 541.8L866.3 602.5L866.3 681.0L866.5 477.2L866.5 495.3L866.6 583.2L866.7 529.1L866.8 605.3L866.9 495.0L867.0 510.8L867.0 526.4L867.2 563.6L867.2 509.9L867.3 541.6L867.3 495.8L867.4 569.0L867.5 529.7L867.5 547.7L867.6 503.2L867.7 590.9L867.7 524.4L867.8 613.3L868.0 563.6L868.0 582.0L868.1 459.6L868.2 695.4L868.2 590.2L868.3 560.6L868.4 597.0L868.4 538.0L868.5 553.2L868.5 504.7L868.7 576.4L868.7 575.7L868.8 572.3L869.0 592.2L869.0 527.0L869.1 577.2L869.2 511.4L869.2 544.5L869.3 519.3L869.3 585.2L869.4 516.7L869.5 544.7L869.5 531.2L869.6 478.3L869.7 572.4L869.7 559.6L869.8 531.7L869.9 519.9L870.0 595.4L870.0 538.1L870.1 524.9L870.2 579.6L870.3 546.4L870.3 579.3L870.4 538.1L870.5 566.9L870.5 576.9L870.7 601.9L870.7 528.7L870.8 568.4L871.0 604.9L871.0 539.1L871.1 524.8L871.2 555.7L871.2 549.9L871.3 512.0L871.3 582.3L871.4 509.7L871.5 548.3L871.5 646.3L871.6 542.2L871.7 582.6L871.8 464.9L871.8 636.1L872.0 550.6L872.0 564.0L872.1 554.4L872.2 624.3L872.3 541.5L872.3 461.8L872.4 567.2L872.5 565.7L872.5 524.9L872.7 583.3L872.7 572.9L872.8 571.9L873.0 534.4L873.0 550.6L873.1 577.2L873.2 565.3L873.3 541.6L873.5 625.1L873.5 523.8L873.6 618.9L873.6 479.1L873.7 546.5L873.8 563.9L873.9 447.3L874.0 571.1L874.0 537.9L874.1 583.3L874.2 580.7L874.3 556.2L874.3 598.4L874.4 528.9L874.5 545.5L874.5 614.7L874.6 523.5L874.7 531.3L874.8 616.3L874.8 559.8L875.0 696.1L875.0 569.1L875.2 534.0L875.2 593.9L875.3 554.0L875.4 553.6L875.5 614.5L875.5 548.8L875.7 563.7L875.7 492.8L875.8 447.7L876.0 605.6L876.0 576.3L876.1 523.8L876.2 627.3L876.3 577.6L876.5 496.0L876.5 563.1L876.6 543.1L876.7 584.9L876.8 535.8L876.9 592.0L877.0 587.6L877.0 647.4L877.2 506.4L877.3 650.6L877.3 508.8L877.5 572.4L877.5 465.6L877.6 603.6L877.7 521.5L877.8 559.9L877.9 587.7L877.9 479.4L878.0 533.5L878.0 557.7L878.1 641.7L878.2 486.4L878.2 555.2L878.3 559.4L878.3 597.7L878.4 527.2L878.5 585.6L878.5 597.7L878.6 605.0L878.7 533.2L878.8 658.4L879.0 531.5L879.0 521.6L879.1 586.3L879.2 535.5L879.3 564.4L879.3 549.6L879.4 575.7L879.5 574.5L879.5 575.1L879.6 660.2L879.7 560.2L879.7 563.8L879.8 647.4L879.9 534.7L880.0 619.8L880.0 551.6L880.2 532.6L880.2 588.4L880.3 551.7L880.4 517.0L880.5 604.4L880.5 518.4L880.6 512.2L880.7 575.1L880.7 563.1L880.8 559.4L880.9 542.4L881.0 627.7L881.0 547.5L881.1 647.2L881.2 564.7L881.3 549.4L881.3 514.5L881.4 529.6L881.5 646.3L881.6 535.5L881.7 592.9L881.8 602.0L881.9 546.6L882.0 580.9L882.0 567.4L882.1 519.0L882.2 541.7L882.3 542.5L882.3 605.5L882.5 514.5L882.5 496.6L882.7 577.4L882.7 548.9L882.8 524.2L882.9 587.0L883.0 548.5L883.0 565.0L883.1 585.6L883.2 551.1L883.2 571.3L883.3 501.6L883.4 577.5L883.5 539.9L883.5 575.2L883.7 446.6L883.7 525.0L883.8 538.3L883.8 581.3L884.0 549.1L884.0 567.1L884.1 574.5L884.2 472.1L884.3 536.9L884.4 585.3L884.5 574.2L884.5 554.0L884.6 564.3L884.7 517.6L884.7 555.8L884.8 525.6L884.9 588.7L884.9 524.7L885.0 578.3L885.0 561.3L885.1 607.5L885.2 520.1L885.2 529.3L885.3 532.0L885.3 531.1L885.5 562.9L885.5 530.2L885.6 505.0L885.7 583.8L885.7 567.0L885.8 566.4L885.9 537.0L885.9 600.6L886.0 580.4L886.0 593.0L886.1 545.4L886.2 557.9L886.3 555.5L886.3 529.7L886.4 612.6L886.5 594.2L886.5 540.1L886.6 526.9L886.7 635.4L886.7 536.1L886.8 570.1L886.8 581.1L886.9 536.9L887.0 563.0L887.0 598.7L887.1 603.1L887.2 547.5L887.3 529.2L887.4 488.4L887.4 545.7L887.5 543.6L887.5 504.9L887.6 699.0L887.7 559.3L887.8 538.1L888.0 590.1L888.0 595.0L888.1 595.5L888.2 546.8L888.3 563.8L888.4 587.2L888.5 531.6L888.5 558.5L888.6 649.2L888.7 519.0L888.8 534.6L888.9 561.7L888.9 530.3L889.0 544.9L889.0 512.9L889.2 592.6L889.3 492.6L889.5 564.3L889.5 576.6L889.6 533.1L889.7 535.7L889.8 545.8L889.9 666.8L890.0 561.8L890.0 576.0L890.2 596.8L890.2 522.8L890.3 532.4L890.4 474.2L890.5 559.9L890.5 557.0L890.6 542.6L890.7 579.9L890.7 561.5L890.8 558.6L890.9 586.7L891.0 578.5L891.0 556.5L891.1 574.7L891.2 535.4L891.2 558.1L891.3 561.5L891.4 533.4L891.4 596.5L891.5 564.4L891.5 529.9L891.6 445.2L891.7 585.3L891.7 546.6L891.8 528.2L891.9 516.9L891.9 598.2L892.0 546.7L892.0 546.0L892.1 532.7L892.2 565.8L892.3 539.8L892.4 508.8L892.5 625.0L892.5 566.8L892.6 579.3L892.7 546.5L892.8 562.2L892.8 575.8L893.0 553.0L893.0 543.1L893.2 577.2L893.2 570.1L893.3 563.8L893.3 560.0L893.4 588.8L893.5 583.3L893.5 587.4L893.6 528.1L893.7 596.4L893.8 537.3L893.9 567.9L894.0 506.8L894.0 520.3L894.2 576.0L894.2 533.8L894.3 569.7L894.4 576.6L894.5 548.6L894.5 560.8L894.7 604.3L894.7 571.7L894.8 529.5L894.9 521.4L894.9 612.1L895.0 548.7L895.0 562.4L895.2 534.4L895.3 522.3L895.4 567.6L895.5 503.8L895.5 558.4L895.6 532.2L895.6 589.9L895.7 539.0L895.8 529.5L896.0 559.5L896.0 543.0L896.1 503.6L896.1 553.5L896.2 552.2L896.3 525.8L896.4 571.9L896.5 542.1L896.5 538.9L896.7 570.9L896.8 514.1L896.9 559.1L897.0 524.6L897.0 566.8L897.1 549.7L897.2 619.4L897.2 575.9L897.3 548.1L897.3 565.9L897.4 534.1L897.5 553.0L897.5 537.4L897.7 561.4L897.7 522.2L897.8 544.1L897.8 571.1L898.0 549.3L898.0 568.0L898.1 527.5L898.2 583.0L898.3 552.1L898.4 546.8L898.5 592.2L898.5 599.0L898.7 523.3L898.7 566.0L898.8 609.0L898.8 687.5L899.0 556.9L899.0 546.1L899.1 590.7L899.2 525.2L899.2 550.0L899.3 547.5L899.4 553.1L899.5 501.4L899.5 553.7L899.7 515.9L899.7 578.4L899.8 547.2L899.8 501.5L900.0 608.2L900.0 564.4L900.1 536.7L900.2 574.3L900.2 559.4L900.3 543.0L900.3 542.1L900.4 580.4L900.5 567.0L900.5 559.9L900.6 596.4L900.7 531.8L900.7 541.3L900.8 544.9L900.8 572.9L900.9 533.9L901.0 567.8L901.0 559.2L901.1 611.2L901.2 541.0L901.2 549.3L901.3 539.0L901.3 579.8L901.4 523.4L901.5 525.1L901.5 535.9L901.7 556.5L901.7 549.3L901.8 533.9L901.9 575.5L902.0 542.3L902.0 557.4L902.1 536.2L902.2 579.9L902.3 539.9L902.3 565.6L902.5 537.2L902.5 541.6L902.7 567.3L902.8 537.3L902.9 580.8L903.0 528.6L903.0 587.8L903.1 515.3L903.2 551.6L903.3 559.4L903.4 600.2L903.4 536.8L903.5 584.8L903.5 557.9L903.6 587.5L903.7 581.2L903.8 551.3L903.9 572.9L903.9 543.9L904.0 550.5L904.0 558.0L904.1 521.1L904.2 574.1L904.2 543.7L904.3 570.8L904.3 536.4L904.5 554.7L904.5 571.0L904.6 547.4L904.7 561.9L904.8 520.6L904.8 513.0L905.0 544.2L905.0 583.7L905.1 534.0L905.2 642.0L905.3 551.2L905.3 525.4L905.4 566.7L905.5 535.0L905.5 571.6L905.6 573.8L905.7 531.8L905.8 570.5L905.8 579.8L905.9 526.8L906.0 543.2L906.0 504.6L906.2 566.4L906.2 564.8L906.3 560.8L906.3 541.6L906.4 562.8L906.5 543.6L906.5 546.7L906.6 562.4L906.7 539.5L906.7 540.3L906.8 539.4L906.9 545.3L907.0 515.3L907.0 525.1L907.1 564.9L907.2 513.3L907.3 514.6L907.5 560.9L907.5 546.8L907.6 538.3L907.7 558.5L907.7 554.9L907.8 536.4L907.9 565.1L907.9 529.8L908.0 532.2L908.0 563.2L908.1 569.9L908.1 538.5L908.2 538.8L908.3 544.7L908.4 561.1L908.5 519.7L908.5 537.8L908.6 480.2L908.7 493.3L908.8 538.0L908.8 533.9L908.9 564.8L909.0 559.5L909.0 555.8L909.1 520.0L909.2 571.3L909.3 580.4L909.5 504.7L909.5 559.0L909.7 495.8L909.8 548.9L909.8 583.6L910.0 573.8L910.0 568.2L910.2 535.4L910.2 564.0L910.3 537.2L910.4 530.3L910.4 596.0L910.5 539.2L910.5 535.5L910.7 559.0L910.7 550.7L910.8 553.5L911.0 527.5L911.0 554.4L911.1 526.6L911.2 555.5L911.2 529.7L911.3 536.3L911.4 562.2L911.5 553.0L911.5 596.1L911.6 529.7L911.7 530.1L911.8 561.5L911.9 492.5L912.0 541.1L912.0 539.1L912.1 538.2L912.2 548.6L912.3 536.4L912.3 545.1L912.5 543.0L912.5 542.4L912.6 549.1L912.7 534.2L912.8 539.0L912.9 549.0L913.0 528.3L913.0 527.1L913.1 521.9L913.2 542.7L913.2 525.8L913.3 542.4L913.5 578.0L913.5 546.2L913.6 684.0L913.7 540.3L913.8 557.3L914.0 502.3L914.1 542.3L914.1 558.4L914.2 526.0L914.2 530.1L914.3 545.9L914.4 538.5L914.4 556.6L914.5 550.7L914.5 535.0L914.7 526.2L914.7 549.9L914.8 535.0L914.9 594.6L914.9 529.0L915.0 552.1L915.0 534.4L915.1 480.2L915.2 571.3L915.3 573.4L915.3 574.6L915.4 531.0L915.5 550.5L915.5 529.4L915.6 523.9L915.6 548.1L915.7 533.6L915.8 544.7L915.9 554.4L916.0 535.6L916.0 541.6L916.2 547.6L916.2 534.3L916.3 559.9L916.5 525.8L916.5 529.4L916.7 554.8L916.7 551.7L916.8 530.2L916.9 559.8L917.0 555.8L917.0 545.6L917.2 536.3L917.2 559.1L917.3 538.2L917.3 519.9L917.4 551.5L917.5 534.0L917.5 537.3L917.7 527.5L917.7 539.3L917.8 540.6L917.8 523.0L917.9 545.2L918.0 528.5L918.0 539.0L918.1 536.7L918.2 547.8L918.3 547.2L918.3 532.1L918.5 583.5L918.5 551.3L918.6 556.5L918.7 545.6L918.8 531.6L918.9 528.2L919.0 555.5L919.0 554.5L919.1 530.5L919.2 556.0L919.3 536.1L919.3 533.7L919.5 546.3L919.5 524.2L919.6 564.7L919.7 547.7L919.8 529.4L919.9 529.2L920.0 548.0L920.0 541.6L920.1 523.2L920.2 543.9L920.3 520.5L920.5 635.3L920.5 531.0L920.6 514.3L920.7 548.7L920.7 536.4L920.8 511.0L920.8 589.1L921.0 534.6L921.0 531.3L921.2 536.9L921.2 498.8L921.3 447.3L921.4 543.7L921.5 526.9L921.5 521.5L921.7 539.4L921.8 549.7L921.9 524.2L922.0 538.2L922.0 536.5L922.1 543.4L922.2 514.9L922.2 516.1L922.3 541.2L922.3 543.9L922.4 529.9L922.5 537.3L922.5 531.3L922.7 543.9L922.7 535.1L922.8 551.9L923.0 523.2L923.0 542.7L923.1 546.2L923.2 526.4L923.3 524.5L923.3 537.0L923.5 530.9L923.5 532.3L923.6 524.4L923.7 529.3L923.8 548.1L924.0 582.6L924.0 538.2L924.1 523.8L924.2 543.9L924.3 518.3L924.5 543.8L924.5 532.5L924.6 519.5L924.7 534.4L924.7 520.1L924.8 518.4L924.8 514.1L924.9 539.9L925.0 531.7L925.0 526.1L925.1 538.0L925.2 521.7L925.3 544.7L925.4 529.2L925.5 533.9L925.5 528.9L925.6 544.4L925.7 528.1L925.7 534.3L925.8 551.1L925.8 517.1L926.0 540.9L926.0 555.7L926.1 558.2L926.2 528.9L926.2 531.3L926.3 537.1L926.4 537.1L926.4 526.8L926.5 529.8L926.5 537.3L926.6 545.9L926.7 520.2L926.7 527.5L926.8 525.4L926.9 540.8L927.0 528.5L927.0 588.9L927.1 681.8L927.2 531.0L927.2 532.7L927.3 552.1L927.3 528.4L927.5 530.3L927.5 530.2L927.6 516.5L927.6 531.2L927.7 522.8L927.8 524.3L927.8 520.8L928.0 535.1L928.0 522.1L928.1 536.7L928.2 529.2L928.3 516.7L928.5 534.6L928.5 522.0L928.6 455.6L928.6 536.8L928.7 529.6L928.8 528.0L928.8 534.6L928.9 493.7L929.0 530.5L929.0 522.4L929.2 540.4L929.3 544.0L929.4 521.4L929.5 543.9L929.5 517.2L929.6 530.0L929.7 517.4L929.8 518.6L929.9 531.8L930.0 525.1L930.0 531.4L930.2 513.2L930.3 529.7L930.4 519.8L930.5 528.9L930.5 537.8L930.6 527.1L930.7 534.6L930.8 529.3L930.9 525.7L931.0 540.3L931.0 475.9L931.1 540.6L931.2 533.9L931.3 533.1L931.5 491.9L931.5 494.5L931.7 535.0L931.8 543.4L931.9 513.3L932.0 531.0L932.0 519.2L932.1 530.1L932.2 513.4L932.2 524.4L932.3 519.0L932.3 527.5L932.5 473.0L932.5 496.2L932.6 525.3L932.7 520.2L932.8 521.0L932.9 504.6L932.9 524.3L933.0 510.2L933.0 528.3L933.1 515.3L933.2 525.2L933.3 520.9L933.3 516.7L933.4 528.2L933.5 525.4L933.5 526.2L933.6 523.9L933.7 531.3L933.7 529.0L933.8 524.0L933.9 523.1L934.0 540.8L934.0 522.7L934.1 514.2L934.2 534.0L934.3 510.2L934.4 524.3L934.5 519.8L934.5 534.9L934.6 510.1L934.7 520.3L934.8 529.9L935.0 480.6L935.0 481.6L935.1 526.2L935.2 522.1L935.3 530.5L935.4 521.9L935.4 534.4L935.5 529.2L935.5 516.1L935.7 526.5L935.8 532.6L935.9 516.2L936.0 520.4L936.0 522.6L936.2 505.9L936.2 516.2L936.3 516.7L936.3 513.5L936.4 528.8L936.5 514.6L936.5 516.5L936.7 526.9L936.7 523.2L936.8 526.3L936.8 512.8L937.0 520.0L937.0 521.6L937.1 523.5L937.2 518.3L937.2 521.0L937.3 515.6L937.3 504.8L937.5 517.7L937.5 580.7L937.6 691.1L937.7 513.7L937.7 514.6L937.8 524.1L938.0 510.5L938.0 519.8L938.1 526.7L938.2 516.6L938.3 513.4L938.4 529.4L938.5 515.8L938.5 519.0L938.6 495.8L938.7 519.5L938.8 515.5L938.9 524.9L939.0 513.5L939.0 508.1L939.2 525.1L939.3 527.1L939.4 514.0L939.5 515.4L939.5 514.7L939.7 521.9L939.7 516.9L939.8 510.6L939.8 516.9L940.0 513.5L940.0 523.1L940.1 513.6L940.2 514.4L940.3 511.6L940.4 519.6L940.5 519.3L940.5 519.2L940.6 512.4L940.7 526.4L940.8 514.3L940.9 519.3L941.0 516.7L941.0 499.1L941.2 537.3L941.2 519.6L941.3 515.1L941.3 521.2L941.4 507.4L941.5 514.8L941.5 520.4L941.6 514.6L941.7 522.0L941.8 515.4L941.9 525.0L942.0 511.2L942.0 515.5L942.1 512.8L942.1 525.4L942.2 524.3L942.3 511.3L942.3 509.8L942.5 519.2L942.5 518.2L942.6 528.9L942.7 513.6L942.8 505.8L942.9 504.0L943.0 514.1L943.0 514.7L943.1 525.3L943.2 475.9L943.2 513.5L943.3 526.0L943.5 509.4L943.5 520.1L943.6 512.3L943.7 521.6L943.8 522.0L943.9 523.8L944.0 509.2L944.0 514.0L944.1 509.5L944.2 521.0L944.2 511.4L944.3 523.4L944.4 499.5L944.5 506.5L944.5 515.3L944.6 519.8L944.7 496.0L944.8 466.6L944.9 524.4L945.0 509.5L945.0 524.9L945.2 505.7L945.2 516.7L945.3 516.1L945.4 499.6L945.5 517.8L945.5 520.9L945.7 510.6L945.7 552.7L945.8 500.7L946.0 518.4L946.0 513.9L946.1 501.5L946.2 570.3L946.2 506.9L946.3 515.5L946.4 511.0L946.5 542.4L946.5 518.3L946.7 503.9L946.7 509.3L946.8 522.4L947.0 512.1L947.0 506.0L947.2 524.9L947.2 518.5L947.3 515.0L947.3 500.2L947.5 511.1L947.5 513.3L947.6 518.7L947.6 510.6L947.7 514.4L947.8 515.9L947.9 520.5L948.0 509.4L948.0 520.9L948.2 509.5L948.2 513.6L948.3 507.7L948.4 515.5L948.5 511.3L948.5 505.1L948.7 540.8L948.7 511.3L948.8 517.6L948.9 528.0L949.0 503.2L949.0 510.5L949.1 509.3L949.1 519.3L949.2 511.1L949.3 511.7L949.4 518.8L949.5 517.1L949.5 516.7L949.7 505.9L949.7 508.4L949.8 513.1L949.9 519.3L949.9 510.8L950.0 511.1L950.0 503.6L950.1 521.4L950.2 512.8L950.3 513.4L950.4 509.1L950.5 522.7L950.5 510.0L950.6 515.0L950.7 507.7L950.8 510.2L950.8 513.5L950.9 506.7L951.0 508.8L951.0 512.3L951.1 507.7L951.2 516.8L951.3 506.1L951.4 517.3L951.5 516.0L951.5 509.0L951.7 531.0L951.7 529.1L951.8 526.2L951.8 511.2L952.0 512.6" stroke="#0072bd" stroke-width="1.8" fill="none" stroke-linejoin="round" stroke-linecap="butt"/>
<g font-size="20" fill="#262626">
<text x="69.1" y="434.8" text-anchor="end">200</text>
<text x="69.1" y="506.8" text-anchor="end">100</text>
<text x="72.9" y="577.8" text-anchor="end">0</text>
<text x="70.2" y="649.8" text-anchor="end">-100</text>
<text x="70.2" y="720.8" text-anchor="end">-200</text>
<text x="82.1" y="742.0" text-anchor="middle">0</text>
<text x="191.1" y="742.0" text-anchor="middle">3</text>
<text x="299.1" y="742.0" text-anchor="middle">6</text>
<text x="408.1" y="742.0" text-anchor="middle">9</text>
<text x="516.1" y="742.0" text-anchor="middle">12</text>
<text x="625.1" y="742.0" text-anchor="middle">15</text>
<text x="733.1" y="742.0" text-anchor="middle">18</text>
<text x="842.1" y="742.0" text-anchor="middle">21</text>
<text x="950.1" y="742.0" text-anchor="middle">24</text>
</g>
<text x="502.8" y="17" font-size="22" font-weight="bold" fill="#000" text-anchor="middle">JJY20240526.txt</text>
<text x="497.3" y="771.5" font-size="22" fill="#262626" text-anchor="middle">Time (hours after midnight UTC)</text>
<text transform="translate(19.3 182.6) rotate(-90)" font-size="22" fill="#262626" text-anchor="middle">Amplitude (dB)</text>
<text transform="translate(19.3 579.6) rotate(-90)" font-size="22" fill="#262626" text-anchor="middle">Phase (degrees)</text>
</g>
</svg>
</body>
</html>
